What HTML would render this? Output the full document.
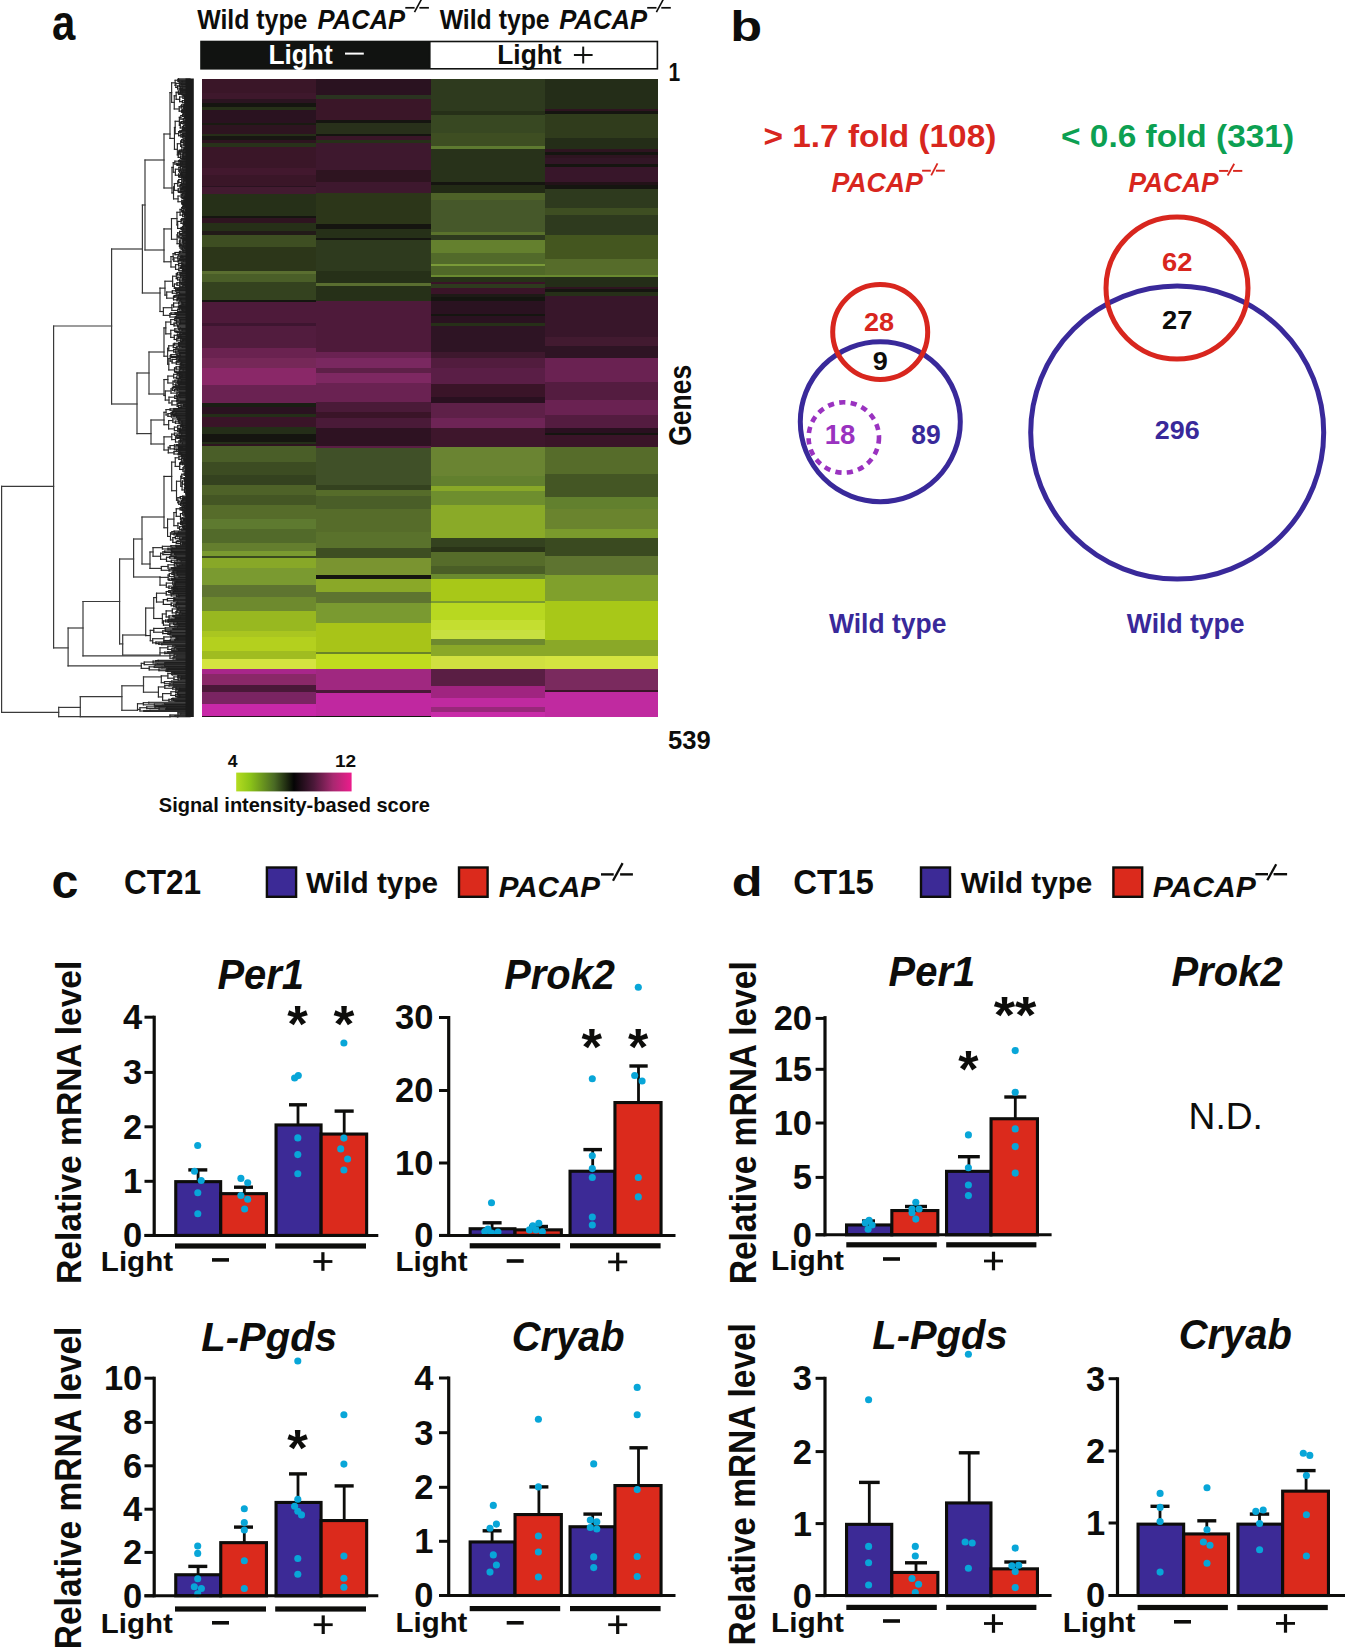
<!DOCTYPE html>
<html><head><meta charset="utf-8"><title>Figure</title>
<style>html,body{margin:0;padding:0;background:#fff;overflow:hidden;}svg{display:block;}
text{font-family:"Liberation Sans",sans-serif;}</style></head>
<body><svg width="1345" height="1647" viewBox="0 0 1345 1647">
<rect width="1345" height="1647" fill="#ffffff"/>
<text transform="translate(51.92,40.28) scale(0.8914,1.0701)" font-size="47" font-weight="bold" fill="#0d0d0b">a</text>
<text transform="translate(730.17,41.06) scale(1.1872,0.9830)" font-size="44" font-weight="bold" fill="#0d0d0b">b</text>
<text transform="translate(51.44,897.85) scale(1.0513,1.0359)" font-size="46" font-weight="bold" fill="#0d0d0b">c</text>
<text transform="translate(731.79,896.06) scale(1.2007,0.9826)" font-size="42" font-weight="bold" fill="#0d0d0b">d</text>
<text transform="translate(197.14,28.8) scale(0.9203,1.0000)" font-size="27.03" font-weight="bold" fill="#0d0d0b">Wild type</text>
<text transform="translate(317.51,28.8) scale(0.9470,1.0000)" font-size="27.03" font-weight="bold" font-style="italic" fill="#0d0d0b">PACAP</text>
<rect x="405.3" y="6.95" width="9.3" height="1.7" fill="#0d0d0b" />
<rect x="419.4" y="6.95" width="9.5" height="1.7" fill="#0d0d0b" />
<line x1="414.5" y1="12.2" x2="421.5" y2="-0.8" stroke="#0d0d0b" stroke-width="1.61" stroke-linecap="butt"/>
<text transform="translate(439.64,28.8) scale(0.9178,1.0000)" font-size="27.03" font-weight="bold" fill="#0d0d0b">Wild type</text>
<text transform="translate(559.21,28.8) scale(0.9492,1.0000)" font-size="27.03" font-weight="bold" font-style="italic" fill="#0d0d0b">PACAP</text>
<rect x="647.2" y="6.95" width="9.3" height="1.7" fill="#0d0d0b" />
<rect x="661.3" y="6.95" width="9.5" height="1.7" fill="#0d0d0b" />
<line x1="656.4" y1="12.2" x2="663.4" y2="-0.8" stroke="#0d0d0b" stroke-width="1.61" stroke-linecap="butt"/>
<rect x="200.2" y="40.7" width="228.8" height="28.9" fill="#111311" />
<rect x="429.8" y="41.5" width="227.6" height="27.3" fill="#ffffff" stroke="#111311" stroke-width="1.6"/>
<text transform="translate(268.38,63.5) scale(0.9643,1.0000)" font-size="27.33" font-weight="bold" fill="#ffffff">Light</text>
<rect x="345" y="52.6" width="18.8" height="2" fill="#ffffff" />
<text transform="translate(497.29,63.5) scale(0.9628,1.0000)" font-size="27.33" font-weight="bold" fill="#0d0d0b">Light</text>
<rect x="573.9" y="54" width="18.7" height="2" fill="#111311" />
<rect x="582.2" y="46.6" width="2" height="16.9" fill="#111311" />
<g shape-rendering="crispEdges">
<rect x="201.5" y="78.5" width="114" height="14.9" fill="#3a1628" />
<rect x="201.5" y="93.4" width="114" height="5.1" fill="#3e182c" />
<rect x="201.5" y="98.5" width="114" height="4.3" fill="#2a1420" />
<rect x="201.5" y="102.8" width="114" height="4.2" fill="#151510" />
<rect x="201.5" y="107" width="114" height="2.6" fill="#263018" />
<rect x="201.5" y="109.6" width="114" height="12.9" fill="#2a1220" />
<rect x="201.5" y="122.5" width="114" height="2.5" fill="#1a1a12" />
<rect x="201.5" y="125" width="114" height="8.6" fill="#2e1420" />
<rect x="201.5" y="133.6" width="114" height="2.4" fill="#262e18" />
<rect x="201.5" y="136" width="114" height="4.4" fill="#181612" />
<rect x="201.5" y="140.4" width="114" height="2.6" fill="#2e1420" />
<rect x="201.5" y="143" width="114" height="4.3" fill="#28321a" />
<rect x="201.5" y="147.3" width="114" height="20.7" fill="#3a1628" />
<rect x="201.5" y="168" width="114" height="7" fill="#42182e" />
<rect x="201.5" y="175" width="114" height="10.7" fill="#3a1628" />
<rect x="201.5" y="185.7" width="114" height="1.7" fill="#2a1220" />
<rect x="201.5" y="187.4" width="114" height="6.9" fill="#421a30" />
<rect x="201.5" y="194.3" width="114" height="21.3" fill="#263018" />
<rect x="201.5" y="215.6" width="114" height="2.6" fill="#151510" />
<rect x="201.5" y="218.2" width="114" height="4.3" fill="#2e1420" />
<rect x="201.5" y="222.5" width="114" height="8.5" fill="#263018" />
<rect x="201.5" y="231" width="114" height="4.3" fill="#221a18" />
<rect x="201.5" y="235.3" width="114" height="12" fill="#3e4e22" />
<rect x="201.5" y="247.3" width="114" height="23.9" fill="#2c3619" />
<rect x="201.5" y="271.2" width="114" height="2.6" fill="#5a6e30" />
<rect x="201.5" y="273.8" width="114" height="8.5" fill="#4a5e28" />
<rect x="201.5" y="282.3" width="114" height="18" fill="#34421f" />
<rect x="201.5" y="300.3" width="114" height="1.7" fill="#151510" />
<rect x="201.5" y="302" width="114" height="20.5" fill="#4e1a3a" />
<rect x="201.5" y="322.5" width="114" height="3.5" fill="#3e1530" />
<rect x="201.5" y="326" width="114" height="22.2" fill="#521c3e" />
<rect x="201.5" y="348.2" width="114" height="9.8" fill="#6a2250" />
<rect x="201.5" y="358" width="114" height="10.3" fill="#762858" />
<rect x="201.5" y="368.3" width="114" height="17.1" fill="#8a2868" />
<rect x="201.5" y="385.4" width="114" height="17.9" fill="#6a2252" />
<rect x="201.5" y="403.3" width="114" height="3.4" fill="#1a1e14" />
<rect x="201.5" y="406.7" width="114" height="7.7" fill="#2a1220" />
<rect x="201.5" y="414.4" width="114" height="2.6" fill="#242e18" />
<rect x="201.5" y="417" width="114" height="10.3" fill="#3a1428" />
<rect x="201.5" y="427.3" width="114" height="6.8" fill="#242e18" />
<rect x="201.5" y="434.1" width="114" height="7.7" fill="#151510" />
<rect x="201.5" y="441.8" width="114" height="1.7" fill="#242e18" />
<rect x="201.5" y="443.5" width="114" height="2.5" fill="#2e1420" />
<rect x="201.5" y="446" width="114" height="15.5" fill="#4a5e28" />
<rect x="201.5" y="461.5" width="114" height="13.5" fill="#3c4c22" />
<rect x="201.5" y="475" width="114" height="9.5" fill="#34421f" />
<rect x="201.5" y="484.5" width="114" height="10.3" fill="#4e6228" />
<rect x="201.5" y="494.8" width="114" height="10.2" fill="#445624" />
<rect x="201.5" y="505" width="114" height="13.7" fill="#566c2a" />
<rect x="201.5" y="518.7" width="114" height="10.3" fill="#5e7a30" />
<rect x="201.5" y="529" width="114" height="13.7" fill="#526a2a" />
<rect x="201.5" y="542.7" width="114" height="8.5" fill="#647e2e" />
<rect x="201.5" y="551.2" width="114" height="5.2" fill="#7a9a30" />
<rect x="201.5" y="556.4" width="114" height="2" fill="#3a4a20" />
<rect x="201.5" y="558.4" width="114" height="9.9" fill="#88a828" />
<rect x="201.5" y="568.3" width="114" height="17.1" fill="#7a9a30" />
<rect x="201.5" y="585.4" width="114" height="12" fill="#5e7430" />
<rect x="201.5" y="597.4" width="114" height="13.6" fill="#6e8a2e" />
<rect x="201.5" y="611" width="114" height="19.7" fill="#98b820" />
<rect x="201.5" y="630.7" width="114" height="6.1" fill="#aac620" />
<rect x="201.5" y="636.8" width="114" height="13.7" fill="#b4d01e" />
<rect x="201.5" y="650.5" width="114" height="8.5" fill="#a0bc20" />
<rect x="201.5" y="659" width="114" height="10.3" fill="#d4e440" />
<rect x="201.5" y="669.3" width="114" height="4.7" fill="#a8268a" />
<rect x="201.5" y="674" width="114" height="10.7" fill="#8a2868" />
<rect x="201.5" y="684.7" width="114" height="6.9" fill="#4a1838" />
<rect x="201.5" y="691.6" width="114" height="11.9" fill="#7a2462" />
<rect x="201.5" y="703.5" width="114" height="12" fill="#c828a8" />
<rect x="201.5" y="715.5" width="114" height="1.7" fill="#2a1020" />
<rect x="315.5" y="78.5" width="115" height="16.5" fill="#2a1220" />
<rect x="315.5" y="95" width="115" height="3.5" fill="#2a3320" />
<rect x="315.5" y="98.5" width="115" height="21.5" fill="#3a1628" />
<rect x="315.5" y="120" width="115" height="2.5" fill="#151510" />
<rect x="315.5" y="122.5" width="115" height="11.1" fill="#28301a" />
<rect x="315.5" y="133.6" width="115" height="2.4" fill="#151510" />
<rect x="315.5" y="136" width="115" height="4.4" fill="#3a1628" />
<rect x="315.5" y="140.4" width="115" height="2.6" fill="#263018" />
<rect x="315.5" y="143" width="115" height="27.3" fill="#3e182e" />
<rect x="315.5" y="170.3" width="115" height="12" fill="#2e1420" />
<rect x="315.5" y="182.3" width="115" height="10.3" fill="#3e182e" />
<rect x="315.5" y="192.6" width="115" height="31.6" fill="#2c3619" />
<rect x="315.5" y="224.2" width="115" height="4.3" fill="#151510" />
<rect x="315.5" y="228.5" width="115" height="9.4" fill="#263018" />
<rect x="315.5" y="237.9" width="115" height="1.7" fill="#151510" />
<rect x="315.5" y="239.6" width="115" height="31.6" fill="#2e3a1e" />
<rect x="315.5" y="271.2" width="115" height="12" fill="#263018" />
<rect x="315.5" y="283.2" width="115" height="2.6" fill="#5a6e30" />
<rect x="315.5" y="285.8" width="115" height="15.4" fill="#263018" />
<rect x="315.5" y="301.2" width="115" height="50.4" fill="#4e1a3a" />
<rect x="315.5" y="351.6" width="115" height="6.4" fill="#6a2252" />
<rect x="315.5" y="358" width="115" height="10.3" fill="#7a2860" />
<rect x="315.5" y="368.3" width="115" height="4.2" fill="#5e2048" />
<rect x="315.5" y="372.5" width="115" height="10.3" fill="#7e2862" />
<rect x="315.5" y="382.8" width="115" height="18.8" fill="#6a2252" />
<rect x="315.5" y="401.6" width="115" height="10.4" fill="#4a1a38" />
<rect x="315.5" y="412" width="115" height="6" fill="#3a1428" />
<rect x="315.5" y="418" width="115" height="10" fill="#4a1a38" />
<rect x="315.5" y="428" width="115" height="17.5" fill="#2e1222" />
<rect x="315.5" y="445.5" width="115" height="2.3" fill="#5a1e44" />
<rect x="315.5" y="447.8" width="115" height="36.7" fill="#405028" />
<rect x="315.5" y="484.5" width="115" height="5.2" fill="#34421f" />
<rect x="315.5" y="489.7" width="115" height="6.3" fill="#566c2a" />
<rect x="315.5" y="496" width="115" height="12.5" fill="#4a5e28" />
<rect x="315.5" y="508.5" width="115" height="23.1" fill="#566c2a" />
<rect x="315.5" y="531.6" width="115" height="16.2" fill="#5a722c" />
<rect x="315.5" y="547.8" width="115" height="10.2" fill="#3e4e22" />
<rect x="315.5" y="558" width="115" height="17.2" fill="#7a9430" />
<rect x="315.5" y="575.2" width="115" height="3.4" fill="#151510" />
<rect x="315.5" y="578.6" width="115" height="13.7" fill="#8aa828" />
<rect x="315.5" y="592.3" width="115" height="10.2" fill="#5e7430" />
<rect x="315.5" y="602.5" width="115" height="20.5" fill="#7a9a30" />
<rect x="315.5" y="623" width="115" height="29.2" fill="#a8c418" />
<rect x="315.5" y="652.2" width="115" height="1.8" fill="#6a8428" />
<rect x="315.5" y="654" width="115" height="15.3" fill="#c0dc1e" />
<rect x="315.5" y="669.3" width="115" height="20.5" fill="#a02880" />
<rect x="315.5" y="689.8" width="115" height="3.5" fill="#4a1838" />
<rect x="315.5" y="693.3" width="115" height="22.2" fill="#c028a0" />
<rect x="315.5" y="715.5" width="115" height="1.7" fill="#151510" />
<rect x="430.5" y="78.5" width="114" height="32" fill="#2e3a1e" />
<rect x="430.5" y="110.5" width="114" height="4.3" fill="#263018" />
<rect x="430.5" y="114.8" width="114" height="18.2" fill="#384822" />
<rect x="430.5" y="133" width="114" height="13.4" fill="#3e4e22" />
<rect x="430.5" y="146.4" width="114" height="2.6" fill="#5e7a30" />
<rect x="430.5" y="149" width="114" height="32.5" fill="#28321a" />
<rect x="430.5" y="181.5" width="114" height="3.4" fill="#151510" />
<rect x="430.5" y="184.9" width="114" height="8.5" fill="#222a15" />
<rect x="430.5" y="193.4" width="114" height="6.6" fill="#4e6228" />
<rect x="430.5" y="200" width="114" height="32" fill="#46582a" />
<rect x="430.5" y="232" width="114" height="3.3" fill="#5a722c" />
<rect x="430.5" y="235.3" width="114" height="4.3" fill="#2e3a1e" />
<rect x="430.5" y="239.6" width="114" height="13.7" fill="#64802e" />
<rect x="430.5" y="253.3" width="114" height="10.2" fill="#526a2a" />
<rect x="430.5" y="263.5" width="114" height="2.6" fill="#7a9a38" />
<rect x="430.5" y="266.1" width="114" height="8.6" fill="#506828" />
<rect x="430.5" y="274.7" width="114" height="2.5" fill="#6a8a30" />
<rect x="430.5" y="277.2" width="114" height="4.3" fill="#263018" />
<rect x="430.5" y="281.5" width="114" height="2.5" fill="#3a1428" />
<rect x="430.5" y="284" width="114" height="4.3" fill="#2e3a1e" />
<rect x="430.5" y="288.3" width="114" height="5.2" fill="#3a1428" />
<rect x="430.5" y="293.5" width="114" height="3.4" fill="#1e1a16" />
<rect x="430.5" y="296.9" width="114" height="4.3" fill="#151510" />
<rect x="430.5" y="301.2" width="114" height="12.8" fill="#2a1220" />
<rect x="430.5" y="314" width="114" height="1.7" fill="#151510" />
<rect x="430.5" y="315.7" width="114" height="6.8" fill="#2a1220" />
<rect x="430.5" y="322.5" width="114" height="3.5" fill="#263018" />
<rect x="430.5" y="326" width="114" height="25.6" fill="#2e1424" />
<rect x="430.5" y="351.6" width="114" height="6.4" fill="#3e182e" />
<rect x="430.5" y="358" width="114" height="10.3" fill="#521c3e" />
<rect x="430.5" y="368.3" width="114" height="15.3" fill="#5a1e46" />
<rect x="430.5" y="383.6" width="114" height="13.4" fill="#3a1428" />
<rect x="430.5" y="397" width="114" height="6.3" fill="#2a1020" />
<rect x="430.5" y="403.3" width="114" height="14.7" fill="#5e2048" />
<rect x="430.5" y="418" width="114" height="10.1" fill="#6e2456" />
<rect x="430.5" y="428.1" width="114" height="18.8" fill="#3e162c" />
<rect x="430.5" y="446.9" width="114" height="29.1" fill="#6a8432" />
<rect x="430.5" y="476" width="114" height="10.2" fill="#62802e" />
<rect x="430.5" y="486.2" width="114" height="4.8" fill="#88a828" />
<rect x="430.5" y="491" width="114" height="14" fill="#6e8e2e" />
<rect x="430.5" y="505" width="114" height="32.5" fill="#8aaa28" />
<rect x="430.5" y="537.5" width="114" height="9.5" fill="#34421f" />
<rect x="430.5" y="547" width="114" height="5.1" fill="#2a3418" />
<rect x="430.5" y="552.1" width="114" height="13.9" fill="#566c2a" />
<rect x="430.5" y="566" width="114" height="7.5" fill="#4a5e26" />
<rect x="430.5" y="573.5" width="114" height="5.1" fill="#6a8a2e" />
<rect x="430.5" y="578.6" width="114" height="22.2" fill="#a8c818" />
<rect x="430.5" y="600.8" width="114" height="1.7" fill="#7a9a30" />
<rect x="430.5" y="602.5" width="114" height="17.5" fill="#b8d820" />
<rect x="430.5" y="620" width="114" height="10" fill="#c4de30" />
<rect x="430.5" y="630" width="114" height="8.5" fill="#c8e040" />
<rect x="430.5" y="638.5" width="114" height="6.9" fill="#6e8a2e" />
<rect x="430.5" y="645.4" width="114" height="10.2" fill="#8aa828" />
<rect x="430.5" y="655.6" width="114" height="13.7" fill="#d0e040" />
<rect x="430.5" y="669.3" width="114" height="17.1" fill="#5a1e44" />
<rect x="430.5" y="686.4" width="114" height="12" fill="#a02480" />
<rect x="430.5" y="698.4" width="114" height="8.6" fill="#c02aa0" />
<rect x="430.5" y="707" width="114" height="5" fill="#98287a" />
<rect x="430.5" y="712" width="114" height="5.2" fill="#c82ca8" />
<rect x="544.5" y="78.5" width="113.5" height="30.3" fill="#242d18" />
<rect x="544.5" y="108.8" width="113.5" height="2.5" fill="#2e1420" />
<rect x="544.5" y="111.3" width="113.5" height="2.6" fill="#151510" />
<rect x="544.5" y="113.9" width="113.5" height="23.9" fill="#303c1c" />
<rect x="544.5" y="137.8" width="113.5" height="11.2" fill="#242d18" />
<rect x="544.5" y="149" width="113.5" height="2.5" fill="#2e1420" />
<rect x="544.5" y="151.5" width="113.5" height="3.5" fill="#151510" />
<rect x="544.5" y="155" width="113.5" height="2.5" fill="#2e1420" />
<rect x="544.5" y="157.5" width="113.5" height="6.9" fill="#321626" />
<rect x="544.5" y="164.4" width="113.5" height="2.5" fill="#151510" />
<rect x="544.5" y="166.9" width="113.5" height="15.4" fill="#38162a" />
<rect x="544.5" y="182.3" width="113.5" height="2.6" fill="#221218" />
<rect x="544.5" y="184.9" width="113.5" height="4.3" fill="#151510" />
<rect x="544.5" y="189.2" width="113.5" height="18.8" fill="#2e3a1e" />
<rect x="544.5" y="208" width="113.5" height="7" fill="#3e4e22" />
<rect x="544.5" y="215" width="113.5" height="20.3" fill="#2e3a1e" />
<rect x="544.5" y="235.3" width="113.5" height="24" fill="#44561f" />
<rect x="544.5" y="259.3" width="113.5" height="15.4" fill="#566c2a" />
<rect x="544.5" y="274.7" width="113.5" height="2.5" fill="#6a8a30" />
<rect x="544.5" y="277.2" width="113.5" height="9.4" fill="#242d18" />
<rect x="544.5" y="286.6" width="113.5" height="2.6" fill="#2e1420" />
<rect x="544.5" y="289.2" width="113.5" height="2.5" fill="#151510" />
<rect x="544.5" y="291.7" width="113.5" height="4.3" fill="#263018" />
<rect x="544.5" y="296" width="113.5" height="41" fill="#38162a" />
<rect x="544.5" y="337" width="113.5" height="8.6" fill="#421a30" />
<rect x="544.5" y="345.6" width="113.5" height="12.4" fill="#2e1424" />
<rect x="544.5" y="358" width="113.5" height="24" fill="#6a2252" />
<rect x="544.5" y="382" width="113.5" height="18" fill="#541c40" />
<rect x="544.5" y="400" width="113.5" height="15" fill="#6a2252" />
<rect x="544.5" y="415" width="113.5" height="13.1" fill="#541c40" />
<rect x="544.5" y="428.1" width="113.5" height="5.1" fill="#2a1020" />
<rect x="544.5" y="433.2" width="113.5" height="1.8" fill="#151510" />
<rect x="544.5" y="435" width="113.5" height="12" fill="#3a1428" />
<rect x="544.5" y="447" width="113.5" height="27.3" fill="#566c2a" />
<rect x="544.5" y="474.3" width="113.5" height="22.2" fill="#445624" />
<rect x="544.5" y="496.5" width="113.5" height="12" fill="#62802e" />
<rect x="544.5" y="508.5" width="113.5" height="20.5" fill="#6a842e" />
<rect x="544.5" y="529" width="113.5" height="9.4" fill="#7a9a2c" />
<rect x="544.5" y="538.4" width="113.5" height="18" fill="#3a4a20" />
<rect x="544.5" y="556.4" width="113.5" height="18.8" fill="#5e7430" />
<rect x="544.5" y="575.2" width="113.5" height="25.6" fill="#80a02c" />
<rect x="544.5" y="600.8" width="113.5" height="39.5" fill="#a8c818" />
<rect x="544.5" y="640.3" width="113.5" height="15.3" fill="#8aa828" />
<rect x="544.5" y="655.6" width="113.5" height="13.7" fill="#d4e440" />
<rect x="544.5" y="669.3" width="113.5" height="20.5" fill="#7a2a5e" />
<rect x="544.5" y="689.8" width="113.5" height="1.8" fill="#3a1428" />
<rect x="544.5" y="691.6" width="113.5" height="25.6" fill="#c02aa0" />
</g>
<g fill="none" stroke-linecap="square">
<path d="M1.6 486.4L1.6 712.3" stroke="#3a3a3a" stroke-width="1.2"/>
<path d="M1.6 486.4L53.6 486.4" stroke="#3a3a3a" stroke-width="1.2"/>
<path d="M1.6 712.3L58.7 712.3" stroke="#3a3a3a" stroke-width="1.2"/>
<path d="M53.6 326L53.6 647.9" stroke="#3a3a3a" stroke-width="1.2"/>
<path d="M53.6 326L111.6 326" stroke="#3a3a3a" stroke-width="1.2"/>
<path d="M53.6 647.9L68.1 647.9" stroke="#3a3a3a" stroke-width="1.2"/>
<path d="M111.6 249L111.6 404" stroke="#3a3a3a" stroke-width="1.2"/>
<path d="M111.6 249L142.4 249" stroke="#3a3a3a" stroke-width="1.2"/>
<path d="M111.6 404L137 404" stroke="#3a3a3a" stroke-width="1.2"/>
<path d="M142.4 205L142.4 293" stroke="#3a3a3a" stroke-width="1.2"/>
<path d="M142.4 205L145 205" stroke="#3a3a3a" stroke-width="1.2"/>
<path d="M142.4 293L160 293" stroke="#3a3a3a" stroke-width="1.2"/>
<path d="M145 160L145 250" stroke="#3a3a3a" stroke-width="1.2"/>
<path d="M145 160L164 160" stroke="#3a3a3a" stroke-width="1.2"/>
<path d="M145 250L164 250" stroke="#3a3a3a" stroke-width="1.2"/>
<path d="M164 134L164 188" stroke="#3a3a3a" stroke-width="1.2"/>
<path d="M164 134L170 134" stroke="#3a3a3a" stroke-width="1.2"/>
<path d="M164 188L172 188" stroke="#3a3a3a" stroke-width="1.2"/>
<path d="M137 373L137 433.6" stroke="#3a3a3a" stroke-width="1.2"/>
<path d="M137 373L149 373" stroke="#3a3a3a" stroke-width="1.2"/>
<path d="M137 433.6L151 433.6" stroke="#3a3a3a" stroke-width="1.2"/>
<path d="M149 352L149 394" stroke="#3a3a3a" stroke-width="1.2"/>
<path d="M149 352L164 352" stroke="#3a3a3a" stroke-width="1.2"/>
<path d="M149 394L164 394" stroke="#3a3a3a" stroke-width="1.2"/>
<path d="M151 420L151 444" stroke="#3a3a3a" stroke-width="1.2"/>
<path d="M151 420L164 420" stroke="#3a3a3a" stroke-width="1.2"/>
<path d="M151 444L164 444" stroke="#3a3a3a" stroke-width="1.2"/>
<path d="M68.1 628L68.1 665.9" stroke="#3a3a3a" stroke-width="1.2"/>
<path d="M68.1 628L83 628" stroke="#3a3a3a" stroke-width="1.2"/>
<path d="M68.1 665.9L141.3 665.9" stroke="#3a3a3a" stroke-width="1.2"/>
<path d="M83 601.5L83 655.8" stroke="#3a3a3a" stroke-width="1.2"/>
<path d="M83 601.5L119.6 601.5" stroke="#3a3a3a" stroke-width="1.2"/>
<path d="M83 655.8L170 655.8" stroke="#3a3a3a" stroke-width="1.2"/>
<path d="M119.6 559L119.6 643.9" stroke="#3a3a3a" stroke-width="1.2"/>
<path d="M119.6 559L133.6 559" stroke="#3a3a3a" stroke-width="1.2"/>
<path d="M119.6 643.9L122.7 643.9" stroke="#3a3a3a" stroke-width="1.2"/>
<path d="M133.6 539L133.6 577" stroke="#3a3a3a" stroke-width="1.2"/>
<path d="M133.6 539L142 539" stroke="#3a3a3a" stroke-width="1.2"/>
<path d="M133.6 577L160 577" stroke="#3a3a3a" stroke-width="1.2"/>
<path d="M142 517L142 564" stroke="#3a3a3a" stroke-width="1.2"/>
<path d="M142 517L164 517" stroke="#3a3a3a" stroke-width="1.2"/>
<path d="M142 564L150 564" stroke="#3a3a3a" stroke-width="1.2"/>
<path d="M122.7 635L122.7 655" stroke="#3a3a3a" stroke-width="1.2"/>
<path d="M122.7 635L145.7 635" stroke="#3a3a3a" stroke-width="1.2"/>
<path d="M122.7 655L160 655" stroke="#3a3a3a" stroke-width="1.2"/>
<path d="M58.7 707.4L58.7 716.7" stroke="#3a3a3a" stroke-width="1.2"/>
<path d="M58.7 707.4L80.3 707.4" stroke="#3a3a3a" stroke-width="1.2"/>
<path d="M58.7 716.7L170 716.7" stroke="#3a3a3a" stroke-width="1.2"/>
<path d="M80.3 696.7L80.3 716.7" stroke="#3a3a3a" stroke-width="1.2"/>
<path d="M80.3 696.7L121.9 696.7" stroke="#3a3a3a" stroke-width="1.2"/>
<path d="M80.3 716.7L178 716.7" stroke="#3a3a3a" stroke-width="1.2"/>
<path d="M121.9 685.8L121.9 710.3" stroke="#3a3a3a" stroke-width="1.2"/>
<path d="M121.9 685.8L143.5 685.8" stroke="#3a3a3a" stroke-width="1.2"/>
<path d="M121.9 710.3L137.5 710.3" stroke="#3a3a3a" stroke-width="1.2"/>
<path d="M143.5 676.9L143.5 692.2" stroke="#3a3a3a" stroke-width="1.2"/>
<path d="M143.5 676.9L161.3 676.9" stroke="#3a3a3a" stroke-width="1.2"/>
<path d="M143.5 692.2L158.4 692.2" stroke="#3a3a3a" stroke-width="1.2"/>
<path d="M178.56 78.91L178.56 79.8" stroke="#1e1e1e" stroke-width="1.15"/>
<path d="M178.56 78.91L190 78.91" stroke="#1e1e1e" stroke-width="1.15"/>
<path d="M178.56 79.8L190 79.8" stroke="#1e1e1e" stroke-width="1.15"/>
<path d="M182.11 81.34L182.11 81.94" stroke="#1e1e1e" stroke-width="1.15"/>
<path d="M182.11 81.34L190 81.34" stroke="#1e1e1e" stroke-width="1.15"/>
<path d="M182.11 81.94L190 81.94" stroke="#1e1e1e" stroke-width="1.15"/>
<path d="M178.64 80.64L178.64 81.64" stroke="#1e1e1e" stroke-width="1.15"/>
<path d="M178.64 80.64L190 80.64" stroke="#1e1e1e" stroke-width="1.15"/>
<path d="M178.64 81.64L182.11 81.64" stroke="#1e1e1e" stroke-width="1.15"/>
<path d="M177.84 79.35L177.84 81.14" stroke="#1e1e1e" stroke-width="1.15"/>
<path d="M177.84 79.35L178.56 79.35" stroke="#1e1e1e" stroke-width="1.15"/>
<path d="M177.84 81.14L178.64 81.14" stroke="#1e1e1e" stroke-width="1.15"/>
<path d="M181.13 83.61L181.13 84.41" stroke="#1e1e1e" stroke-width="1.15"/>
<path d="M181.13 83.61L190 83.61" stroke="#1e1e1e" stroke-width="1.15"/>
<path d="M181.13 84.41L190 84.41" stroke="#1e1e1e" stroke-width="1.15"/>
<path d="M179.84 82.67L179.84 84.01" stroke="#1e1e1e" stroke-width="1.15"/>
<path d="M179.84 82.67L190 82.67" stroke="#1e1e1e" stroke-width="1.15"/>
<path d="M179.84 84.01L181.13 84.01" stroke="#1e1e1e" stroke-width="1.15"/>
<path d="M181.95 85.97L181.95 86.54" stroke="#1e1e1e" stroke-width="1.15"/>
<path d="M181.95 85.97L190 85.97" stroke="#1e1e1e" stroke-width="1.15"/>
<path d="M181.95 86.54L190 86.54" stroke="#1e1e1e" stroke-width="1.15"/>
<path d="M180.42 86.25L180.42 87.23" stroke="#1e1e1e" stroke-width="1.15"/>
<path d="M180.42 86.25L181.95 86.25" stroke="#1e1e1e" stroke-width="1.15"/>
<path d="M180.42 87.23L190 87.23" stroke="#1e1e1e" stroke-width="1.15"/>
<path d="M179.38 85.19L179.38 86.74" stroke="#1e1e1e" stroke-width="1.15"/>
<path d="M179.38 85.19L190 85.19" stroke="#1e1e1e" stroke-width="1.15"/>
<path d="M179.38 86.74L180.42 86.74" stroke="#1e1e1e" stroke-width="1.15"/>
<path d="M182.35 88.04L182.35 88.77" stroke="#1e1e1e" stroke-width="1.15"/>
<path d="M182.35 88.04L190 88.04" stroke="#1e1e1e" stroke-width="1.15"/>
<path d="M182.35 88.77L190 88.77" stroke="#1e1e1e" stroke-width="1.15"/>
<path d="M179.99 88.41L179.99 89.57" stroke="#1e1e1e" stroke-width="1.15"/>
<path d="M179.99 88.41L182.35 88.41" stroke="#1e1e1e" stroke-width="1.15"/>
<path d="M179.99 89.57L190 89.57" stroke="#1e1e1e" stroke-width="1.15"/>
<path d="M177.59 85.96L177.59 88.99" stroke="#1e1e1e" stroke-width="1.15"/>
<path d="M177.59 85.96L179.38 85.96" stroke="#1e1e1e" stroke-width="1.15"/>
<path d="M177.59 88.99L179.99 88.99" stroke="#1e1e1e" stroke-width="1.15"/>
<path d="M175.88 83.34L175.88 87.47" stroke="#1e1e1e" stroke-width="1.15"/>
<path d="M175.88 83.34L179.84 83.34" stroke="#1e1e1e" stroke-width="1.15"/>
<path d="M175.88 87.47L177.59 87.47" stroke="#1e1e1e" stroke-width="1.15"/>
<path d="M175.13 80.25L175.13 85.41" stroke="#2a2a2a" stroke-width="1.15"/>
<path d="M175.13 80.25L177.84 80.25" stroke="#2a2a2a" stroke-width="1.15"/>
<path d="M175.13 85.41L175.88 85.41" stroke="#2a2a2a" stroke-width="1.15"/>
<path d="M180.4 90.51L180.4 91.38" stroke="#1e1e1e" stroke-width="1.15"/>
<path d="M180.4 90.51L190 90.51" stroke="#1e1e1e" stroke-width="1.15"/>
<path d="M180.4 91.38L190 91.38" stroke="#1e1e1e" stroke-width="1.15"/>
<path d="M182.3 92.1L182.3 92.64" stroke="#1e1e1e" stroke-width="1.15"/>
<path d="M182.3 92.1L190 92.1" stroke="#1e1e1e" stroke-width="1.15"/>
<path d="M182.3 92.64L190 92.64" stroke="#1e1e1e" stroke-width="1.15"/>
<path d="M180.34 92.37L180.34 93.3" stroke="#1e1e1e" stroke-width="1.15"/>
<path d="M180.34 92.37L182.3 92.37" stroke="#1e1e1e" stroke-width="1.15"/>
<path d="M180.34 93.3L190 93.3" stroke="#1e1e1e" stroke-width="1.15"/>
<path d="M181.53 94.07L181.53 94.61" stroke="#1e1e1e" stroke-width="1.15"/>
<path d="M181.53 94.07L190 94.07" stroke="#1e1e1e" stroke-width="1.15"/>
<path d="M181.53 94.61L190 94.61" stroke="#1e1e1e" stroke-width="1.15"/>
<path d="M178.93 92.84L178.93 94.34" stroke="#1e1e1e" stroke-width="1.15"/>
<path d="M178.93 92.84L180.34 92.84" stroke="#1e1e1e" stroke-width="1.15"/>
<path d="M178.93 94.34L181.53 94.34" stroke="#1e1e1e" stroke-width="1.15"/>
<path d="M178.33 90.95L178.33 93.59" stroke="#1e1e1e" stroke-width="1.15"/>
<path d="M178.33 90.95L180.4 90.95" stroke="#1e1e1e" stroke-width="1.15"/>
<path d="M178.33 93.59L178.93 93.59" stroke="#1e1e1e" stroke-width="1.15"/>
<path d="M184.51 95.74L184.51 96.47" stroke="#1e1e1e" stroke-width="1.15"/>
<path d="M184.51 95.74L190 95.74" stroke="#1e1e1e" stroke-width="1.15"/>
<path d="M184.51 96.47L190 96.47" stroke="#1e1e1e" stroke-width="1.15"/>
<path d="M183.98 95.17L183.98 96.11" stroke="#1e1e1e" stroke-width="1.15"/>
<path d="M183.98 95.17L190 95.17" stroke="#1e1e1e" stroke-width="1.15"/>
<path d="M183.98 96.11L184.51 96.11" stroke="#1e1e1e" stroke-width="1.15"/>
<path d="M185.14 97.28L185.14 97.8" stroke="#1e1e1e" stroke-width="1.15"/>
<path d="M185.14 97.28L190 97.28" stroke="#1e1e1e" stroke-width="1.15"/>
<path d="M185.14 97.8L190 97.8" stroke="#1e1e1e" stroke-width="1.15"/>
<path d="M186.69 98.31L186.69 98.81" stroke="#1e1e1e" stroke-width="1.15"/>
<path d="M186.69 98.31L190 98.31" stroke="#1e1e1e" stroke-width="1.15"/>
<path d="M186.69 98.81L190 98.81" stroke="#1e1e1e" stroke-width="1.15"/>
<path d="M185.36 98.56L185.36 99.45" stroke="#1e1e1e" stroke-width="1.15"/>
<path d="M185.36 98.56L186.69 98.56" stroke="#1e1e1e" stroke-width="1.15"/>
<path d="M185.36 99.45L190 99.45" stroke="#1e1e1e" stroke-width="1.15"/>
<path d="M184.54 97.54L184.54 99.01" stroke="#1e1e1e" stroke-width="1.15"/>
<path d="M184.54 97.54L185.14 97.54" stroke="#1e1e1e" stroke-width="1.15"/>
<path d="M184.54 99.01L185.36 99.01" stroke="#1e1e1e" stroke-width="1.15"/>
<path d="M182.94 95.64L182.94 98.27" stroke="#1e1e1e" stroke-width="1.15"/>
<path d="M182.94 95.64L183.98 95.64" stroke="#1e1e1e" stroke-width="1.15"/>
<path d="M182.94 98.27L184.54 98.27" stroke="#1e1e1e" stroke-width="1.15"/>
<path d="M185.18 100.78L185.18 101.35" stroke="#1e1e1e" stroke-width="1.15"/>
<path d="M185.18 100.78L190 100.78" stroke="#1e1e1e" stroke-width="1.15"/>
<path d="M185.18 101.35L190 101.35" stroke="#1e1e1e" stroke-width="1.15"/>
<path d="M184.62 100.23L184.62 101.06" stroke="#1e1e1e" stroke-width="1.15"/>
<path d="M184.62 100.23L190 100.23" stroke="#1e1e1e" stroke-width="1.15"/>
<path d="M184.62 101.06L185.18 101.06" stroke="#1e1e1e" stroke-width="1.15"/>
<path d="M185.59 102.89L185.59 103.55" stroke="#1e1e1e" stroke-width="1.15"/>
<path d="M185.59 102.89L190 102.89" stroke="#1e1e1e" stroke-width="1.15"/>
<path d="M185.59 103.55L190 103.55" stroke="#1e1e1e" stroke-width="1.15"/>
<path d="M184.77 102.14L184.77 103.22" stroke="#1e1e1e" stroke-width="1.15"/>
<path d="M184.77 102.14L190 102.14" stroke="#1e1e1e" stroke-width="1.15"/>
<path d="M184.77 103.22L185.59 103.22" stroke="#1e1e1e" stroke-width="1.15"/>
<path d="M182.44 100.65L182.44 102.68" stroke="#1e1e1e" stroke-width="1.15"/>
<path d="M182.44 100.65L184.62 100.65" stroke="#1e1e1e" stroke-width="1.15"/>
<path d="M182.44 102.68L184.77 102.68" stroke="#1e1e1e" stroke-width="1.15"/>
<path d="M179.65 96.96L179.65 101.66" stroke="#1e1e1e" stroke-width="1.15"/>
<path d="M179.65 96.96L182.94 96.96" stroke="#1e1e1e" stroke-width="1.15"/>
<path d="M179.65 101.66L182.44 101.66" stroke="#1e1e1e" stroke-width="1.15"/>
<path d="M176.16 92.27L176.16 99.31" stroke="#1e1e1e" stroke-width="1.15"/>
<path d="M176.16 92.27L178.33 92.27" stroke="#1e1e1e" stroke-width="1.15"/>
<path d="M176.16 99.31L179.65 99.31" stroke="#1e1e1e" stroke-width="1.15"/>
<path d="M184.46 105.09L184.46 105.61" stroke="#1e1e1e" stroke-width="1.15"/>
<path d="M184.46 105.09L190 105.09" stroke="#1e1e1e" stroke-width="1.15"/>
<path d="M184.46 105.61L190 105.61" stroke="#1e1e1e" stroke-width="1.15"/>
<path d="M184.05 104.36L184.05 105.35" stroke="#1e1e1e" stroke-width="1.15"/>
<path d="M184.05 104.36L190 104.36" stroke="#1e1e1e" stroke-width="1.15"/>
<path d="M184.05 105.35L184.46 105.35" stroke="#1e1e1e" stroke-width="1.15"/>
<path d="M183.87 106.08L183.87 106.69" stroke="#1e1e1e" stroke-width="1.15"/>
<path d="M183.87 106.08L190 106.08" stroke="#1e1e1e" stroke-width="1.15"/>
<path d="M183.87 106.69L190 106.69" stroke="#1e1e1e" stroke-width="1.15"/>
<path d="M181.68 104.85L181.68 106.39" stroke="#1e1e1e" stroke-width="1.15"/>
<path d="M181.68 104.85L184.05 104.85" stroke="#1e1e1e" stroke-width="1.15"/>
<path d="M181.68 106.39L183.87 106.39" stroke="#1e1e1e" stroke-width="1.15"/>
<path d="M184.55 108.73L184.55 109.26" stroke="#1e1e1e" stroke-width="1.15"/>
<path d="M184.55 108.73L190 108.73" stroke="#1e1e1e" stroke-width="1.15"/>
<path d="M184.55 109.26L190 109.26" stroke="#1e1e1e" stroke-width="1.15"/>
<path d="M184.28 108.11L184.28 108.99" stroke="#1e1e1e" stroke-width="1.15"/>
<path d="M184.28 108.11L190 108.11" stroke="#1e1e1e" stroke-width="1.15"/>
<path d="M184.28 108.99L184.55 108.99" stroke="#1e1e1e" stroke-width="1.15"/>
<path d="M183.77 107.45L183.77 108.55" stroke="#1e1e1e" stroke-width="1.15"/>
<path d="M183.77 107.45L190 107.45" stroke="#1e1e1e" stroke-width="1.15"/>
<path d="M183.77 108.55L184.28 108.55" stroke="#1e1e1e" stroke-width="1.15"/>
<path d="M181.2 105.62L181.2 108" stroke="#1e1e1e" stroke-width="1.15"/>
<path d="M181.2 105.62L181.68 105.62" stroke="#1e1e1e" stroke-width="1.15"/>
<path d="M181.2 108L183.77 108" stroke="#1e1e1e" stroke-width="1.15"/>
<path d="M185 110.27L185 110.8" stroke="#1e1e1e" stroke-width="1.15"/>
<path d="M185 110.27L190 110.27" stroke="#1e1e1e" stroke-width="1.15"/>
<path d="M185 110.8L190 110.8" stroke="#1e1e1e" stroke-width="1.15"/>
<path d="M182.67 109.73L182.67 110.53" stroke="#1e1e1e" stroke-width="1.15"/>
<path d="M182.67 109.73L190 109.73" stroke="#1e1e1e" stroke-width="1.15"/>
<path d="M182.67 110.53L185 110.53" stroke="#1e1e1e" stroke-width="1.15"/>
<path d="M184.09 112.25L184.09 112.75" stroke="#1e1e1e" stroke-width="1.15"/>
<path d="M184.09 112.25L190 112.25" stroke="#1e1e1e" stroke-width="1.15"/>
<path d="M184.09 112.75L190 112.75" stroke="#1e1e1e" stroke-width="1.15"/>
<path d="M183.54 112.5L183.54 113.21" stroke="#1e1e1e" stroke-width="1.15"/>
<path d="M183.54 112.5L184.09 112.5" stroke="#1e1e1e" stroke-width="1.15"/>
<path d="M183.54 113.21L190 113.21" stroke="#1e1e1e" stroke-width="1.15"/>
<path d="M182.71 111.49L182.71 112.86" stroke="#1e1e1e" stroke-width="1.15"/>
<path d="M182.71 111.49L190 111.49" stroke="#1e1e1e" stroke-width="1.15"/>
<path d="M182.71 112.86L183.54 112.86" stroke="#1e1e1e" stroke-width="1.15"/>
<path d="M181.51 110.13L181.51 112.17" stroke="#1e1e1e" stroke-width="1.15"/>
<path d="M181.51 110.13L182.67 110.13" stroke="#1e1e1e" stroke-width="1.15"/>
<path d="M181.51 112.17L182.71 112.17" stroke="#1e1e1e" stroke-width="1.15"/>
<path d="M179.21 106.81L179.21 111.15" stroke="#1e1e1e" stroke-width="1.15"/>
<path d="M179.21 106.81L181.2 106.81" stroke="#1e1e1e" stroke-width="1.15"/>
<path d="M179.21 111.15L181.51 111.15" stroke="#1e1e1e" stroke-width="1.15"/>
<path d="M174.26 95.79L174.26 108.98" stroke="#2a2a2a" stroke-width="1.15"/>
<path d="M174.26 95.79L176.16 95.79" stroke="#2a2a2a" stroke-width="1.15"/>
<path d="M174.26 108.98L179.21 108.98" stroke="#2a2a2a" stroke-width="1.15"/>
<path d="M171.64 82.83L171.64 102.38" stroke="#2a2a2a" stroke-width="1.15"/>
<path d="M171.64 82.83L175.13 82.83" stroke="#2a2a2a" stroke-width="1.15"/>
<path d="M171.64 102.38L174.26 102.38" stroke="#2a2a2a" stroke-width="1.15"/>
<path d="M185.21 113.89L185.21 114.51" stroke="#1e1e1e" stroke-width="1.15"/>
<path d="M185.21 113.89L190 113.89" stroke="#1e1e1e" stroke-width="1.15"/>
<path d="M185.21 114.51L190 114.51" stroke="#1e1e1e" stroke-width="1.15"/>
<path d="M183.36 114.2L183.36 115" stroke="#1e1e1e" stroke-width="1.15"/>
<path d="M183.36 114.2L185.21 114.2" stroke="#1e1e1e" stroke-width="1.15"/>
<path d="M183.36 115L190 115" stroke="#1e1e1e" stroke-width="1.15"/>
<path d="M185.34 115.46L185.34 116.05" stroke="#1e1e1e" stroke-width="1.15"/>
<path d="M185.34 115.46L190 115.46" stroke="#1e1e1e" stroke-width="1.15"/>
<path d="M185.34 116.05L190 116.05" stroke="#1e1e1e" stroke-width="1.15"/>
<path d="M184.84 116.79L184.84 117.36" stroke="#1e1e1e" stroke-width="1.15"/>
<path d="M184.84 116.79L190 116.79" stroke="#1e1e1e" stroke-width="1.15"/>
<path d="M184.84 117.36L190 117.36" stroke="#1e1e1e" stroke-width="1.15"/>
<path d="M184.58 115.75L184.58 117.07" stroke="#1e1e1e" stroke-width="1.15"/>
<path d="M184.58 115.75L185.34 115.75" stroke="#1e1e1e" stroke-width="1.15"/>
<path d="M184.58 117.07L184.84 117.07" stroke="#1e1e1e" stroke-width="1.15"/>
<path d="M182.6 114.6L182.6 116.41" stroke="#1e1e1e" stroke-width="1.15"/>
<path d="M182.6 114.6L183.36 114.6" stroke="#1e1e1e" stroke-width="1.15"/>
<path d="M182.6 116.41L184.58 116.41" stroke="#1e1e1e" stroke-width="1.15"/>
<path d="M185.38 118L185.38 118.88" stroke="#1e1e1e" stroke-width="1.15"/>
<path d="M185.38 118L190 118" stroke="#1e1e1e" stroke-width="1.15"/>
<path d="M185.38 118.88L190 118.88" stroke="#1e1e1e" stroke-width="1.15"/>
<path d="M183.23 118.44L183.23 119.8" stroke="#1e1e1e" stroke-width="1.15"/>
<path d="M183.23 118.44L185.38 118.44" stroke="#1e1e1e" stroke-width="1.15"/>
<path d="M183.23 119.8L190 119.8" stroke="#1e1e1e" stroke-width="1.15"/>
<path d="M180.88 115.51L180.88 119.12" stroke="#1e1e1e" stroke-width="1.15"/>
<path d="M180.88 115.51L182.6 115.51" stroke="#1e1e1e" stroke-width="1.15"/>
<path d="M180.88 119.12L183.23 119.12" stroke="#1e1e1e" stroke-width="1.15"/>
<path d="M185.32 120.62L185.32 121.32" stroke="#1e1e1e" stroke-width="1.15"/>
<path d="M185.32 120.62L190 120.62" stroke="#1e1e1e" stroke-width="1.15"/>
<path d="M185.32 121.32L190 121.32" stroke="#1e1e1e" stroke-width="1.15"/>
<path d="M184.05 121.95L184.05 122.49" stroke="#1e1e1e" stroke-width="1.15"/>
<path d="M184.05 121.95L190 121.95" stroke="#1e1e1e" stroke-width="1.15"/>
<path d="M184.05 122.49L190 122.49" stroke="#1e1e1e" stroke-width="1.15"/>
<path d="M183.64 120.97L183.64 122.22" stroke="#1e1e1e" stroke-width="1.15"/>
<path d="M183.64 120.97L185.32 120.97" stroke="#1e1e1e" stroke-width="1.15"/>
<path d="M183.64 122.22L184.05 122.22" stroke="#1e1e1e" stroke-width="1.15"/>
<path d="M182.76 123.1L182.76 123.74" stroke="#1e1e1e" stroke-width="1.15"/>
<path d="M182.76 123.1L190 123.1" stroke="#1e1e1e" stroke-width="1.15"/>
<path d="M182.76 123.74L190 123.74" stroke="#1e1e1e" stroke-width="1.15"/>
<path d="M181.23 121.59L181.23 123.42" stroke="#1e1e1e" stroke-width="1.15"/>
<path d="M181.23 121.59L183.64 121.59" stroke="#1e1e1e" stroke-width="1.15"/>
<path d="M181.23 123.42L182.76 123.42" stroke="#1e1e1e" stroke-width="1.15"/>
<path d="M185.5 124.3L185.5 124.8" stroke="#1e1e1e" stroke-width="1.15"/>
<path d="M185.5 124.3L190 124.3" stroke="#1e1e1e" stroke-width="1.15"/>
<path d="M185.5 124.8L190 124.8" stroke="#1e1e1e" stroke-width="1.15"/>
<path d="M187.31 125.33L187.31 125.97" stroke="#1e1e1e" stroke-width="1.15"/>
<path d="M187.31 125.33L190 125.33" stroke="#1e1e1e" stroke-width="1.15"/>
<path d="M187.31 125.97L190 125.97" stroke="#1e1e1e" stroke-width="1.15"/>
<path d="M186.53 125.65L186.53 126.57" stroke="#1e1e1e" stroke-width="1.15"/>
<path d="M186.53 125.65L187.31 125.65" stroke="#1e1e1e" stroke-width="1.15"/>
<path d="M186.53 126.57L190 126.57" stroke="#1e1e1e" stroke-width="1.15"/>
<path d="M185.09 124.55L185.09 126.11" stroke="#1e1e1e" stroke-width="1.15"/>
<path d="M185.09 124.55L185.5 124.55" stroke="#1e1e1e" stroke-width="1.15"/>
<path d="M185.09 126.11L186.53 126.11" stroke="#1e1e1e" stroke-width="1.15"/>
<path d="M184.09 127.33L184.09 128.01" stroke="#1e1e1e" stroke-width="1.15"/>
<path d="M184.09 127.33L190 127.33" stroke="#1e1e1e" stroke-width="1.15"/>
<path d="M184.09 128.01L190 128.01" stroke="#1e1e1e" stroke-width="1.15"/>
<path d="M183.52 125.33L183.52 127.67" stroke="#1e1e1e" stroke-width="1.15"/>
<path d="M183.52 125.33L185.09 125.33" stroke="#1e1e1e" stroke-width="1.15"/>
<path d="M183.52 127.67L184.09 127.67" stroke="#1e1e1e" stroke-width="1.15"/>
<path d="M184.58 128.63L184.58 129.27" stroke="#1e1e1e" stroke-width="1.15"/>
<path d="M184.58 128.63L190 128.63" stroke="#1e1e1e" stroke-width="1.15"/>
<path d="M184.58 129.27L190 129.27" stroke="#1e1e1e" stroke-width="1.15"/>
<path d="M183.53 128.95L183.53 129.82" stroke="#1e1e1e" stroke-width="1.15"/>
<path d="M183.53 128.95L184.58 128.95" stroke="#1e1e1e" stroke-width="1.15"/>
<path d="M183.53 129.82L190 129.82" stroke="#1e1e1e" stroke-width="1.15"/>
<path d="M182.37 126.5L182.37 129.39" stroke="#1e1e1e" stroke-width="1.15"/>
<path d="M182.37 126.5L183.52 126.5" stroke="#1e1e1e" stroke-width="1.15"/>
<path d="M182.37 129.39L183.53 129.39" stroke="#1e1e1e" stroke-width="1.15"/>
<path d="M180.28 122.51L180.28 127.94" stroke="#1e1e1e" stroke-width="1.15"/>
<path d="M180.28 122.51L181.23 122.51" stroke="#1e1e1e" stroke-width="1.15"/>
<path d="M180.28 127.94L182.37 127.94" stroke="#1e1e1e" stroke-width="1.15"/>
<path d="M179.36 117.31L179.36 125.22" stroke="#1e1e1e" stroke-width="1.15"/>
<path d="M179.36 117.31L180.88 117.31" stroke="#1e1e1e" stroke-width="1.15"/>
<path d="M179.36 125.22L180.28 125.22" stroke="#1e1e1e" stroke-width="1.15"/>
<path d="M181.47 130.55L181.47 131.17" stroke="#1e1e1e" stroke-width="1.15"/>
<path d="M181.47 130.55L190 130.55" stroke="#1e1e1e" stroke-width="1.15"/>
<path d="M181.47 131.17L190 131.17" stroke="#1e1e1e" stroke-width="1.15"/>
<path d="M180.66 131.88L180.66 132.8" stroke="#1e1e1e" stroke-width="1.15"/>
<path d="M180.66 131.88L190 131.88" stroke="#1e1e1e" stroke-width="1.15"/>
<path d="M180.66 132.8L190 132.8" stroke="#1e1e1e" stroke-width="1.15"/>
<path d="M179.88 130.86L179.88 132.34" stroke="#1e1e1e" stroke-width="1.15"/>
<path d="M179.88 130.86L181.47 130.86" stroke="#1e1e1e" stroke-width="1.15"/>
<path d="M179.88 132.34L180.66 132.34" stroke="#1e1e1e" stroke-width="1.15"/>
<path d="M182.94 133.51L182.94 134.24" stroke="#1e1e1e" stroke-width="1.15"/>
<path d="M182.94 133.51L190 133.51" stroke="#1e1e1e" stroke-width="1.15"/>
<path d="M182.94 134.24L190 134.24" stroke="#1e1e1e" stroke-width="1.15"/>
<path d="M183.81 134.96L183.81 135.67" stroke="#1e1e1e" stroke-width="1.15"/>
<path d="M183.81 134.96L190 134.96" stroke="#1e1e1e" stroke-width="1.15"/>
<path d="M183.81 135.67L190 135.67" stroke="#1e1e1e" stroke-width="1.15"/>
<path d="M182.61 133.87L182.61 135.32" stroke="#1e1e1e" stroke-width="1.15"/>
<path d="M182.61 133.87L182.94 133.87" stroke="#1e1e1e" stroke-width="1.15"/>
<path d="M182.61 135.32L183.81 135.32" stroke="#1e1e1e" stroke-width="1.15"/>
<path d="M182.68 136.49L182.68 137.21" stroke="#1e1e1e" stroke-width="1.15"/>
<path d="M182.68 136.49L190 136.49" stroke="#1e1e1e" stroke-width="1.15"/>
<path d="M182.68 137.21L190 137.21" stroke="#1e1e1e" stroke-width="1.15"/>
<path d="M180.98 134.59L180.98 136.85" stroke="#1e1e1e" stroke-width="1.15"/>
<path d="M180.98 134.59L182.61 134.59" stroke="#1e1e1e" stroke-width="1.15"/>
<path d="M180.98 136.85L182.68 136.85" stroke="#1e1e1e" stroke-width="1.15"/>
<path d="M178.67 131.6L178.67 135.72" stroke="#1e1e1e" stroke-width="1.15"/>
<path d="M178.67 131.6L179.88 131.6" stroke="#1e1e1e" stroke-width="1.15"/>
<path d="M178.67 135.72L180.98 135.72" stroke="#1e1e1e" stroke-width="1.15"/>
<path d="M175.19 121.27L175.19 133.66" stroke="#2a2a2a" stroke-width="1.15"/>
<path d="M175.19 121.27L179.36 121.27" stroke="#2a2a2a" stroke-width="1.15"/>
<path d="M175.19 133.66L178.67 133.66" stroke="#2a2a2a" stroke-width="1.15"/>
<path d="M186.07 137.91L186.07 138.53" stroke="#1e1e1e" stroke-width="1.15"/>
<path d="M186.07 137.91L190 137.91" stroke="#1e1e1e" stroke-width="1.15"/>
<path d="M186.07 138.53L190 138.53" stroke="#1e1e1e" stroke-width="1.15"/>
<path d="M186.08 139.04L186.08 139.55" stroke="#1e1e1e" stroke-width="1.15"/>
<path d="M186.08 139.04L190 139.04" stroke="#1e1e1e" stroke-width="1.15"/>
<path d="M186.08 139.55L190 139.55" stroke="#1e1e1e" stroke-width="1.15"/>
<path d="M185.2 138.22L185.2 139.3" stroke="#1e1e1e" stroke-width="1.15"/>
<path d="M185.2 138.22L186.07 138.22" stroke="#1e1e1e" stroke-width="1.15"/>
<path d="M185.2 139.3L186.08 139.3" stroke="#1e1e1e" stroke-width="1.15"/>
<path d="M184.31 140.3L184.31 141.04" stroke="#1e1e1e" stroke-width="1.15"/>
<path d="M184.31 140.3L190 140.3" stroke="#1e1e1e" stroke-width="1.15"/>
<path d="M184.31 141.04L190 141.04" stroke="#1e1e1e" stroke-width="1.15"/>
<path d="M183.19 138.76L183.19 140.67" stroke="#1e1e1e" stroke-width="1.15"/>
<path d="M183.19 138.76L185.2 138.76" stroke="#1e1e1e" stroke-width="1.15"/>
<path d="M183.19 140.67L184.31 140.67" stroke="#1e1e1e" stroke-width="1.15"/>
<path d="M185.35 141.52L185.35 142.15" stroke="#1e1e1e" stroke-width="1.15"/>
<path d="M185.35 141.52L190 141.52" stroke="#1e1e1e" stroke-width="1.15"/>
<path d="M185.35 142.15L190 142.15" stroke="#1e1e1e" stroke-width="1.15"/>
<path d="M185.15 142.74L185.15 143.32" stroke="#1e1e1e" stroke-width="1.15"/>
<path d="M185.15 142.74L190 142.74" stroke="#1e1e1e" stroke-width="1.15"/>
<path d="M185.15 143.32L190 143.32" stroke="#1e1e1e" stroke-width="1.15"/>
<path d="M183.31 141.83L183.31 143.03" stroke="#1e1e1e" stroke-width="1.15"/>
<path d="M183.31 141.83L185.35 141.83" stroke="#1e1e1e" stroke-width="1.15"/>
<path d="M183.31 143.03L185.15 143.03" stroke="#1e1e1e" stroke-width="1.15"/>
<path d="M181.67 139.71L181.67 142.43" stroke="#1e1e1e" stroke-width="1.15"/>
<path d="M181.67 139.71L183.19 139.71" stroke="#1e1e1e" stroke-width="1.15"/>
<path d="M181.67 142.43L183.31 142.43" stroke="#1e1e1e" stroke-width="1.15"/>
<path d="M185.36 143.9L185.36 144.48" stroke="#1e1e1e" stroke-width="1.15"/>
<path d="M185.36 143.9L190 143.9" stroke="#1e1e1e" stroke-width="1.15"/>
<path d="M185.36 144.48L190 144.48" stroke="#1e1e1e" stroke-width="1.15"/>
<path d="M185.98 145.93L185.98 146.55" stroke="#1e1e1e" stroke-width="1.15"/>
<path d="M185.98 145.93L190 145.93" stroke="#1e1e1e" stroke-width="1.15"/>
<path d="M185.98 146.55L190 146.55" stroke="#1e1e1e" stroke-width="1.15"/>
<path d="M185.26 145.24L185.26 146.24" stroke="#1e1e1e" stroke-width="1.15"/>
<path d="M185.26 145.24L190 145.24" stroke="#1e1e1e" stroke-width="1.15"/>
<path d="M185.26 146.24L185.98 146.24" stroke="#1e1e1e" stroke-width="1.15"/>
<path d="M183.89 144.19L183.89 145.74" stroke="#1e1e1e" stroke-width="1.15"/>
<path d="M183.89 144.19L185.36 144.19" stroke="#1e1e1e" stroke-width="1.15"/>
<path d="M183.89 145.74L185.26 145.74" stroke="#1e1e1e" stroke-width="1.15"/>
<path d="M185.23 148.08L185.23 148.84" stroke="#1e1e1e" stroke-width="1.15"/>
<path d="M185.23 148.08L190 148.08" stroke="#1e1e1e" stroke-width="1.15"/>
<path d="M185.23 148.84L190 148.84" stroke="#1e1e1e" stroke-width="1.15"/>
<path d="M184.15 147.3L184.15 148.46" stroke="#1e1e1e" stroke-width="1.15"/>
<path d="M184.15 147.3L190 147.3" stroke="#1e1e1e" stroke-width="1.15"/>
<path d="M184.15 148.46L185.23 148.46" stroke="#1e1e1e" stroke-width="1.15"/>
<path d="M181.75 144.96L181.75 147.88" stroke="#1e1e1e" stroke-width="1.15"/>
<path d="M181.75 144.96L183.89 144.96" stroke="#1e1e1e" stroke-width="1.15"/>
<path d="M181.75 147.88L184.15 147.88" stroke="#1e1e1e" stroke-width="1.15"/>
<path d="M180.65 141.07L180.65 146.42" stroke="#1e1e1e" stroke-width="1.15"/>
<path d="M180.65 141.07L181.67 141.07" stroke="#1e1e1e" stroke-width="1.15"/>
<path d="M180.65 146.42L181.75 146.42" stroke="#1e1e1e" stroke-width="1.15"/>
<path d="M183.53 149.47L183.53 150.05" stroke="#1e1e1e" stroke-width="1.15"/>
<path d="M183.53 149.47L190 149.47" stroke="#1e1e1e" stroke-width="1.15"/>
<path d="M183.53 150.05L190 150.05" stroke="#1e1e1e" stroke-width="1.15"/>
<path d="M181.25 149.76L181.25 150.68" stroke="#1e1e1e" stroke-width="1.15"/>
<path d="M181.25 149.76L183.53 149.76" stroke="#1e1e1e" stroke-width="1.15"/>
<path d="M181.25 150.68L190 150.68" stroke="#1e1e1e" stroke-width="1.15"/>
<path d="M179.91 151.34L179.91 152.02" stroke="#1e1e1e" stroke-width="1.15"/>
<path d="M179.91 151.34L190 151.34" stroke="#1e1e1e" stroke-width="1.15"/>
<path d="M179.91 152.02L190 152.02" stroke="#1e1e1e" stroke-width="1.15"/>
<path d="M179.29 150.22L179.29 151.68" stroke="#1e1e1e" stroke-width="1.15"/>
<path d="M179.29 150.22L181.25 150.22" stroke="#1e1e1e" stroke-width="1.15"/>
<path d="M179.29 151.68L179.91 151.68" stroke="#1e1e1e" stroke-width="1.15"/>
<path d="M183.14 152.6L183.14 153.37" stroke="#1e1e1e" stroke-width="1.15"/>
<path d="M183.14 152.6L190 152.6" stroke="#1e1e1e" stroke-width="1.15"/>
<path d="M183.14 153.37L190 153.37" stroke="#1e1e1e" stroke-width="1.15"/>
<path d="M182.89 154.3L182.89 155.18" stroke="#1e1e1e" stroke-width="1.15"/>
<path d="M182.89 154.3L190 154.3" stroke="#1e1e1e" stroke-width="1.15"/>
<path d="M182.89 155.18L190 155.18" stroke="#1e1e1e" stroke-width="1.15"/>
<path d="M180.27 152.98L180.27 154.74" stroke="#1e1e1e" stroke-width="1.15"/>
<path d="M180.27 152.98L183.14 152.98" stroke="#1e1e1e" stroke-width="1.15"/>
<path d="M180.27 154.74L182.89 154.74" stroke="#1e1e1e" stroke-width="1.15"/>
<path d="M178.78 150.95L178.78 153.86" stroke="#1e1e1e" stroke-width="1.15"/>
<path d="M178.78 150.95L179.29 150.95" stroke="#1e1e1e" stroke-width="1.15"/>
<path d="M178.78 153.86L180.27 153.86" stroke="#1e1e1e" stroke-width="1.15"/>
<path d="M182.74 155.83L182.74 156.54" stroke="#1e1e1e" stroke-width="1.15"/>
<path d="M182.74 155.83L190 155.83" stroke="#1e1e1e" stroke-width="1.15"/>
<path d="M182.74 156.54L190 156.54" stroke="#1e1e1e" stroke-width="1.15"/>
<path d="M183.8 157.89L183.8 158.52" stroke="#1e1e1e" stroke-width="1.15"/>
<path d="M183.8 157.89L190 157.89" stroke="#1e1e1e" stroke-width="1.15"/>
<path d="M183.8 158.52L190 158.52" stroke="#1e1e1e" stroke-width="1.15"/>
<path d="M182.55 157.32L182.55 158.2" stroke="#1e1e1e" stroke-width="1.15"/>
<path d="M182.55 157.32L190 157.32" stroke="#1e1e1e" stroke-width="1.15"/>
<path d="M182.55 158.2L183.8 158.2" stroke="#1e1e1e" stroke-width="1.15"/>
<path d="M184.27 159.1L184.27 159.66" stroke="#1e1e1e" stroke-width="1.15"/>
<path d="M184.27 159.1L190 159.1" stroke="#1e1e1e" stroke-width="1.15"/>
<path d="M184.27 159.66L190 159.66" stroke="#1e1e1e" stroke-width="1.15"/>
<path d="M182.05 157.76L182.05 159.38" stroke="#1e1e1e" stroke-width="1.15"/>
<path d="M182.05 157.76L182.55 157.76" stroke="#1e1e1e" stroke-width="1.15"/>
<path d="M182.05 159.38L184.27 159.38" stroke="#1e1e1e" stroke-width="1.15"/>
<path d="M180.54 156.18L180.54 158.57" stroke="#1e1e1e" stroke-width="1.15"/>
<path d="M180.54 156.18L182.74 156.18" stroke="#1e1e1e" stroke-width="1.15"/>
<path d="M180.54 158.57L182.05 158.57" stroke="#1e1e1e" stroke-width="1.15"/>
<path d="M178.25 152.4L178.25 157.38" stroke="#1e1e1e" stroke-width="1.15"/>
<path d="M178.25 152.4L178.78 152.4" stroke="#1e1e1e" stroke-width="1.15"/>
<path d="M178.25 157.38L180.54 157.38" stroke="#1e1e1e" stroke-width="1.15"/>
<path d="M177.37 143.75L177.37 154.89" stroke="#2a2a2a" stroke-width="1.15"/>
<path d="M177.37 143.75L180.65 143.75" stroke="#2a2a2a" stroke-width="1.15"/>
<path d="M177.37 154.89L178.25 154.89" stroke="#2a2a2a" stroke-width="1.15"/>
<path d="M174.45 127.47L174.45 149.32" stroke="#2a2a2a" stroke-width="1.15"/>
<path d="M174.45 127.47L175.19 127.47" stroke="#2a2a2a" stroke-width="1.15"/>
<path d="M174.45 149.32L177.37 149.32" stroke="#2a2a2a" stroke-width="1.15"/>
<path d="M170 92.61L170 138.39" stroke="#2a2a2a" stroke-width="1.15"/>
<path d="M170 92.61L171.64 92.61" stroke="#2a2a2a" stroke-width="1.15"/>
<path d="M170 138.39L174.45 138.39" stroke="#2a2a2a" stroke-width="1.15"/>
<path d="M179.72 160.18L179.72 160.79" stroke="#1e1e1e" stroke-width="1.15"/>
<path d="M179.72 160.18L190 160.18" stroke="#1e1e1e" stroke-width="1.15"/>
<path d="M179.72 160.79L190 160.79" stroke="#1e1e1e" stroke-width="1.15"/>
<path d="M180.25 161.56L180.25 162.16" stroke="#1e1e1e" stroke-width="1.15"/>
<path d="M180.25 161.56L190 161.56" stroke="#1e1e1e" stroke-width="1.15"/>
<path d="M180.25 162.16L190 162.16" stroke="#1e1e1e" stroke-width="1.15"/>
<path d="M178.7 160.49L178.7 161.86" stroke="#1e1e1e" stroke-width="1.15"/>
<path d="M178.7 160.49L179.72 160.49" stroke="#1e1e1e" stroke-width="1.15"/>
<path d="M178.7 161.86L180.25 161.86" stroke="#1e1e1e" stroke-width="1.15"/>
<path d="M182.22 162.72L182.22 163.23" stroke="#1e1e1e" stroke-width="1.15"/>
<path d="M182.22 162.72L190 162.72" stroke="#1e1e1e" stroke-width="1.15"/>
<path d="M182.22 163.23L190 163.23" stroke="#1e1e1e" stroke-width="1.15"/>
<path d="M180.72 162.98L180.72 163.72" stroke="#1e1e1e" stroke-width="1.15"/>
<path d="M180.72 162.98L182.22 162.98" stroke="#1e1e1e" stroke-width="1.15"/>
<path d="M180.72 163.72L190 163.72" stroke="#1e1e1e" stroke-width="1.15"/>
<path d="M177.64 164.5L177.64 165.34" stroke="#1e1e1e" stroke-width="1.15"/>
<path d="M177.64 164.5L190 164.5" stroke="#1e1e1e" stroke-width="1.15"/>
<path d="M177.64 165.34L190 165.34" stroke="#1e1e1e" stroke-width="1.15"/>
<path d="M176.72 163.35L176.72 164.92" stroke="#1e1e1e" stroke-width="1.15"/>
<path d="M176.72 163.35L180.72 163.35" stroke="#1e1e1e" stroke-width="1.15"/>
<path d="M176.72 164.92L177.64 164.92" stroke="#1e1e1e" stroke-width="1.15"/>
<path d="M174.89 161.17L174.89 164.13" stroke="#2a2a2a" stroke-width="1.15"/>
<path d="M174.89 161.17L178.7 161.17" stroke="#2a2a2a" stroke-width="1.15"/>
<path d="M174.89 164.13L176.72 164.13" stroke="#2a2a2a" stroke-width="1.15"/>
<path d="M180.98 165.95L180.98 166.57" stroke="#1e1e1e" stroke-width="1.15"/>
<path d="M180.98 165.95L190 165.95" stroke="#1e1e1e" stroke-width="1.15"/>
<path d="M180.98 166.57L190 166.57" stroke="#1e1e1e" stroke-width="1.15"/>
<path d="M184.83 167.24L184.83 167.97" stroke="#1e1e1e" stroke-width="1.15"/>
<path d="M184.83 167.24L190 167.24" stroke="#1e1e1e" stroke-width="1.15"/>
<path d="M184.83 167.97L190 167.97" stroke="#1e1e1e" stroke-width="1.15"/>
<path d="M182.78 167.61L182.78 168.82" stroke="#1e1e1e" stroke-width="1.15"/>
<path d="M182.78 167.61L184.83 167.61" stroke="#1e1e1e" stroke-width="1.15"/>
<path d="M182.78 168.82L190 168.82" stroke="#1e1e1e" stroke-width="1.15"/>
<path d="M180.4 166.26L180.4 168.21" stroke="#1e1e1e" stroke-width="1.15"/>
<path d="M180.4 166.26L180.98 166.26" stroke="#1e1e1e" stroke-width="1.15"/>
<path d="M180.4 168.21L182.78 168.21" stroke="#1e1e1e" stroke-width="1.15"/>
<path d="M183.38 170.35L183.38 170.94" stroke="#1e1e1e" stroke-width="1.15"/>
<path d="M183.38 170.35L190 170.35" stroke="#1e1e1e" stroke-width="1.15"/>
<path d="M183.38 170.94L190 170.94" stroke="#1e1e1e" stroke-width="1.15"/>
<path d="M180.37 169.64L180.37 170.64" stroke="#1e1e1e" stroke-width="1.15"/>
<path d="M180.37 169.64L190 169.64" stroke="#1e1e1e" stroke-width="1.15"/>
<path d="M180.37 170.64L183.38 170.64" stroke="#1e1e1e" stroke-width="1.15"/>
<path d="M181.58 172.4L181.58 173.02" stroke="#1e1e1e" stroke-width="1.15"/>
<path d="M181.58 172.4L190 172.4" stroke="#1e1e1e" stroke-width="1.15"/>
<path d="M181.58 173.02L190 173.02" stroke="#1e1e1e" stroke-width="1.15"/>
<path d="M181.22 171.68L181.22 172.71" stroke="#1e1e1e" stroke-width="1.15"/>
<path d="M181.22 171.68L190 171.68" stroke="#1e1e1e" stroke-width="1.15"/>
<path d="M181.22 172.71L181.58 172.71" stroke="#1e1e1e" stroke-width="1.15"/>
<path d="M179.49 170.14L179.49 172.19" stroke="#1e1e1e" stroke-width="1.15"/>
<path d="M179.49 170.14L180.37 170.14" stroke="#1e1e1e" stroke-width="1.15"/>
<path d="M179.49 172.19L181.22 172.19" stroke="#1e1e1e" stroke-width="1.15"/>
<path d="M178.87 167.23L178.87 171.17" stroke="#1e1e1e" stroke-width="1.15"/>
<path d="M178.87 167.23L180.4 167.23" stroke="#1e1e1e" stroke-width="1.15"/>
<path d="M178.87 171.17L179.49 171.17" stroke="#1e1e1e" stroke-width="1.15"/>
<path d="M182.07 174.2L182.07 174.7" stroke="#1e1e1e" stroke-width="1.15"/>
<path d="M182.07 174.2L190 174.2" stroke="#1e1e1e" stroke-width="1.15"/>
<path d="M182.07 174.7L190 174.7" stroke="#1e1e1e" stroke-width="1.15"/>
<path d="M180.66 173.69L180.66 174.45" stroke="#1e1e1e" stroke-width="1.15"/>
<path d="M180.66 173.69L190 173.69" stroke="#1e1e1e" stroke-width="1.15"/>
<path d="M180.66 174.45L182.07 174.45" stroke="#1e1e1e" stroke-width="1.15"/>
<path d="M181.29 175.37L181.29 175.91" stroke="#1e1e1e" stroke-width="1.15"/>
<path d="M181.29 175.37L190 175.37" stroke="#1e1e1e" stroke-width="1.15"/>
<path d="M181.29 175.91L190 175.91" stroke="#1e1e1e" stroke-width="1.15"/>
<path d="M182.44 176.5L182.44 177.04" stroke="#1e1e1e" stroke-width="1.15"/>
<path d="M182.44 176.5L190 176.5" stroke="#1e1e1e" stroke-width="1.15"/>
<path d="M182.44 177.04L190 177.04" stroke="#1e1e1e" stroke-width="1.15"/>
<path d="M181.12 176.77L181.12 177.5" stroke="#1e1e1e" stroke-width="1.15"/>
<path d="M181.12 176.77L182.44 176.77" stroke="#1e1e1e" stroke-width="1.15"/>
<path d="M181.12 177.5L190 177.5" stroke="#1e1e1e" stroke-width="1.15"/>
<path d="M179.06 175.64L179.06 177.14" stroke="#1e1e1e" stroke-width="1.15"/>
<path d="M179.06 175.64L181.29 175.64" stroke="#1e1e1e" stroke-width="1.15"/>
<path d="M179.06 177.14L181.12 177.14" stroke="#1e1e1e" stroke-width="1.15"/>
<path d="M178.59 174.07L178.59 176.39" stroke="#1e1e1e" stroke-width="1.15"/>
<path d="M178.59 174.07L180.66 174.07" stroke="#1e1e1e" stroke-width="1.15"/>
<path d="M178.59 176.39L179.06 176.39" stroke="#1e1e1e" stroke-width="1.15"/>
<path d="M175.4 169.2L175.4 175.23" stroke="#2a2a2a" stroke-width="1.15"/>
<path d="M175.4 169.2L178.87 169.2" stroke="#2a2a2a" stroke-width="1.15"/>
<path d="M175.4 175.23L178.59 175.23" stroke="#2a2a2a" stroke-width="1.15"/>
<path d="M173.27 162.65L173.27 172.21" stroke="#2a2a2a" stroke-width="1.15"/>
<path d="M173.27 162.65L174.89 162.65" stroke="#2a2a2a" stroke-width="1.15"/>
<path d="M173.27 172.21L175.4 172.21" stroke="#2a2a2a" stroke-width="1.15"/>
<path d="M185.01 177.97L185.01 178.53" stroke="#1e1e1e" stroke-width="1.15"/>
<path d="M185.01 177.97L190 177.97" stroke="#1e1e1e" stroke-width="1.15"/>
<path d="M185.01 178.53L190 178.53" stroke="#1e1e1e" stroke-width="1.15"/>
<path d="M183.48 178.25L183.48 179.34" stroke="#1e1e1e" stroke-width="1.15"/>
<path d="M183.48 178.25L185.01 178.25" stroke="#1e1e1e" stroke-width="1.15"/>
<path d="M183.48 179.34L190 179.34" stroke="#1e1e1e" stroke-width="1.15"/>
<path d="M184.19 179.96L184.19 180.53" stroke="#1e1e1e" stroke-width="1.15"/>
<path d="M184.19 179.96L190 179.96" stroke="#1e1e1e" stroke-width="1.15"/>
<path d="M184.19 180.53L190 180.53" stroke="#1e1e1e" stroke-width="1.15"/>
<path d="M181.81 178.8L181.81 180.25" stroke="#1e1e1e" stroke-width="1.15"/>
<path d="M181.81 178.8L183.48 178.8" stroke="#1e1e1e" stroke-width="1.15"/>
<path d="M181.81 180.25L184.19 180.25" stroke="#1e1e1e" stroke-width="1.15"/>
<path d="M183.5 181.34L183.5 182.19" stroke="#1e1e1e" stroke-width="1.15"/>
<path d="M183.5 181.34L190 181.34" stroke="#1e1e1e" stroke-width="1.15"/>
<path d="M183.5 182.19L190 182.19" stroke="#1e1e1e" stroke-width="1.15"/>
<path d="M183.63 183.04L183.63 183.74" stroke="#1e1e1e" stroke-width="1.15"/>
<path d="M183.63 183.04L190 183.04" stroke="#1e1e1e" stroke-width="1.15"/>
<path d="M183.63 183.74L190 183.74" stroke="#1e1e1e" stroke-width="1.15"/>
<path d="M181.72 181.76L181.72 183.39" stroke="#1e1e1e" stroke-width="1.15"/>
<path d="M181.72 181.76L183.5 181.76" stroke="#1e1e1e" stroke-width="1.15"/>
<path d="M181.72 183.39L183.63 183.39" stroke="#1e1e1e" stroke-width="1.15"/>
<path d="M178.73 179.52L178.73 182.58" stroke="#1e1e1e" stroke-width="1.15"/>
<path d="M178.73 179.52L181.81 179.52" stroke="#1e1e1e" stroke-width="1.15"/>
<path d="M178.73 182.58L181.72 182.58" stroke="#1e1e1e" stroke-width="1.15"/>
<path d="M181.7 185.23L181.7 185.86" stroke="#1e1e1e" stroke-width="1.15"/>
<path d="M181.7 185.23L190 185.23" stroke="#1e1e1e" stroke-width="1.15"/>
<path d="M181.7 185.86L190 185.86" stroke="#1e1e1e" stroke-width="1.15"/>
<path d="M180.63 184.44L180.63 185.55" stroke="#1e1e1e" stroke-width="1.15"/>
<path d="M180.63 184.44L190 184.44" stroke="#1e1e1e" stroke-width="1.15"/>
<path d="M180.63 185.55L181.7 185.55" stroke="#1e1e1e" stroke-width="1.15"/>
<path d="M183.83 186.4L183.83 186.96" stroke="#1e1e1e" stroke-width="1.15"/>
<path d="M183.83 186.4L190 186.4" stroke="#1e1e1e" stroke-width="1.15"/>
<path d="M183.83 186.96L190 186.96" stroke="#1e1e1e" stroke-width="1.15"/>
<path d="M182.5 186.68L182.5 187.5" stroke="#1e1e1e" stroke-width="1.15"/>
<path d="M182.5 186.68L183.83 186.68" stroke="#1e1e1e" stroke-width="1.15"/>
<path d="M182.5 187.5L190 187.5" stroke="#1e1e1e" stroke-width="1.15"/>
<path d="M180.04 184.99L180.04 187.09" stroke="#1e1e1e" stroke-width="1.15"/>
<path d="M180.04 184.99L180.63 184.99" stroke="#1e1e1e" stroke-width="1.15"/>
<path d="M180.04 187.09L182.5 187.09" stroke="#1e1e1e" stroke-width="1.15"/>
<path d="M177.76 181.05L177.76 186.04" stroke="#1e1e1e" stroke-width="1.15"/>
<path d="M177.76 181.05L178.73 181.05" stroke="#1e1e1e" stroke-width="1.15"/>
<path d="M177.76 186.04L180.04 186.04" stroke="#1e1e1e" stroke-width="1.15"/>
<path d="M181.84 187.97L181.84 188.48" stroke="#1e1e1e" stroke-width="1.15"/>
<path d="M181.84 187.97L190 187.97" stroke="#1e1e1e" stroke-width="1.15"/>
<path d="M181.84 188.48L190 188.48" stroke="#1e1e1e" stroke-width="1.15"/>
<path d="M184.67 189.72L184.67 190.34" stroke="#1e1e1e" stroke-width="1.15"/>
<path d="M184.67 189.72L190 189.72" stroke="#1e1e1e" stroke-width="1.15"/>
<path d="M184.67 190.34L190 190.34" stroke="#1e1e1e" stroke-width="1.15"/>
<path d="M183.09 189.07L183.09 190.03" stroke="#1e1e1e" stroke-width="1.15"/>
<path d="M183.09 189.07L190 189.07" stroke="#1e1e1e" stroke-width="1.15"/>
<path d="M183.09 190.03L184.67 190.03" stroke="#1e1e1e" stroke-width="1.15"/>
<path d="M180.82 188.22L180.82 189.55" stroke="#1e1e1e" stroke-width="1.15"/>
<path d="M180.82 188.22L181.84 188.22" stroke="#1e1e1e" stroke-width="1.15"/>
<path d="M180.82 189.55L183.09 189.55" stroke="#1e1e1e" stroke-width="1.15"/>
<path d="M180.83 190.8L180.83 191.4" stroke="#1e1e1e" stroke-width="1.15"/>
<path d="M180.83 190.8L190 190.8" stroke="#1e1e1e" stroke-width="1.15"/>
<path d="M180.83 191.4L190 191.4" stroke="#1e1e1e" stroke-width="1.15"/>
<path d="M180.84 192.19L180.84 192.77" stroke="#1e1e1e" stroke-width="1.15"/>
<path d="M180.84 192.19L190 192.19" stroke="#1e1e1e" stroke-width="1.15"/>
<path d="M180.84 192.77L190 192.77" stroke="#1e1e1e" stroke-width="1.15"/>
<path d="M178.95 191.1L178.95 192.48" stroke="#1e1e1e" stroke-width="1.15"/>
<path d="M178.95 191.1L180.83 191.1" stroke="#1e1e1e" stroke-width="1.15"/>
<path d="M178.95 192.48L180.84 192.48" stroke="#1e1e1e" stroke-width="1.15"/>
<path d="M178.23 188.88L178.23 191.79" stroke="#1e1e1e" stroke-width="1.15"/>
<path d="M178.23 188.88L180.82 188.88" stroke="#1e1e1e" stroke-width="1.15"/>
<path d="M178.23 191.79L178.95 191.79" stroke="#1e1e1e" stroke-width="1.15"/>
<path d="M174.39 183.54L174.39 190.34" stroke="#2a2a2a" stroke-width="1.15"/>
<path d="M174.39 183.54L177.76 183.54" stroke="#2a2a2a" stroke-width="1.15"/>
<path d="M174.39 190.34L178.23 190.34" stroke="#2a2a2a" stroke-width="1.15"/>
<path d="M185.17 193.85L185.17 194.46" stroke="#1e1e1e" stroke-width="1.15"/>
<path d="M185.17 193.85L190 193.85" stroke="#1e1e1e" stroke-width="1.15"/>
<path d="M185.17 194.46L190 194.46" stroke="#1e1e1e" stroke-width="1.15"/>
<path d="M183.04 193.29L183.04 194.15" stroke="#1e1e1e" stroke-width="1.15"/>
<path d="M183.04 193.29L190 193.29" stroke="#1e1e1e" stroke-width="1.15"/>
<path d="M183.04 194.15L185.17 194.15" stroke="#1e1e1e" stroke-width="1.15"/>
<path d="M182.27 193.72L182.27 195.3" stroke="#1e1e1e" stroke-width="1.15"/>
<path d="M182.27 193.72L183.04 193.72" stroke="#1e1e1e" stroke-width="1.15"/>
<path d="M182.27 195.3L190 195.3" stroke="#1e1e1e" stroke-width="1.15"/>
<path d="M185.05 195.95L185.05 196.6" stroke="#1e1e1e" stroke-width="1.15"/>
<path d="M185.05 195.95L190 195.95" stroke="#1e1e1e" stroke-width="1.15"/>
<path d="M185.05 196.6L190 196.6" stroke="#1e1e1e" stroke-width="1.15"/>
<path d="M183.99 196.27L183.99 197.4" stroke="#1e1e1e" stroke-width="1.15"/>
<path d="M183.99 196.27L185.05 196.27" stroke="#1e1e1e" stroke-width="1.15"/>
<path d="M183.99 197.4L190 197.4" stroke="#1e1e1e" stroke-width="1.15"/>
<path d="M182.95 197.95L182.95 198.48" stroke="#1e1e1e" stroke-width="1.15"/>
<path d="M182.95 197.95L190 197.95" stroke="#1e1e1e" stroke-width="1.15"/>
<path d="M182.95 198.48L190 198.48" stroke="#1e1e1e" stroke-width="1.15"/>
<path d="M182.13 196.83L182.13 198.22" stroke="#1e1e1e" stroke-width="1.15"/>
<path d="M182.13 196.83L183.99 196.83" stroke="#1e1e1e" stroke-width="1.15"/>
<path d="M182.13 198.22L182.95 198.22" stroke="#1e1e1e" stroke-width="1.15"/>
<path d="M181.27 194.51L181.27 197.52" stroke="#1e1e1e" stroke-width="1.15"/>
<path d="M181.27 194.51L182.27 194.51" stroke="#1e1e1e" stroke-width="1.15"/>
<path d="M181.27 197.52L182.13 197.52" stroke="#1e1e1e" stroke-width="1.15"/>
<path d="M186.71 199L186.71 199.54" stroke="#1e1e1e" stroke-width="1.15"/>
<path d="M186.71 199L190 199" stroke="#1e1e1e" stroke-width="1.15"/>
<path d="M186.71 199.54L190 199.54" stroke="#1e1e1e" stroke-width="1.15"/>
<path d="M185.67 199.27L185.67 200.11" stroke="#1e1e1e" stroke-width="1.15"/>
<path d="M185.67 199.27L186.71 199.27" stroke="#1e1e1e" stroke-width="1.15"/>
<path d="M185.67 200.11L190 200.11" stroke="#1e1e1e" stroke-width="1.15"/>
<path d="M184.47 200.74L184.47 201.27" stroke="#1e1e1e" stroke-width="1.15"/>
<path d="M184.47 200.74L190 200.74" stroke="#1e1e1e" stroke-width="1.15"/>
<path d="M184.47 201.27L190 201.27" stroke="#1e1e1e" stroke-width="1.15"/>
<path d="M184.03 199.69L184.03 201.01" stroke="#1e1e1e" stroke-width="1.15"/>
<path d="M184.03 199.69L185.67 199.69" stroke="#1e1e1e" stroke-width="1.15"/>
<path d="M184.03 201.01L184.47 201.01" stroke="#1e1e1e" stroke-width="1.15"/>
<path d="M183.86 202.38L183.86 202.93" stroke="#1e1e1e" stroke-width="1.15"/>
<path d="M183.86 202.38L190 202.38" stroke="#1e1e1e" stroke-width="1.15"/>
<path d="M183.86 202.93L190 202.93" stroke="#1e1e1e" stroke-width="1.15"/>
<path d="M183.02 201.72L183.02 202.66" stroke="#1e1e1e" stroke-width="1.15"/>
<path d="M183.02 201.72L190 201.72" stroke="#1e1e1e" stroke-width="1.15"/>
<path d="M183.02 202.66L183.86 202.66" stroke="#1e1e1e" stroke-width="1.15"/>
<path d="M182.52 203.59L182.52 204.53" stroke="#1e1e1e" stroke-width="1.15"/>
<path d="M182.52 203.59L190 203.59" stroke="#1e1e1e" stroke-width="1.15"/>
<path d="M182.52 204.53L190 204.53" stroke="#1e1e1e" stroke-width="1.15"/>
<path d="M182.1 202.19L182.1 204.06" stroke="#1e1e1e" stroke-width="1.15"/>
<path d="M182.1 202.19L183.02 202.19" stroke="#1e1e1e" stroke-width="1.15"/>
<path d="M182.1 204.06L182.52 204.06" stroke="#1e1e1e" stroke-width="1.15"/>
<path d="M181.76 200.35L181.76 203.12" stroke="#1e1e1e" stroke-width="1.15"/>
<path d="M181.76 200.35L184.03 200.35" stroke="#1e1e1e" stroke-width="1.15"/>
<path d="M181.76 203.12L182.1 203.12" stroke="#1e1e1e" stroke-width="1.15"/>
<path d="M178.04 196.02L178.04 201.74" stroke="#2a2a2a" stroke-width="1.15"/>
<path d="M178.04 196.02L181.27 196.02" stroke="#2a2a2a" stroke-width="1.15"/>
<path d="M178.04 201.74L181.76 201.74" stroke="#2a2a2a" stroke-width="1.15"/>
<path d="M173.53 186.94L173.53 198.88" stroke="#2a2a2a" stroke-width="1.15"/>
<path d="M173.53 186.94L174.39 186.94" stroke="#2a2a2a" stroke-width="1.15"/>
<path d="M173.53 198.88L178.04 198.88" stroke="#2a2a2a" stroke-width="1.15"/>
<path d="M172 167.43L172 192.91" stroke="#2a2a2a" stroke-width="1.15"/>
<path d="M172 167.43L173.27 167.43" stroke="#2a2a2a" stroke-width="1.15"/>
<path d="M172 192.91L173.53 192.91" stroke="#2a2a2a" stroke-width="1.15"/>
<path d="M184.12 205.44L184.12 206.08" stroke="#1e1e1e" stroke-width="1.15"/>
<path d="M184.12 205.44L190 205.44" stroke="#1e1e1e" stroke-width="1.15"/>
<path d="M184.12 206.08L190 206.08" stroke="#1e1e1e" stroke-width="1.15"/>
<path d="M184.95 206.62L184.95 207.44" stroke="#1e1e1e" stroke-width="1.15"/>
<path d="M184.95 206.62L190 206.62" stroke="#1e1e1e" stroke-width="1.15"/>
<path d="M184.95 207.44L190 207.44" stroke="#1e1e1e" stroke-width="1.15"/>
<path d="M183.29 205.76L183.29 207.03" stroke="#1e1e1e" stroke-width="1.15"/>
<path d="M183.29 205.76L184.12 205.76" stroke="#1e1e1e" stroke-width="1.15"/>
<path d="M183.29 207.03L184.95 207.03" stroke="#1e1e1e" stroke-width="1.15"/>
<path d="M183.99 208.17L183.99 208.89" stroke="#1e1e1e" stroke-width="1.15"/>
<path d="M183.99 208.17L190 208.17" stroke="#1e1e1e" stroke-width="1.15"/>
<path d="M183.99 208.89L190 208.89" stroke="#1e1e1e" stroke-width="1.15"/>
<path d="M182.74 206.39L182.74 208.53" stroke="#1e1e1e" stroke-width="1.15"/>
<path d="M182.74 206.39L183.29 206.39" stroke="#1e1e1e" stroke-width="1.15"/>
<path d="M182.74 208.53L183.99 208.53" stroke="#1e1e1e" stroke-width="1.15"/>
<path d="M185.64 209.61L185.64 210.37" stroke="#1e1e1e" stroke-width="1.15"/>
<path d="M185.64 209.61L190 209.61" stroke="#1e1e1e" stroke-width="1.15"/>
<path d="M185.64 210.37L190 210.37" stroke="#1e1e1e" stroke-width="1.15"/>
<path d="M183.59 209.99L183.59 211.24" stroke="#1e1e1e" stroke-width="1.15"/>
<path d="M183.59 209.99L185.64 209.99" stroke="#1e1e1e" stroke-width="1.15"/>
<path d="M183.59 211.24L190 211.24" stroke="#1e1e1e" stroke-width="1.15"/>
<path d="M182.99 211.87L182.99 212.46" stroke="#1e1e1e" stroke-width="1.15"/>
<path d="M182.99 211.87L190 211.87" stroke="#1e1e1e" stroke-width="1.15"/>
<path d="M182.99 212.46L190 212.46" stroke="#1e1e1e" stroke-width="1.15"/>
<path d="M182.19 210.61L182.19 212.17" stroke="#1e1e1e" stroke-width="1.15"/>
<path d="M182.19 210.61L183.59 210.61" stroke="#1e1e1e" stroke-width="1.15"/>
<path d="M182.19 212.17L182.99 212.17" stroke="#1e1e1e" stroke-width="1.15"/>
<path d="M181.75 207.46L181.75 211.39" stroke="#1e1e1e" stroke-width="1.15"/>
<path d="M181.75 207.46L182.74 207.46" stroke="#1e1e1e" stroke-width="1.15"/>
<path d="M181.75 211.39L182.19 211.39" stroke="#1e1e1e" stroke-width="1.15"/>
<path d="M184.99 213.11L184.99 213.76" stroke="#1e1e1e" stroke-width="1.15"/>
<path d="M184.99 213.11L190 213.11" stroke="#1e1e1e" stroke-width="1.15"/>
<path d="M184.99 213.76L190 213.76" stroke="#1e1e1e" stroke-width="1.15"/>
<path d="M184.07 213.44L184.07 214.51" stroke="#1e1e1e" stroke-width="1.15"/>
<path d="M184.07 213.44L184.99 213.44" stroke="#1e1e1e" stroke-width="1.15"/>
<path d="M184.07 214.51L190 214.51" stroke="#1e1e1e" stroke-width="1.15"/>
<path d="M185.35 215.12L185.35 215.64" stroke="#1e1e1e" stroke-width="1.15"/>
<path d="M185.35 215.12L190 215.12" stroke="#1e1e1e" stroke-width="1.15"/>
<path d="M185.35 215.64L190 215.64" stroke="#1e1e1e" stroke-width="1.15"/>
<path d="M186.73 216.25L186.73 216.94" stroke="#1e1e1e" stroke-width="1.15"/>
<path d="M186.73 216.25L190 216.25" stroke="#1e1e1e" stroke-width="1.15"/>
<path d="M186.73 216.94L190 216.94" stroke="#1e1e1e" stroke-width="1.15"/>
<path d="M186.37 216.6L186.37 217.74" stroke="#1e1e1e" stroke-width="1.15"/>
<path d="M186.37 216.6L186.73 216.6" stroke="#1e1e1e" stroke-width="1.15"/>
<path d="M186.37 217.74L190 217.74" stroke="#1e1e1e" stroke-width="1.15"/>
<path d="M184.72 215.38L184.72 217.17" stroke="#1e1e1e" stroke-width="1.15"/>
<path d="M184.72 215.38L185.35 215.38" stroke="#1e1e1e" stroke-width="1.15"/>
<path d="M184.72 217.17L186.37 217.17" stroke="#1e1e1e" stroke-width="1.15"/>
<path d="M182.59 213.97L182.59 216.27" stroke="#1e1e1e" stroke-width="1.15"/>
<path d="M182.59 213.97L184.07 213.97" stroke="#1e1e1e" stroke-width="1.15"/>
<path d="M182.59 216.27L184.72 216.27" stroke="#1e1e1e" stroke-width="1.15"/>
<path d="M180.11 209.43L180.11 215.12" stroke="#1e1e1e" stroke-width="1.15"/>
<path d="M180.11 209.43L181.75 209.43" stroke="#1e1e1e" stroke-width="1.15"/>
<path d="M180.11 215.12L182.59 215.12" stroke="#1e1e1e" stroke-width="1.15"/>
<path d="M185.09 219L185.09 219.59" stroke="#1e1e1e" stroke-width="1.15"/>
<path d="M185.09 219L190 219" stroke="#1e1e1e" stroke-width="1.15"/>
<path d="M185.09 219.59L190 219.59" stroke="#1e1e1e" stroke-width="1.15"/>
<path d="M182.98 218.38L182.98 219.29" stroke="#1e1e1e" stroke-width="1.15"/>
<path d="M182.98 218.38L190 218.38" stroke="#1e1e1e" stroke-width="1.15"/>
<path d="M182.98 219.29L185.09 219.29" stroke="#1e1e1e" stroke-width="1.15"/>
<path d="M181.52 218.84L181.52 220.24" stroke="#1e1e1e" stroke-width="1.15"/>
<path d="M181.52 218.84L182.98 218.84" stroke="#1e1e1e" stroke-width="1.15"/>
<path d="M181.52 220.24L190 220.24" stroke="#1e1e1e" stroke-width="1.15"/>
<path d="M185.15 221.02L185.15 221.6" stroke="#1e1e1e" stroke-width="1.15"/>
<path d="M185.15 221.02L190 221.02" stroke="#1e1e1e" stroke-width="1.15"/>
<path d="M185.15 221.6L190 221.6" stroke="#1e1e1e" stroke-width="1.15"/>
<path d="M185.61 222.11L185.61 222.67" stroke="#1e1e1e" stroke-width="1.15"/>
<path d="M185.61 222.11L190 222.11" stroke="#1e1e1e" stroke-width="1.15"/>
<path d="M185.61 222.67L190 222.67" stroke="#1e1e1e" stroke-width="1.15"/>
<path d="M183.69 221.31L183.69 222.39" stroke="#1e1e1e" stroke-width="1.15"/>
<path d="M183.69 221.31L185.15 221.31" stroke="#1e1e1e" stroke-width="1.15"/>
<path d="M183.69 222.39L185.61 222.39" stroke="#1e1e1e" stroke-width="1.15"/>
<path d="M185.13 223.2L185.13 223.78" stroke="#1e1e1e" stroke-width="1.15"/>
<path d="M185.13 223.2L190 223.2" stroke="#1e1e1e" stroke-width="1.15"/>
<path d="M185.13 223.78L190 223.78" stroke="#1e1e1e" stroke-width="1.15"/>
<path d="M184.43 223.49L184.43 224.6" stroke="#1e1e1e" stroke-width="1.15"/>
<path d="M184.43 223.49L185.13 223.49" stroke="#1e1e1e" stroke-width="1.15"/>
<path d="M184.43 224.6L190 224.6" stroke="#1e1e1e" stroke-width="1.15"/>
<path d="M185.63 225.29L185.63 225.96" stroke="#1e1e1e" stroke-width="1.15"/>
<path d="M185.63 225.29L190 225.29" stroke="#1e1e1e" stroke-width="1.15"/>
<path d="M185.63 225.96L190 225.96" stroke="#1e1e1e" stroke-width="1.15"/>
<path d="M183.78 224.05L183.78 225.63" stroke="#1e1e1e" stroke-width="1.15"/>
<path d="M183.78 224.05L184.43 224.05" stroke="#1e1e1e" stroke-width="1.15"/>
<path d="M183.78 225.63L185.63 225.63" stroke="#1e1e1e" stroke-width="1.15"/>
<path d="M183.21 221.85L183.21 224.84" stroke="#1e1e1e" stroke-width="1.15"/>
<path d="M183.21 221.85L183.69 221.85" stroke="#1e1e1e" stroke-width="1.15"/>
<path d="M183.21 224.84L183.78 224.84" stroke="#1e1e1e" stroke-width="1.15"/>
<path d="M181.08 219.54L181.08 223.34" stroke="#1e1e1e" stroke-width="1.15"/>
<path d="M181.08 219.54L181.52 219.54" stroke="#1e1e1e" stroke-width="1.15"/>
<path d="M181.08 223.34L183.21 223.34" stroke="#1e1e1e" stroke-width="1.15"/>
<path d="M182.8 226.66L182.8 227.22" stroke="#1e1e1e" stroke-width="1.15"/>
<path d="M182.8 226.66L190 226.66" stroke="#1e1e1e" stroke-width="1.15"/>
<path d="M182.8 227.22L190 227.22" stroke="#1e1e1e" stroke-width="1.15"/>
<path d="M182.48 226.94L182.48 227.98" stroke="#1e1e1e" stroke-width="1.15"/>
<path d="M182.48 226.94L182.8 226.94" stroke="#1e1e1e" stroke-width="1.15"/>
<path d="M182.48 227.98L190 227.98" stroke="#1e1e1e" stroke-width="1.15"/>
<path d="M183.45 228.69L183.45 229.28" stroke="#1e1e1e" stroke-width="1.15"/>
<path d="M183.45 228.69L190 228.69" stroke="#1e1e1e" stroke-width="1.15"/>
<path d="M183.45 229.28L190 229.28" stroke="#1e1e1e" stroke-width="1.15"/>
<path d="M182.07 228.98L182.07 229.94" stroke="#1e1e1e" stroke-width="1.15"/>
<path d="M182.07 228.98L183.45 228.98" stroke="#1e1e1e" stroke-width="1.15"/>
<path d="M182.07 229.94L190 229.94" stroke="#1e1e1e" stroke-width="1.15"/>
<path d="M181.17 227.46L181.17 229.46" stroke="#1e1e1e" stroke-width="1.15"/>
<path d="M181.17 227.46L182.48 227.46" stroke="#1e1e1e" stroke-width="1.15"/>
<path d="M181.17 229.46L182.07 229.46" stroke="#1e1e1e" stroke-width="1.15"/>
<path d="M177.66 221.44L177.66 228.46" stroke="#1e1e1e" stroke-width="1.15"/>
<path d="M177.66 221.44L181.08 221.44" stroke="#1e1e1e" stroke-width="1.15"/>
<path d="M177.66 228.46L181.17 228.46" stroke="#1e1e1e" stroke-width="1.15"/>
<path d="M176.96 212.27L176.96 224.95" stroke="#2a2a2a" stroke-width="1.15"/>
<path d="M176.96 212.27L180.11 212.27" stroke="#2a2a2a" stroke-width="1.15"/>
<path d="M176.96 224.95L177.66 224.95" stroke="#2a2a2a" stroke-width="1.15"/>
<path d="M184.46 231.46L184.46 232.01" stroke="#1e1e1e" stroke-width="1.15"/>
<path d="M184.46 231.46L190 231.46" stroke="#1e1e1e" stroke-width="1.15"/>
<path d="M184.46 232.01L190 232.01" stroke="#1e1e1e" stroke-width="1.15"/>
<path d="M183.88 231.74L183.88 232.64" stroke="#1e1e1e" stroke-width="1.15"/>
<path d="M183.88 231.74L184.46 231.74" stroke="#1e1e1e" stroke-width="1.15"/>
<path d="M183.88 232.64L190 232.64" stroke="#1e1e1e" stroke-width="1.15"/>
<path d="M182.73 230.7L182.73 232.19" stroke="#1e1e1e" stroke-width="1.15"/>
<path d="M182.73 230.7L190 230.7" stroke="#1e1e1e" stroke-width="1.15"/>
<path d="M182.73 232.19L183.88 232.19" stroke="#1e1e1e" stroke-width="1.15"/>
<path d="M181.89 233.34L181.89 234.08" stroke="#1e1e1e" stroke-width="1.15"/>
<path d="M181.89 233.34L190 233.34" stroke="#1e1e1e" stroke-width="1.15"/>
<path d="M181.89 234.08L190 234.08" stroke="#1e1e1e" stroke-width="1.15"/>
<path d="M180.7 233.71L180.7 234.86" stroke="#1e1e1e" stroke-width="1.15"/>
<path d="M180.7 233.71L181.89 233.71" stroke="#1e1e1e" stroke-width="1.15"/>
<path d="M180.7 234.86L190 234.86" stroke="#1e1e1e" stroke-width="1.15"/>
<path d="M179.63 231.44L179.63 234.28" stroke="#1e1e1e" stroke-width="1.15"/>
<path d="M179.63 231.44L182.73 231.44" stroke="#1e1e1e" stroke-width="1.15"/>
<path d="M179.63 234.28L180.7 234.28" stroke="#1e1e1e" stroke-width="1.15"/>
<path d="M182.42 235.48L182.42 236.26" stroke="#1e1e1e" stroke-width="1.15"/>
<path d="M182.42 235.48L190 235.48" stroke="#1e1e1e" stroke-width="1.15"/>
<path d="M182.42 236.26L190 236.26" stroke="#1e1e1e" stroke-width="1.15"/>
<path d="M183.77 237.03L183.77 237.64" stroke="#1e1e1e" stroke-width="1.15"/>
<path d="M183.77 237.03L190 237.03" stroke="#1e1e1e" stroke-width="1.15"/>
<path d="M183.77 237.64L190 237.64" stroke="#1e1e1e" stroke-width="1.15"/>
<path d="M181.03 237.33L181.03 238.44" stroke="#1e1e1e" stroke-width="1.15"/>
<path d="M181.03 237.33L183.77 237.33" stroke="#1e1e1e" stroke-width="1.15"/>
<path d="M181.03 238.44L190 238.44" stroke="#1e1e1e" stroke-width="1.15"/>
<path d="M179.07 235.87L179.07 237.89" stroke="#1e1e1e" stroke-width="1.15"/>
<path d="M179.07 235.87L182.42 235.87" stroke="#1e1e1e" stroke-width="1.15"/>
<path d="M179.07 237.89L181.03 237.89" stroke="#1e1e1e" stroke-width="1.15"/>
<path d="M177.69 232.86L177.69 236.88" stroke="#1e1e1e" stroke-width="1.15"/>
<path d="M177.69 232.86L179.63 232.86" stroke="#1e1e1e" stroke-width="1.15"/>
<path d="M177.69 236.88L179.07 236.88" stroke="#1e1e1e" stroke-width="1.15"/>
<path d="M185.17 239.16L185.17 239.73" stroke="#1e1e1e" stroke-width="1.15"/>
<path d="M185.17 239.16L190 239.16" stroke="#1e1e1e" stroke-width="1.15"/>
<path d="M185.17 239.73L190 239.73" stroke="#1e1e1e" stroke-width="1.15"/>
<path d="M182.91 239.45L182.91 240.45" stroke="#1e1e1e" stroke-width="1.15"/>
<path d="M182.91 239.45L185.17 239.45" stroke="#1e1e1e" stroke-width="1.15"/>
<path d="M182.91 240.45L190 240.45" stroke="#1e1e1e" stroke-width="1.15"/>
<path d="M183.22 241.15L183.22 241.83" stroke="#1e1e1e" stroke-width="1.15"/>
<path d="M183.22 241.15L190 241.15" stroke="#1e1e1e" stroke-width="1.15"/>
<path d="M183.22 241.83L190 241.83" stroke="#1e1e1e" stroke-width="1.15"/>
<path d="M182.87 241.49L182.87 242.67" stroke="#1e1e1e" stroke-width="1.15"/>
<path d="M182.87 241.49L183.22 241.49" stroke="#1e1e1e" stroke-width="1.15"/>
<path d="M182.87 242.67L190 242.67" stroke="#1e1e1e" stroke-width="1.15"/>
<path d="M179.99 239.95L179.99 242.08" stroke="#1e1e1e" stroke-width="1.15"/>
<path d="M179.99 239.95L182.91 239.95" stroke="#1e1e1e" stroke-width="1.15"/>
<path d="M179.99 242.08L182.87 242.08" stroke="#1e1e1e" stroke-width="1.15"/>
<path d="M183.37 243.55L183.37 244.17" stroke="#1e1e1e" stroke-width="1.15"/>
<path d="M183.37 243.55L190 243.55" stroke="#1e1e1e" stroke-width="1.15"/>
<path d="M183.37 244.17L190 244.17" stroke="#1e1e1e" stroke-width="1.15"/>
<path d="M181.14 244.85L181.14 245.63" stroke="#1e1e1e" stroke-width="1.15"/>
<path d="M181.14 244.85L190 244.85" stroke="#1e1e1e" stroke-width="1.15"/>
<path d="M181.14 245.63L190 245.63" stroke="#1e1e1e" stroke-width="1.15"/>
<path d="M180.42 243.86L180.42 245.24" stroke="#1e1e1e" stroke-width="1.15"/>
<path d="M180.42 243.86L183.37 243.86" stroke="#1e1e1e" stroke-width="1.15"/>
<path d="M180.42 245.24L181.14 245.24" stroke="#1e1e1e" stroke-width="1.15"/>
<path d="M183.4 246.26L183.4 246.77" stroke="#1e1e1e" stroke-width="1.15"/>
<path d="M183.4 246.26L190 246.26" stroke="#1e1e1e" stroke-width="1.15"/>
<path d="M183.4 246.77L190 246.77" stroke="#1e1e1e" stroke-width="1.15"/>
<path d="M182.72 246.52L182.72 247.2" stroke="#1e1e1e" stroke-width="1.15"/>
<path d="M182.72 246.52L183.4 246.52" stroke="#1e1e1e" stroke-width="1.15"/>
<path d="M182.72 247.2L190 247.2" stroke="#1e1e1e" stroke-width="1.15"/>
<path d="M186.06 248.38L186.06 249.08" stroke="#1e1e1e" stroke-width="1.15"/>
<path d="M186.06 248.38L190 248.38" stroke="#1e1e1e" stroke-width="1.15"/>
<path d="M186.06 249.08L190 249.08" stroke="#1e1e1e" stroke-width="1.15"/>
<path d="M184.39 247.78L184.39 248.73" stroke="#1e1e1e" stroke-width="1.15"/>
<path d="M184.39 247.78L190 247.78" stroke="#1e1e1e" stroke-width="1.15"/>
<path d="M184.39 248.73L186.06 248.73" stroke="#1e1e1e" stroke-width="1.15"/>
<path d="M182.85 249.77L182.85 250.38" stroke="#1e1e1e" stroke-width="1.15"/>
<path d="M182.85 249.77L190 249.77" stroke="#1e1e1e" stroke-width="1.15"/>
<path d="M182.85 250.38L190 250.38" stroke="#1e1e1e" stroke-width="1.15"/>
<path d="M182.47 248.25L182.47 250.07" stroke="#1e1e1e" stroke-width="1.15"/>
<path d="M182.47 248.25L184.39 248.25" stroke="#1e1e1e" stroke-width="1.15"/>
<path d="M182.47 250.07L182.85 250.07" stroke="#1e1e1e" stroke-width="1.15"/>
<path d="M181.2 246.86L181.2 249.16" stroke="#1e1e1e" stroke-width="1.15"/>
<path d="M181.2 246.86L182.72 246.86" stroke="#1e1e1e" stroke-width="1.15"/>
<path d="M181.2 249.16L182.47 249.16" stroke="#1e1e1e" stroke-width="1.15"/>
<path d="M180.02 244.55L180.02 248.01" stroke="#1e1e1e" stroke-width="1.15"/>
<path d="M180.02 244.55L180.42 244.55" stroke="#1e1e1e" stroke-width="1.15"/>
<path d="M180.02 248.01L181.2 248.01" stroke="#1e1e1e" stroke-width="1.15"/>
<path d="M179.41 241.01L179.41 246.28" stroke="#1e1e1e" stroke-width="1.15"/>
<path d="M179.41 241.01L179.99 241.01" stroke="#1e1e1e" stroke-width="1.15"/>
<path d="M179.41 246.28L180.02 246.28" stroke="#1e1e1e" stroke-width="1.15"/>
<path d="M177.1 234.87L177.1 243.65" stroke="#2a2a2a" stroke-width="1.15"/>
<path d="M177.1 234.87L177.69 234.87" stroke="#2a2a2a" stroke-width="1.15"/>
<path d="M177.1 243.65L179.41 243.65" stroke="#2a2a2a" stroke-width="1.15"/>
<path d="M171.48 218.61L171.48 239.26" stroke="#2a2a2a" stroke-width="1.15"/>
<path d="M171.48 218.61L176.96 218.61" stroke="#2a2a2a" stroke-width="1.15"/>
<path d="M171.48 239.26L177.1 239.26" stroke="#2a2a2a" stroke-width="1.15"/>
<path d="M183.07 251.95L183.07 252.47" stroke="#1e1e1e" stroke-width="1.15"/>
<path d="M183.07 251.95L190 251.95" stroke="#1e1e1e" stroke-width="1.15"/>
<path d="M183.07 252.47L190 252.47" stroke="#1e1e1e" stroke-width="1.15"/>
<path d="M180 251.22L180 252.21" stroke="#1e1e1e" stroke-width="1.15"/>
<path d="M180 251.22L190 251.22" stroke="#1e1e1e" stroke-width="1.15"/>
<path d="M180 252.21L183.07 252.21" stroke="#1e1e1e" stroke-width="1.15"/>
<path d="M179.51 251.72L179.51 253.23" stroke="#1e1e1e" stroke-width="1.15"/>
<path d="M179.51 251.72L180 251.72" stroke="#1e1e1e" stroke-width="1.15"/>
<path d="M179.51 253.23L190 253.23" stroke="#1e1e1e" stroke-width="1.15"/>
<path d="M178.33 254.2L178.33 255.19" stroke="#1e1e1e" stroke-width="1.15"/>
<path d="M178.33 254.2L190 254.2" stroke="#1e1e1e" stroke-width="1.15"/>
<path d="M178.33 255.19L190 255.19" stroke="#1e1e1e" stroke-width="1.15"/>
<path d="M175.09 252.47L175.09 254.7" stroke="#1e1e1e" stroke-width="1.15"/>
<path d="M175.09 252.47L179.51 252.47" stroke="#1e1e1e" stroke-width="1.15"/>
<path d="M175.09 254.7L178.33 254.7" stroke="#1e1e1e" stroke-width="1.15"/>
<path d="M181.73 255.87L181.73 256.41" stroke="#1e1e1e" stroke-width="1.15"/>
<path d="M181.73 255.87L190 255.87" stroke="#1e1e1e" stroke-width="1.15"/>
<path d="M181.73 256.41L190 256.41" stroke="#1e1e1e" stroke-width="1.15"/>
<path d="M182.86 257.06L182.86 257.78" stroke="#1e1e1e" stroke-width="1.15"/>
<path d="M182.86 257.06L190 257.06" stroke="#1e1e1e" stroke-width="1.15"/>
<path d="M182.86 257.78L190 257.78" stroke="#1e1e1e" stroke-width="1.15"/>
<path d="M180.36 256.14L180.36 257.42" stroke="#1e1e1e" stroke-width="1.15"/>
<path d="M180.36 256.14L181.73 256.14" stroke="#1e1e1e" stroke-width="1.15"/>
<path d="M180.36 257.42L182.86 257.42" stroke="#1e1e1e" stroke-width="1.15"/>
<path d="M179.41 258.63L179.41 259.44" stroke="#1e1e1e" stroke-width="1.15"/>
<path d="M179.41 258.63L190 258.63" stroke="#1e1e1e" stroke-width="1.15"/>
<path d="M179.41 259.44L190 259.44" stroke="#1e1e1e" stroke-width="1.15"/>
<path d="M177.8 256.78L177.8 259.04" stroke="#1e1e1e" stroke-width="1.15"/>
<path d="M177.8 256.78L180.36 256.78" stroke="#1e1e1e" stroke-width="1.15"/>
<path d="M177.8 259.04L179.41 259.04" stroke="#1e1e1e" stroke-width="1.15"/>
<path d="M183.37 260.7L183.37 261.25" stroke="#1e1e1e" stroke-width="1.15"/>
<path d="M183.37 260.7L190 260.7" stroke="#1e1e1e" stroke-width="1.15"/>
<path d="M183.37 261.25L190 261.25" stroke="#1e1e1e" stroke-width="1.15"/>
<path d="M181.92 260.11L181.92 260.98" stroke="#1e1e1e" stroke-width="1.15"/>
<path d="M181.92 260.11L190 260.11" stroke="#1e1e1e" stroke-width="1.15"/>
<path d="M181.92 260.98L183.37 260.98" stroke="#1e1e1e" stroke-width="1.15"/>
<path d="M178.18 260.54L178.18 261.92" stroke="#1e1e1e" stroke-width="1.15"/>
<path d="M178.18 260.54L181.92 260.54" stroke="#1e1e1e" stroke-width="1.15"/>
<path d="M178.18 261.92L190 261.92" stroke="#1e1e1e" stroke-width="1.15"/>
<path d="M173.8 257.91L173.8 261.23" stroke="#1e1e1e" stroke-width="1.15"/>
<path d="M173.8 257.91L177.8 257.91" stroke="#1e1e1e" stroke-width="1.15"/>
<path d="M173.8 261.23L178.18 261.23" stroke="#1e1e1e" stroke-width="1.15"/>
<path d="M173.11 253.59L173.11 259.57" stroke="#2a2a2a" stroke-width="1.15"/>
<path d="M173.11 253.59L175.09 253.59" stroke="#2a2a2a" stroke-width="1.15"/>
<path d="M173.11 259.57L173.8 259.57" stroke="#2a2a2a" stroke-width="1.15"/>
<path d="M182.78 263.76L182.78 264.64" stroke="#1e1e1e" stroke-width="1.15"/>
<path d="M182.78 263.76L190 263.76" stroke="#1e1e1e" stroke-width="1.15"/>
<path d="M182.78 264.64L190 264.64" stroke="#1e1e1e" stroke-width="1.15"/>
<path d="M181.78 262.83L181.78 264.2" stroke="#1e1e1e" stroke-width="1.15"/>
<path d="M181.78 262.83L190 262.83" stroke="#1e1e1e" stroke-width="1.15"/>
<path d="M181.78 264.2L182.78 264.2" stroke="#1e1e1e" stroke-width="1.15"/>
<path d="M182.15 265.94L182.15 266.5" stroke="#1e1e1e" stroke-width="1.15"/>
<path d="M182.15 265.94L190 265.94" stroke="#1e1e1e" stroke-width="1.15"/>
<path d="M182.15 266.5L190 266.5" stroke="#1e1e1e" stroke-width="1.15"/>
<path d="M181.2 265.4L181.2 266.22" stroke="#1e1e1e" stroke-width="1.15"/>
<path d="M181.2 265.4L190 265.4" stroke="#1e1e1e" stroke-width="1.15"/>
<path d="M181.2 266.22L182.15 266.22" stroke="#1e1e1e" stroke-width="1.15"/>
<path d="M178.63 263.51L178.63 265.81" stroke="#1e1e1e" stroke-width="1.15"/>
<path d="M178.63 263.51L181.78 263.51" stroke="#1e1e1e" stroke-width="1.15"/>
<path d="M178.63 265.81L181.2 265.81" stroke="#1e1e1e" stroke-width="1.15"/>
<path d="M181.52 267.17L181.52 267.73" stroke="#1e1e1e" stroke-width="1.15"/>
<path d="M181.52 267.17L190 267.17" stroke="#1e1e1e" stroke-width="1.15"/>
<path d="M181.52 267.73L190 267.73" stroke="#1e1e1e" stroke-width="1.15"/>
<path d="M183.05 268.24L183.05 268.79" stroke="#1e1e1e" stroke-width="1.15"/>
<path d="M183.05 268.24L190 268.24" stroke="#1e1e1e" stroke-width="1.15"/>
<path d="M183.05 268.79L190 268.79" stroke="#1e1e1e" stroke-width="1.15"/>
<path d="M180.53 267.45L180.53 268.52" stroke="#1e1e1e" stroke-width="1.15"/>
<path d="M180.53 267.45L181.52 267.45" stroke="#1e1e1e" stroke-width="1.15"/>
<path d="M180.53 268.52L183.05 268.52" stroke="#1e1e1e" stroke-width="1.15"/>
<path d="M185.04 270.09L185.04 270.72" stroke="#1e1e1e" stroke-width="1.15"/>
<path d="M185.04 270.09L190 270.09" stroke="#1e1e1e" stroke-width="1.15"/>
<path d="M185.04 270.72L190 270.72" stroke="#1e1e1e" stroke-width="1.15"/>
<path d="M182.78 269.41L182.78 270.41" stroke="#1e1e1e" stroke-width="1.15"/>
<path d="M182.78 269.41L190 269.41" stroke="#1e1e1e" stroke-width="1.15"/>
<path d="M182.78 270.41L185.04 270.41" stroke="#1e1e1e" stroke-width="1.15"/>
<path d="M182.39 269.91L182.39 271.51" stroke="#1e1e1e" stroke-width="1.15"/>
<path d="M182.39 269.91L182.78 269.91" stroke="#1e1e1e" stroke-width="1.15"/>
<path d="M182.39 271.51L190 271.51" stroke="#1e1e1e" stroke-width="1.15"/>
<path d="M178.84 267.98L178.84 270.71" stroke="#1e1e1e" stroke-width="1.15"/>
<path d="M178.84 267.98L180.53 267.98" stroke="#1e1e1e" stroke-width="1.15"/>
<path d="M178.84 270.71L182.39 270.71" stroke="#1e1e1e" stroke-width="1.15"/>
<path d="M175.54 264.66L175.54 269.35" stroke="#2a2a2a" stroke-width="1.15"/>
<path d="M175.54 264.66L178.63 264.66" stroke="#2a2a2a" stroke-width="1.15"/>
<path d="M175.54 269.35L178.84 269.35" stroke="#2a2a2a" stroke-width="1.15"/>
<path d="M170.95 256.58L170.95 267" stroke="#2a2a2a" stroke-width="1.15"/>
<path d="M170.95 256.58L173.11 256.58" stroke="#2a2a2a" stroke-width="1.15"/>
<path d="M170.95 267L175.54 267" stroke="#2a2a2a" stroke-width="1.15"/>
<path d="M164 228.94L164 261.79" stroke="#2a2a2a" stroke-width="1.15"/>
<path d="M164 228.94L171.48 228.94" stroke="#2a2a2a" stroke-width="1.15"/>
<path d="M164 261.79L170.95 261.79" stroke="#2a2a2a" stroke-width="1.15"/>
<path d="M181.34 272.98L181.34 273.53" stroke="#1e1e1e" stroke-width="1.15"/>
<path d="M181.34 272.98L190 272.98" stroke="#1e1e1e" stroke-width="1.15"/>
<path d="M181.34 273.53L190 273.53" stroke="#1e1e1e" stroke-width="1.15"/>
<path d="M180.02 272.34L180.02 273.25" stroke="#1e1e1e" stroke-width="1.15"/>
<path d="M180.02 272.34L190 272.34" stroke="#1e1e1e" stroke-width="1.15"/>
<path d="M180.02 273.25L181.34 273.25" stroke="#1e1e1e" stroke-width="1.15"/>
<path d="M183.29 275.57L183.29 276.12" stroke="#1e1e1e" stroke-width="1.15"/>
<path d="M183.29 275.57L190 275.57" stroke="#1e1e1e" stroke-width="1.15"/>
<path d="M183.29 276.12L190 276.12" stroke="#1e1e1e" stroke-width="1.15"/>
<path d="M182.1 275.02L182.1 275.84" stroke="#1e1e1e" stroke-width="1.15"/>
<path d="M182.1 275.02L190 275.02" stroke="#1e1e1e" stroke-width="1.15"/>
<path d="M182.1 275.84L183.29 275.84" stroke="#1e1e1e" stroke-width="1.15"/>
<path d="M180.21 274.26L180.21 275.43" stroke="#1e1e1e" stroke-width="1.15"/>
<path d="M180.21 274.26L190 274.26" stroke="#1e1e1e" stroke-width="1.15"/>
<path d="M180.21 275.43L182.1 275.43" stroke="#1e1e1e" stroke-width="1.15"/>
<path d="M177.41 272.8L177.41 274.85" stroke="#1e1e1e" stroke-width="1.15"/>
<path d="M177.41 272.8L180.02 272.8" stroke="#1e1e1e" stroke-width="1.15"/>
<path d="M177.41 274.85L180.21 274.85" stroke="#1e1e1e" stroke-width="1.15"/>
<path d="M183.45 277.44L183.45 278.02" stroke="#1e1e1e" stroke-width="1.15"/>
<path d="M183.45 277.44L190 277.44" stroke="#1e1e1e" stroke-width="1.15"/>
<path d="M183.45 278.02L190 278.02" stroke="#1e1e1e" stroke-width="1.15"/>
<path d="M180.55 276.79L180.55 277.73" stroke="#1e1e1e" stroke-width="1.15"/>
<path d="M180.55 276.79L190 276.79" stroke="#1e1e1e" stroke-width="1.15"/>
<path d="M180.55 277.73L183.45 277.73" stroke="#1e1e1e" stroke-width="1.15"/>
<path d="M182.5 278.71L182.5 279.51" stroke="#1e1e1e" stroke-width="1.15"/>
<path d="M182.5 278.71L190 278.71" stroke="#1e1e1e" stroke-width="1.15"/>
<path d="M182.5 279.51L190 279.51" stroke="#1e1e1e" stroke-width="1.15"/>
<path d="M184.97 280.92L184.97 281.48" stroke="#1e1e1e" stroke-width="1.15"/>
<path d="M184.97 280.92L190 280.92" stroke="#1e1e1e" stroke-width="1.15"/>
<path d="M184.97 281.48L190 281.48" stroke="#1e1e1e" stroke-width="1.15"/>
<path d="M182.89 280.3L182.89 281.2" stroke="#1e1e1e" stroke-width="1.15"/>
<path d="M182.89 280.3L190 280.3" stroke="#1e1e1e" stroke-width="1.15"/>
<path d="M182.89 281.2L184.97 281.2" stroke="#1e1e1e" stroke-width="1.15"/>
<path d="M179.56 279.11L179.56 280.75" stroke="#1e1e1e" stroke-width="1.15"/>
<path d="M179.56 279.11L182.5 279.11" stroke="#1e1e1e" stroke-width="1.15"/>
<path d="M179.56 280.75L182.89 280.75" stroke="#1e1e1e" stroke-width="1.15"/>
<path d="M177.65 277.26L177.65 279.93" stroke="#1e1e1e" stroke-width="1.15"/>
<path d="M177.65 277.26L180.55 277.26" stroke="#1e1e1e" stroke-width="1.15"/>
<path d="M177.65 279.93L179.56 279.93" stroke="#1e1e1e" stroke-width="1.15"/>
<path d="M176.32 273.82L176.32 278.6" stroke="#1e1e1e" stroke-width="1.15"/>
<path d="M176.32 273.82L177.41 273.82" stroke="#1e1e1e" stroke-width="1.15"/>
<path d="M176.32 278.6L177.65 278.6" stroke="#1e1e1e" stroke-width="1.15"/>
<path d="M180.21 282.03L180.21 282.59" stroke="#1e1e1e" stroke-width="1.15"/>
<path d="M180.21 282.03L190 282.03" stroke="#1e1e1e" stroke-width="1.15"/>
<path d="M180.21 282.59L190 282.59" stroke="#1e1e1e" stroke-width="1.15"/>
<path d="M179.53 282.31L179.53 283.18" stroke="#1e1e1e" stroke-width="1.15"/>
<path d="M179.53 282.31L180.21 282.31" stroke="#1e1e1e" stroke-width="1.15"/>
<path d="M179.53 283.18L190 283.18" stroke="#1e1e1e" stroke-width="1.15"/>
<path d="M183.93 284.36L183.93 284.87" stroke="#1e1e1e" stroke-width="1.15"/>
<path d="M183.93 284.36L190 284.36" stroke="#1e1e1e" stroke-width="1.15"/>
<path d="M183.93 284.87L190 284.87" stroke="#1e1e1e" stroke-width="1.15"/>
<path d="M181.74 283.73L181.74 284.61" stroke="#1e1e1e" stroke-width="1.15"/>
<path d="M181.74 283.73L190 283.73" stroke="#1e1e1e" stroke-width="1.15"/>
<path d="M181.74 284.61L183.93 284.61" stroke="#1e1e1e" stroke-width="1.15"/>
<path d="M185.84 285.86L185.84 286.37" stroke="#1e1e1e" stroke-width="1.15"/>
<path d="M185.84 285.86L190 285.86" stroke="#1e1e1e" stroke-width="1.15"/>
<path d="M185.84 286.37L190 286.37" stroke="#1e1e1e" stroke-width="1.15"/>
<path d="M185.12 285.28L185.12 286.11" stroke="#1e1e1e" stroke-width="1.15"/>
<path d="M185.12 285.28L190 285.28" stroke="#1e1e1e" stroke-width="1.15"/>
<path d="M185.12 286.11L185.84 286.11" stroke="#1e1e1e" stroke-width="1.15"/>
<path d="M182.89 285.69L182.89 286.9" stroke="#1e1e1e" stroke-width="1.15"/>
<path d="M182.89 285.69L185.12 285.69" stroke="#1e1e1e" stroke-width="1.15"/>
<path d="M182.89 286.9L190 286.9" stroke="#1e1e1e" stroke-width="1.15"/>
<path d="M179.85 284.17L179.85 286.3" stroke="#1e1e1e" stroke-width="1.15"/>
<path d="M179.85 284.17L181.74 284.17" stroke="#1e1e1e" stroke-width="1.15"/>
<path d="M179.85 286.3L182.89 286.3" stroke="#1e1e1e" stroke-width="1.15"/>
<path d="M177 282.75L177 285.24" stroke="#1e1e1e" stroke-width="1.15"/>
<path d="M177 282.75L179.53 282.75" stroke="#1e1e1e" stroke-width="1.15"/>
<path d="M177 285.24L179.85 285.24" stroke="#1e1e1e" stroke-width="1.15"/>
<path d="M179.41 287.51L179.41 288.04" stroke="#1e1e1e" stroke-width="1.15"/>
<path d="M179.41 287.51L190 287.51" stroke="#1e1e1e" stroke-width="1.15"/>
<path d="M179.41 288.04L190 288.04" stroke="#1e1e1e" stroke-width="1.15"/>
<path d="M179.11 289.31L179.11 289.89" stroke="#1e1e1e" stroke-width="1.15"/>
<path d="M179.11 289.31L190 289.31" stroke="#1e1e1e" stroke-width="1.15"/>
<path d="M179.11 289.89L190 289.89" stroke="#1e1e1e" stroke-width="1.15"/>
<path d="M177.16 288.67L177.16 289.6" stroke="#1e1e1e" stroke-width="1.15"/>
<path d="M177.16 288.67L190 288.67" stroke="#1e1e1e" stroke-width="1.15"/>
<path d="M177.16 289.6L179.11 289.6" stroke="#1e1e1e" stroke-width="1.15"/>
<path d="M175.69 287.77L175.69 289.13" stroke="#1e1e1e" stroke-width="1.15"/>
<path d="M175.69 287.77L179.41 287.77" stroke="#1e1e1e" stroke-width="1.15"/>
<path d="M175.69 289.13L177.16 289.13" stroke="#1e1e1e" stroke-width="1.15"/>
<path d="M174.36 283.99L174.36 288.45" stroke="#1e1e1e" stroke-width="1.15"/>
<path d="M174.36 283.99L177 283.99" stroke="#1e1e1e" stroke-width="1.15"/>
<path d="M174.36 288.45L175.69 288.45" stroke="#1e1e1e" stroke-width="1.15"/>
<path d="M172.6 276.21L172.6 286.22" stroke="#2a2a2a" stroke-width="1.15"/>
<path d="M172.6 276.21L176.32 276.21" stroke="#2a2a2a" stroke-width="1.15"/>
<path d="M172.6 286.22L174.36 286.22" stroke="#2a2a2a" stroke-width="1.15"/>
<path d="M175.85 290.4L175.85 291.13" stroke="#1e1e1e" stroke-width="1.15"/>
<path d="M175.85 290.4L190 290.4" stroke="#1e1e1e" stroke-width="1.15"/>
<path d="M175.85 291.13L190 291.13" stroke="#1e1e1e" stroke-width="1.15"/>
<path d="M179.37 291.99L179.37 292.84" stroke="#1e1e1e" stroke-width="1.15"/>
<path d="M179.37 291.99L190 291.99" stroke="#1e1e1e" stroke-width="1.15"/>
<path d="M179.37 292.84L190 292.84" stroke="#1e1e1e" stroke-width="1.15"/>
<path d="M179.66 293.67L179.66 294.4" stroke="#1e1e1e" stroke-width="1.15"/>
<path d="M179.66 293.67L190 293.67" stroke="#1e1e1e" stroke-width="1.15"/>
<path d="M179.66 294.4L190 294.4" stroke="#1e1e1e" stroke-width="1.15"/>
<path d="M176.82 292.42L176.82 294.04" stroke="#1e1e1e" stroke-width="1.15"/>
<path d="M176.82 292.42L179.37 292.42" stroke="#1e1e1e" stroke-width="1.15"/>
<path d="M176.82 294.04L179.66 294.04" stroke="#1e1e1e" stroke-width="1.15"/>
<path d="M172.37 290.77L172.37 293.23" stroke="#1e1e1e" stroke-width="1.15"/>
<path d="M172.37 290.77L175.85 290.77" stroke="#1e1e1e" stroke-width="1.15"/>
<path d="M172.37 293.23L176.82 293.23" stroke="#1e1e1e" stroke-width="1.15"/>
<path d="M178.3 295.03L178.3 295.53" stroke="#1e1e1e" stroke-width="1.15"/>
<path d="M178.3 295.03L190 295.03" stroke="#1e1e1e" stroke-width="1.15"/>
<path d="M178.3 295.53L190 295.53" stroke="#1e1e1e" stroke-width="1.15"/>
<path d="M175.93 295.28L175.93 296.11" stroke="#1e1e1e" stroke-width="1.15"/>
<path d="M175.93 295.28L178.3 295.28" stroke="#1e1e1e" stroke-width="1.15"/>
<path d="M175.93 296.11L190 296.11" stroke="#1e1e1e" stroke-width="1.15"/>
<path d="M178.26 296.82L178.26 297.65" stroke="#1e1e1e" stroke-width="1.15"/>
<path d="M178.26 296.82L190 296.82" stroke="#1e1e1e" stroke-width="1.15"/>
<path d="M178.26 297.65L190 297.65" stroke="#1e1e1e" stroke-width="1.15"/>
<path d="M174.26 295.69L174.26 297.23" stroke="#1e1e1e" stroke-width="1.15"/>
<path d="M174.26 295.69L175.93 295.69" stroke="#1e1e1e" stroke-width="1.15"/>
<path d="M174.26 297.23L178.26 297.23" stroke="#1e1e1e" stroke-width="1.15"/>
<path d="M180.86 299.01L180.86 299.62" stroke="#1e1e1e" stroke-width="1.15"/>
<path d="M180.86 299.01L190 299.01" stroke="#1e1e1e" stroke-width="1.15"/>
<path d="M180.86 299.62L190 299.62" stroke="#1e1e1e" stroke-width="1.15"/>
<path d="M177.68 298.4L177.68 299.32" stroke="#1e1e1e" stroke-width="1.15"/>
<path d="M177.68 298.4L190 298.4" stroke="#1e1e1e" stroke-width="1.15"/>
<path d="M177.68 299.32L180.86 299.32" stroke="#1e1e1e" stroke-width="1.15"/>
<path d="M179.85 300.34L179.85 301.24" stroke="#1e1e1e" stroke-width="1.15"/>
<path d="M179.85 300.34L190 300.34" stroke="#1e1e1e" stroke-width="1.15"/>
<path d="M179.85 301.24L190 301.24" stroke="#1e1e1e" stroke-width="1.15"/>
<path d="M177.02 298.86L177.02 300.79" stroke="#1e1e1e" stroke-width="1.15"/>
<path d="M177.02 298.86L177.68 298.86" stroke="#1e1e1e" stroke-width="1.15"/>
<path d="M177.02 300.79L179.85 300.79" stroke="#1e1e1e" stroke-width="1.15"/>
<path d="M173.5 296.46L173.5 299.82" stroke="#1e1e1e" stroke-width="1.15"/>
<path d="M173.5 296.46L174.26 296.46" stroke="#1e1e1e" stroke-width="1.15"/>
<path d="M173.5 299.82L177.02 299.82" stroke="#1e1e1e" stroke-width="1.15"/>
<path d="M166.71 292L166.71 298.14" stroke="#2a2a2a" stroke-width="1.15"/>
<path d="M166.71 292L172.37 292" stroke="#2a2a2a" stroke-width="1.15"/>
<path d="M166.71 298.14L173.5 298.14" stroke="#2a2a2a" stroke-width="1.15"/>
<path d="M164.97 281.21L164.97 295.07" stroke="#2a2a2a" stroke-width="1.15"/>
<path d="M164.97 281.21L172.6 281.21" stroke="#2a2a2a" stroke-width="1.15"/>
<path d="M164.97 295.07L166.71 295.07" stroke="#2a2a2a" stroke-width="1.15"/>
<path d="M181.6 301.93L181.6 302.53" stroke="#1e1e1e" stroke-width="1.15"/>
<path d="M181.6 301.93L190 301.93" stroke="#1e1e1e" stroke-width="1.15"/>
<path d="M181.6 302.53L190 302.53" stroke="#1e1e1e" stroke-width="1.15"/>
<path d="M182.98 304.09L182.98 304.74" stroke="#1e1e1e" stroke-width="1.15"/>
<path d="M182.98 304.09L190 304.09" stroke="#1e1e1e" stroke-width="1.15"/>
<path d="M182.98 304.74L190 304.74" stroke="#1e1e1e" stroke-width="1.15"/>
<path d="M182.05 303.3L182.05 304.41" stroke="#1e1e1e" stroke-width="1.15"/>
<path d="M182.05 303.3L190 303.3" stroke="#1e1e1e" stroke-width="1.15"/>
<path d="M182.05 304.41L182.98 304.41" stroke="#1e1e1e" stroke-width="1.15"/>
<path d="M178.64 302.23L178.64 303.86" stroke="#1e1e1e" stroke-width="1.15"/>
<path d="M178.64 302.23L181.6 302.23" stroke="#1e1e1e" stroke-width="1.15"/>
<path d="M178.64 303.86L182.05 303.86" stroke="#1e1e1e" stroke-width="1.15"/>
<path d="M180.93 305.19L180.93 305.75" stroke="#1e1e1e" stroke-width="1.15"/>
<path d="M180.93 305.19L190 305.19" stroke="#1e1e1e" stroke-width="1.15"/>
<path d="M180.93 305.75L190 305.75" stroke="#1e1e1e" stroke-width="1.15"/>
<path d="M180.11 306.41L180.11 306.95" stroke="#1e1e1e" stroke-width="1.15"/>
<path d="M180.11 306.41L190 306.41" stroke="#1e1e1e" stroke-width="1.15"/>
<path d="M180.11 306.95L190 306.95" stroke="#1e1e1e" stroke-width="1.15"/>
<path d="M179.58 305.47L179.58 306.68" stroke="#1e1e1e" stroke-width="1.15"/>
<path d="M179.58 305.47L180.93 305.47" stroke="#1e1e1e" stroke-width="1.15"/>
<path d="M179.58 306.68L180.11 306.68" stroke="#1e1e1e" stroke-width="1.15"/>
<path d="M179.76 307.52L179.76 308.07" stroke="#1e1e1e" stroke-width="1.15"/>
<path d="M179.76 307.52L190 307.52" stroke="#1e1e1e" stroke-width="1.15"/>
<path d="M179.76 308.07L190 308.07" stroke="#1e1e1e" stroke-width="1.15"/>
<path d="M178.45 306.07L178.45 307.8" stroke="#1e1e1e" stroke-width="1.15"/>
<path d="M178.45 306.07L179.58 306.07" stroke="#1e1e1e" stroke-width="1.15"/>
<path d="M178.45 307.8L179.76 307.8" stroke="#1e1e1e" stroke-width="1.15"/>
<path d="M173.58 303.04L173.58 306.94" stroke="#1e1e1e" stroke-width="1.15"/>
<path d="M173.58 303.04L178.64 303.04" stroke="#1e1e1e" stroke-width="1.15"/>
<path d="M173.58 306.94L178.45 306.94" stroke="#1e1e1e" stroke-width="1.15"/>
<path d="M181.49 308.47L181.49 309.04" stroke="#1e1e1e" stroke-width="1.15"/>
<path d="M181.49 308.47L190 308.47" stroke="#1e1e1e" stroke-width="1.15"/>
<path d="M181.49 309.04L190 309.04" stroke="#1e1e1e" stroke-width="1.15"/>
<path d="M182.39 309.65L182.39 310.17" stroke="#1e1e1e" stroke-width="1.15"/>
<path d="M182.39 309.65L190 309.65" stroke="#1e1e1e" stroke-width="1.15"/>
<path d="M182.39 310.17L190 310.17" stroke="#1e1e1e" stroke-width="1.15"/>
<path d="M179.33 308.76L179.33 309.91" stroke="#1e1e1e" stroke-width="1.15"/>
<path d="M179.33 308.76L181.49 308.76" stroke="#1e1e1e" stroke-width="1.15"/>
<path d="M179.33 309.91L182.39 309.91" stroke="#1e1e1e" stroke-width="1.15"/>
<path d="M182.9 310.82L182.9 311.42" stroke="#1e1e1e" stroke-width="1.15"/>
<path d="M182.9 310.82L190 310.82" stroke="#1e1e1e" stroke-width="1.15"/>
<path d="M182.9 311.42L190 311.42" stroke="#1e1e1e" stroke-width="1.15"/>
<path d="M181.11 311.12L181.11 311.93" stroke="#1e1e1e" stroke-width="1.15"/>
<path d="M181.11 311.12L182.9 311.12" stroke="#1e1e1e" stroke-width="1.15"/>
<path d="M181.11 311.93L190 311.93" stroke="#1e1e1e" stroke-width="1.15"/>
<path d="M177.58 309.33L177.58 311.52" stroke="#1e1e1e" stroke-width="1.15"/>
<path d="M177.58 309.33L179.33 309.33" stroke="#1e1e1e" stroke-width="1.15"/>
<path d="M177.58 311.52L181.11 311.52" stroke="#1e1e1e" stroke-width="1.15"/>
<path d="M171.87 304.99L171.87 310.43" stroke="#2a2a2a" stroke-width="1.15"/>
<path d="M171.87 304.99L173.58 304.99" stroke="#2a2a2a" stroke-width="1.15"/>
<path d="M171.87 310.43L177.58 310.43" stroke="#2a2a2a" stroke-width="1.15"/>
<path d="M175.14 312.56L175.14 313.26" stroke="#1e1e1e" stroke-width="1.15"/>
<path d="M175.14 312.56L190 312.56" stroke="#1e1e1e" stroke-width="1.15"/>
<path d="M175.14 313.26L190 313.26" stroke="#1e1e1e" stroke-width="1.15"/>
<path d="M178.05 314.61L178.05 315.33" stroke="#1e1e1e" stroke-width="1.15"/>
<path d="M178.05 314.61L190 314.61" stroke="#1e1e1e" stroke-width="1.15"/>
<path d="M178.05 315.33L190 315.33" stroke="#1e1e1e" stroke-width="1.15"/>
<path d="M176.98 313.9L176.98 314.97" stroke="#1e1e1e" stroke-width="1.15"/>
<path d="M176.98 313.9L190 313.9" stroke="#1e1e1e" stroke-width="1.15"/>
<path d="M176.98 314.97L178.05 314.97" stroke="#1e1e1e" stroke-width="1.15"/>
<path d="M170.98 312.91L170.98 314.43" stroke="#1e1e1e" stroke-width="1.15"/>
<path d="M170.98 312.91L175.14 312.91" stroke="#1e1e1e" stroke-width="1.15"/>
<path d="M170.98 314.43L176.98 314.43" stroke="#1e1e1e" stroke-width="1.15"/>
<path d="M176.45 316.09L176.45 316.86" stroke="#1e1e1e" stroke-width="1.15"/>
<path d="M176.45 316.09L190 316.09" stroke="#1e1e1e" stroke-width="1.15"/>
<path d="M176.45 316.86L190 316.86" stroke="#1e1e1e" stroke-width="1.15"/>
<path d="M175.32 316.48L175.32 317.6" stroke="#1e1e1e" stroke-width="1.15"/>
<path d="M175.32 316.48L176.45 316.48" stroke="#1e1e1e" stroke-width="1.15"/>
<path d="M175.32 317.6L190 317.6" stroke="#1e1e1e" stroke-width="1.15"/>
<path d="M169.9 313.67L169.9 317.04" stroke="#2a2a2a" stroke-width="1.15"/>
<path d="M169.9 313.67L170.98 313.67" stroke="#2a2a2a" stroke-width="1.15"/>
<path d="M169.9 317.04L175.32 317.04" stroke="#2a2a2a" stroke-width="1.15"/>
<path d="M163.38 307.71L163.38 315.36" stroke="#2a2a2a" stroke-width="1.15"/>
<path d="M163.38 307.71L171.87 307.71" stroke="#2a2a2a" stroke-width="1.15"/>
<path d="M163.38 315.36L169.9 315.36" stroke="#2a2a2a" stroke-width="1.15"/>
<path d="M160 288.14L160 311.53" stroke="#2a2a2a" stroke-width="1.15"/>
<path d="M160 288.14L164.97 288.14" stroke="#2a2a2a" stroke-width="1.15"/>
<path d="M160 311.53L163.38 311.53" stroke="#2a2a2a" stroke-width="1.15"/>
<path d="M179.44 318.23L179.44 318.87" stroke="#1e1e1e" stroke-width="1.15"/>
<path d="M179.44 318.23L190 318.23" stroke="#1e1e1e" stroke-width="1.15"/>
<path d="M179.44 318.87L190 318.87" stroke="#1e1e1e" stroke-width="1.15"/>
<path d="M180 319.59L180 320.34" stroke="#1e1e1e" stroke-width="1.15"/>
<path d="M180 319.59L190 319.59" stroke="#1e1e1e" stroke-width="1.15"/>
<path d="M180 320.34L190 320.34" stroke="#1e1e1e" stroke-width="1.15"/>
<path d="M176.51 319.97L176.51 321.21" stroke="#1e1e1e" stroke-width="1.15"/>
<path d="M176.51 319.97L180 319.97" stroke="#1e1e1e" stroke-width="1.15"/>
<path d="M176.51 321.21L190 321.21" stroke="#1e1e1e" stroke-width="1.15"/>
<path d="M174.87 318.55L174.87 320.59" stroke="#1e1e1e" stroke-width="1.15"/>
<path d="M174.87 318.55L179.44 318.55" stroke="#1e1e1e" stroke-width="1.15"/>
<path d="M174.87 320.59L176.51 320.59" stroke="#1e1e1e" stroke-width="1.15"/>
<path d="M180.42 321.91L180.42 322.64" stroke="#1e1e1e" stroke-width="1.15"/>
<path d="M180.42 321.91L190 321.91" stroke="#1e1e1e" stroke-width="1.15"/>
<path d="M180.42 322.64L190 322.64" stroke="#1e1e1e" stroke-width="1.15"/>
<path d="M179.64 323.5L179.64 324.3" stroke="#1e1e1e" stroke-width="1.15"/>
<path d="M179.64 323.5L190 323.5" stroke="#1e1e1e" stroke-width="1.15"/>
<path d="M179.64 324.3L190 324.3" stroke="#1e1e1e" stroke-width="1.15"/>
<path d="M176.27 322.28L176.27 323.9" stroke="#1e1e1e" stroke-width="1.15"/>
<path d="M176.27 322.28L180.42 322.28" stroke="#1e1e1e" stroke-width="1.15"/>
<path d="M176.27 323.9L179.64 323.9" stroke="#1e1e1e" stroke-width="1.15"/>
<path d="M178.12 326.08L178.12 327.02" stroke="#1e1e1e" stroke-width="1.15"/>
<path d="M178.12 326.08L190 326.08" stroke="#1e1e1e" stroke-width="1.15"/>
<path d="M178.12 327.02L190 327.02" stroke="#1e1e1e" stroke-width="1.15"/>
<path d="M177.58 325.14L177.58 326.55" stroke="#1e1e1e" stroke-width="1.15"/>
<path d="M177.58 325.14L190 325.14" stroke="#1e1e1e" stroke-width="1.15"/>
<path d="M177.58 326.55L178.12 326.55" stroke="#1e1e1e" stroke-width="1.15"/>
<path d="M174.07 323.09L174.07 325.85" stroke="#1e1e1e" stroke-width="1.15"/>
<path d="M174.07 323.09L176.27 323.09" stroke="#1e1e1e" stroke-width="1.15"/>
<path d="M174.07 325.85L177.58 325.85" stroke="#1e1e1e" stroke-width="1.15"/>
<path d="M170.73 319.57L170.73 324.47" stroke="#2a2a2a" stroke-width="1.15"/>
<path d="M170.73 319.57L174.87 319.57" stroke="#2a2a2a" stroke-width="1.15"/>
<path d="M170.73 324.47L174.07 324.47" stroke="#2a2a2a" stroke-width="1.15"/>
<path d="M180.26 327.91L180.26 328.57" stroke="#1e1e1e" stroke-width="1.15"/>
<path d="M180.26 327.91L190 327.91" stroke="#1e1e1e" stroke-width="1.15"/>
<path d="M180.26 328.57L190 328.57" stroke="#1e1e1e" stroke-width="1.15"/>
<path d="M182.09 329.66L182.09 330.29" stroke="#1e1e1e" stroke-width="1.15"/>
<path d="M182.09 329.66L190 329.66" stroke="#1e1e1e" stroke-width="1.15"/>
<path d="M182.09 330.29L190 330.29" stroke="#1e1e1e" stroke-width="1.15"/>
<path d="M179.48 329.08L179.48 329.97" stroke="#1e1e1e" stroke-width="1.15"/>
<path d="M179.48 329.08L190 329.08" stroke="#1e1e1e" stroke-width="1.15"/>
<path d="M179.48 329.97L182.09 329.97" stroke="#1e1e1e" stroke-width="1.15"/>
<path d="M178.88 328.24L178.88 329.52" stroke="#1e1e1e" stroke-width="1.15"/>
<path d="M178.88 328.24L180.26 328.24" stroke="#1e1e1e" stroke-width="1.15"/>
<path d="M178.88 329.52L179.48 329.52" stroke="#1e1e1e" stroke-width="1.15"/>
<path d="M180.71 332.37L180.71 332.89" stroke="#1e1e1e" stroke-width="1.15"/>
<path d="M180.71 332.37L190 332.37" stroke="#1e1e1e" stroke-width="1.15"/>
<path d="M180.71 332.89L190 332.89" stroke="#1e1e1e" stroke-width="1.15"/>
<path d="M177.62 331.83L177.62 332.63" stroke="#1e1e1e" stroke-width="1.15"/>
<path d="M177.62 331.83L190 331.83" stroke="#1e1e1e" stroke-width="1.15"/>
<path d="M177.62 332.63L180.71 332.63" stroke="#1e1e1e" stroke-width="1.15"/>
<path d="M176.16 331.1L176.16 332.23" stroke="#1e1e1e" stroke-width="1.15"/>
<path d="M176.16 331.1L190 331.1" stroke="#1e1e1e" stroke-width="1.15"/>
<path d="M176.16 332.23L177.62 332.23" stroke="#1e1e1e" stroke-width="1.15"/>
<path d="M174.81 328.88L174.81 331.66" stroke="#1e1e1e" stroke-width="1.15"/>
<path d="M174.81 328.88L178.88 328.88" stroke="#1e1e1e" stroke-width="1.15"/>
<path d="M174.81 331.66L176.16 331.66" stroke="#1e1e1e" stroke-width="1.15"/>
<path d="M182.9 333.53L182.9 334.17" stroke="#1e1e1e" stroke-width="1.15"/>
<path d="M182.9 333.53L190 333.53" stroke="#1e1e1e" stroke-width="1.15"/>
<path d="M182.9 334.17L190 334.17" stroke="#1e1e1e" stroke-width="1.15"/>
<path d="M180.74 334.59L180.74 335.1" stroke="#1e1e1e" stroke-width="1.15"/>
<path d="M180.74 334.59L190 334.59" stroke="#1e1e1e" stroke-width="1.15"/>
<path d="M180.74 335.1L190 335.1" stroke="#1e1e1e" stroke-width="1.15"/>
<path d="M179.7 333.85L179.7 334.85" stroke="#1e1e1e" stroke-width="1.15"/>
<path d="M179.7 333.85L182.9 333.85" stroke="#1e1e1e" stroke-width="1.15"/>
<path d="M179.7 334.85L180.74 334.85" stroke="#1e1e1e" stroke-width="1.15"/>
<path d="M178.79 335.84L178.79 336.56" stroke="#1e1e1e" stroke-width="1.15"/>
<path d="M178.79 335.84L190 335.84" stroke="#1e1e1e" stroke-width="1.15"/>
<path d="M178.79 336.56L190 336.56" stroke="#1e1e1e" stroke-width="1.15"/>
<path d="M177.34 334.35L177.34 336.2" stroke="#1e1e1e" stroke-width="1.15"/>
<path d="M177.34 334.35L179.7 334.35" stroke="#1e1e1e" stroke-width="1.15"/>
<path d="M177.34 336.2L178.79 336.2" stroke="#1e1e1e" stroke-width="1.15"/>
<path d="M180.98 337.3L180.98 337.95" stroke="#1e1e1e" stroke-width="1.15"/>
<path d="M180.98 337.3L190 337.3" stroke="#1e1e1e" stroke-width="1.15"/>
<path d="M180.98 337.95L190 337.95" stroke="#1e1e1e" stroke-width="1.15"/>
<path d="M180.89 338.45L180.89 338.98" stroke="#1e1e1e" stroke-width="1.15"/>
<path d="M180.89 338.45L190 338.45" stroke="#1e1e1e" stroke-width="1.15"/>
<path d="M180.89 338.98L190 338.98" stroke="#1e1e1e" stroke-width="1.15"/>
<path d="M178.23 337.62L178.23 338.72" stroke="#1e1e1e" stroke-width="1.15"/>
<path d="M178.23 337.62L180.98 337.62" stroke="#1e1e1e" stroke-width="1.15"/>
<path d="M178.23 338.72L180.89 338.72" stroke="#1e1e1e" stroke-width="1.15"/>
<path d="M183.01 340.28L183.01 340.85" stroke="#1e1e1e" stroke-width="1.15"/>
<path d="M183.01 340.28L190 340.28" stroke="#1e1e1e" stroke-width="1.15"/>
<path d="M183.01 340.85L190 340.85" stroke="#1e1e1e" stroke-width="1.15"/>
<path d="M182.55 339.56L182.55 340.56" stroke="#1e1e1e" stroke-width="1.15"/>
<path d="M182.55 339.56L190 339.56" stroke="#1e1e1e" stroke-width="1.15"/>
<path d="M182.55 340.56L183.01 340.56" stroke="#1e1e1e" stroke-width="1.15"/>
<path d="M181.87 341.25L181.87 341.89" stroke="#1e1e1e" stroke-width="1.15"/>
<path d="M181.87 341.25L190 341.25" stroke="#1e1e1e" stroke-width="1.15"/>
<path d="M181.87 341.89L190 341.89" stroke="#1e1e1e" stroke-width="1.15"/>
<path d="M180.7 340.06L180.7 341.57" stroke="#1e1e1e" stroke-width="1.15"/>
<path d="M180.7 340.06L182.55 340.06" stroke="#1e1e1e" stroke-width="1.15"/>
<path d="M180.7 341.57L181.87 341.57" stroke="#1e1e1e" stroke-width="1.15"/>
<path d="M176.82 338.17L176.82 340.82" stroke="#1e1e1e" stroke-width="1.15"/>
<path d="M176.82 338.17L178.23 338.17" stroke="#1e1e1e" stroke-width="1.15"/>
<path d="M176.82 340.82L180.7 340.82" stroke="#1e1e1e" stroke-width="1.15"/>
<path d="M174.27 335.27L174.27 339.49" stroke="#1e1e1e" stroke-width="1.15"/>
<path d="M174.27 335.27L177.34 335.27" stroke="#1e1e1e" stroke-width="1.15"/>
<path d="M174.27 339.49L176.82 339.49" stroke="#1e1e1e" stroke-width="1.15"/>
<path d="M170.77 330.27L170.77 337.38" stroke="#2a2a2a" stroke-width="1.15"/>
<path d="M170.77 330.27L174.81 330.27" stroke="#2a2a2a" stroke-width="1.15"/>
<path d="M170.77 337.38L174.27 337.38" stroke="#2a2a2a" stroke-width="1.15"/>
<path d="M165.81 322.02L165.81 333.83" stroke="#2a2a2a" stroke-width="1.15"/>
<path d="M165.81 322.02L170.73 322.02" stroke="#2a2a2a" stroke-width="1.15"/>
<path d="M165.81 333.83L170.77 333.83" stroke="#2a2a2a" stroke-width="1.15"/>
<path d="M179.2 342.67L179.2 343.22" stroke="#1e1e1e" stroke-width="1.15"/>
<path d="M179.2 342.67L190 342.67" stroke="#1e1e1e" stroke-width="1.15"/>
<path d="M179.2 343.22L190 343.22" stroke="#1e1e1e" stroke-width="1.15"/>
<path d="M178.53 342.95L178.53 343.7" stroke="#1e1e1e" stroke-width="1.15"/>
<path d="M178.53 342.95L179.2 342.95" stroke="#1e1e1e" stroke-width="1.15"/>
<path d="M178.53 343.7L190 343.7" stroke="#1e1e1e" stroke-width="1.15"/>
<path d="M179.11 345.19L179.11 345.83" stroke="#1e1e1e" stroke-width="1.15"/>
<path d="M179.11 345.19L190 345.19" stroke="#1e1e1e" stroke-width="1.15"/>
<path d="M179.11 345.83L190 345.83" stroke="#1e1e1e" stroke-width="1.15"/>
<path d="M178.54 344.38L178.54 345.51" stroke="#1e1e1e" stroke-width="1.15"/>
<path d="M178.54 344.38L190 344.38" stroke="#1e1e1e" stroke-width="1.15"/>
<path d="M178.54 345.51L179.11 345.51" stroke="#1e1e1e" stroke-width="1.15"/>
<path d="M174.32 343.32L174.32 344.95" stroke="#1e1e1e" stroke-width="1.15"/>
<path d="M174.32 343.32L178.53 343.32" stroke="#1e1e1e" stroke-width="1.15"/>
<path d="M174.32 344.95L178.54 344.95" stroke="#1e1e1e" stroke-width="1.15"/>
<path d="M182.25 346.82L182.25 347.35" stroke="#1e1e1e" stroke-width="1.15"/>
<path d="M182.25 346.82L190 346.82" stroke="#1e1e1e" stroke-width="1.15"/>
<path d="M182.25 347.35L190 347.35" stroke="#1e1e1e" stroke-width="1.15"/>
<path d="M179.63 346.34L179.63 347.08" stroke="#1e1e1e" stroke-width="1.15"/>
<path d="M179.63 346.34L190 346.34" stroke="#1e1e1e" stroke-width="1.15"/>
<path d="M179.63 347.08L182.25 347.08" stroke="#1e1e1e" stroke-width="1.15"/>
<path d="M176.76 346.71L176.76 348.15" stroke="#1e1e1e" stroke-width="1.15"/>
<path d="M176.76 346.71L179.63 346.71" stroke="#1e1e1e" stroke-width="1.15"/>
<path d="M176.76 348.15L190 348.15" stroke="#1e1e1e" stroke-width="1.15"/>
<path d="M173.34 344.13L173.34 347.43" stroke="#1e1e1e" stroke-width="1.15"/>
<path d="M173.34 344.13L174.32 344.13" stroke="#1e1e1e" stroke-width="1.15"/>
<path d="M173.34 347.43L176.76 347.43" stroke="#1e1e1e" stroke-width="1.15"/>
<path d="M175.54 349.05L175.54 349.76" stroke="#1e1e1e" stroke-width="1.15"/>
<path d="M175.54 349.05L190 349.05" stroke="#1e1e1e" stroke-width="1.15"/>
<path d="M175.54 349.76L190 349.76" stroke="#1e1e1e" stroke-width="1.15"/>
<path d="M178.83 350.34L178.83 350.94" stroke="#1e1e1e" stroke-width="1.15"/>
<path d="M178.83 350.34L190 350.34" stroke="#1e1e1e" stroke-width="1.15"/>
<path d="M178.83 350.94L190 350.94" stroke="#1e1e1e" stroke-width="1.15"/>
<path d="M178.26 350.64L178.26 351.75" stroke="#1e1e1e" stroke-width="1.15"/>
<path d="M178.26 350.64L178.83 350.64" stroke="#1e1e1e" stroke-width="1.15"/>
<path d="M178.26 351.75L190 351.75" stroke="#1e1e1e" stroke-width="1.15"/>
<path d="M179.65 352.54L179.65 353.05" stroke="#1e1e1e" stroke-width="1.15"/>
<path d="M179.65 352.54L190 352.54" stroke="#1e1e1e" stroke-width="1.15"/>
<path d="M179.65 353.05L190 353.05" stroke="#1e1e1e" stroke-width="1.15"/>
<path d="M175.66 351.2L175.66 352.8" stroke="#1e1e1e" stroke-width="1.15"/>
<path d="M175.66 351.2L178.26 351.2" stroke="#1e1e1e" stroke-width="1.15"/>
<path d="M175.66 352.8L179.65 352.8" stroke="#1e1e1e" stroke-width="1.15"/>
<path d="M173.72 349.4L173.72 352" stroke="#1e1e1e" stroke-width="1.15"/>
<path d="M173.72 349.4L175.54 349.4" stroke="#1e1e1e" stroke-width="1.15"/>
<path d="M173.72 352L175.66 352" stroke="#1e1e1e" stroke-width="1.15"/>
<path d="M168.71 345.78L168.71 350.7" stroke="#2a2a2a" stroke-width="1.15"/>
<path d="M168.71 345.78L173.34 345.78" stroke="#2a2a2a" stroke-width="1.15"/>
<path d="M168.71 350.7L173.72 350.7" stroke="#2a2a2a" stroke-width="1.15"/>
<path d="M179.27 353.52L179.27 354.22" stroke="#1e1e1e" stroke-width="1.15"/>
<path d="M179.27 353.52L190 353.52" stroke="#1e1e1e" stroke-width="1.15"/>
<path d="M179.27 354.22L190 354.22" stroke="#1e1e1e" stroke-width="1.15"/>
<path d="M180.38 355.12L180.38 355.83" stroke="#1e1e1e" stroke-width="1.15"/>
<path d="M180.38 355.12L190 355.12" stroke="#1e1e1e" stroke-width="1.15"/>
<path d="M180.38 355.83L190 355.83" stroke="#1e1e1e" stroke-width="1.15"/>
<path d="M176.95 353.87L176.95 355.47" stroke="#1e1e1e" stroke-width="1.15"/>
<path d="M176.95 353.87L179.27 353.87" stroke="#1e1e1e" stroke-width="1.15"/>
<path d="M176.95 355.47L180.38 355.47" stroke="#1e1e1e" stroke-width="1.15"/>
<path d="M176.07 357.13L176.07 357.67" stroke="#1e1e1e" stroke-width="1.15"/>
<path d="M176.07 357.13L190 357.13" stroke="#1e1e1e" stroke-width="1.15"/>
<path d="M176.07 357.67L190 357.67" stroke="#1e1e1e" stroke-width="1.15"/>
<path d="M171.77 356.48L171.77 357.4" stroke="#1e1e1e" stroke-width="1.15"/>
<path d="M171.77 356.48L190 356.48" stroke="#1e1e1e" stroke-width="1.15"/>
<path d="M171.77 357.4L176.07 357.4" stroke="#1e1e1e" stroke-width="1.15"/>
<path d="M170.98 354.67L170.98 356.94" stroke="#1e1e1e" stroke-width="1.15"/>
<path d="M170.98 354.67L176.95 354.67" stroke="#1e1e1e" stroke-width="1.15"/>
<path d="M170.98 356.94L171.77 356.94" stroke="#1e1e1e" stroke-width="1.15"/>
<path d="M179.62 358.32L179.62 359.15" stroke="#1e1e1e" stroke-width="1.15"/>
<path d="M179.62 358.32L190 358.32" stroke="#1e1e1e" stroke-width="1.15"/>
<path d="M179.62 359.15L190 359.15" stroke="#1e1e1e" stroke-width="1.15"/>
<path d="M178.61 359.76L178.61 360.28" stroke="#1e1e1e" stroke-width="1.15"/>
<path d="M178.61 359.76L190 359.76" stroke="#1e1e1e" stroke-width="1.15"/>
<path d="M178.61 360.28L190 360.28" stroke="#1e1e1e" stroke-width="1.15"/>
<path d="M176.76 358.73L176.76 360.02" stroke="#1e1e1e" stroke-width="1.15"/>
<path d="M176.76 358.73L179.62 358.73" stroke="#1e1e1e" stroke-width="1.15"/>
<path d="M176.76 360.02L178.61 360.02" stroke="#1e1e1e" stroke-width="1.15"/>
<path d="M179.64 360.82L179.64 361.33" stroke="#1e1e1e" stroke-width="1.15"/>
<path d="M179.64 360.82L190 360.82" stroke="#1e1e1e" stroke-width="1.15"/>
<path d="M179.64 361.33L190 361.33" stroke="#1e1e1e" stroke-width="1.15"/>
<path d="M181.35 361.96L181.35 362.47" stroke="#1e1e1e" stroke-width="1.15"/>
<path d="M181.35 361.96L190 361.96" stroke="#1e1e1e" stroke-width="1.15"/>
<path d="M181.35 362.47L190 362.47" stroke="#1e1e1e" stroke-width="1.15"/>
<path d="M177.86 361.08L177.86 362.21" stroke="#1e1e1e" stroke-width="1.15"/>
<path d="M177.86 361.08L179.64 361.08" stroke="#1e1e1e" stroke-width="1.15"/>
<path d="M177.86 362.21L181.35 362.21" stroke="#1e1e1e" stroke-width="1.15"/>
<path d="M181.58 363.14L181.58 363.87" stroke="#1e1e1e" stroke-width="1.15"/>
<path d="M181.58 363.14L190 363.14" stroke="#1e1e1e" stroke-width="1.15"/>
<path d="M181.58 363.87L190 363.87" stroke="#1e1e1e" stroke-width="1.15"/>
<path d="M183.4 365.13L183.4 365.71" stroke="#1e1e1e" stroke-width="1.15"/>
<path d="M183.4 365.13L190 365.13" stroke="#1e1e1e" stroke-width="1.15"/>
<path d="M183.4 365.71L190 365.71" stroke="#1e1e1e" stroke-width="1.15"/>
<path d="M181.12 364.47L181.12 365.42" stroke="#1e1e1e" stroke-width="1.15"/>
<path d="M181.12 364.47L190 364.47" stroke="#1e1e1e" stroke-width="1.15"/>
<path d="M181.12 365.42L183.4 365.42" stroke="#1e1e1e" stroke-width="1.15"/>
<path d="M180.31 363.5L180.31 364.95" stroke="#1e1e1e" stroke-width="1.15"/>
<path d="M180.31 363.5L181.58 363.5" stroke="#1e1e1e" stroke-width="1.15"/>
<path d="M180.31 364.95L181.12 364.95" stroke="#1e1e1e" stroke-width="1.15"/>
<path d="M176.31 361.64L176.31 364.22" stroke="#1e1e1e" stroke-width="1.15"/>
<path d="M176.31 361.64L177.86 361.64" stroke="#1e1e1e" stroke-width="1.15"/>
<path d="M176.31 364.22L180.31 364.22" stroke="#1e1e1e" stroke-width="1.15"/>
<path d="M172.1 359.38L172.1 362.93" stroke="#1e1e1e" stroke-width="1.15"/>
<path d="M172.1 359.38L176.76 359.38" stroke="#1e1e1e" stroke-width="1.15"/>
<path d="M172.1 362.93L176.31 362.93" stroke="#1e1e1e" stroke-width="1.15"/>
<path d="M170.18 355.81L170.18 361.16" stroke="#1e1e1e" stroke-width="1.15"/>
<path d="M170.18 355.81L170.98 355.81" stroke="#1e1e1e" stroke-width="1.15"/>
<path d="M170.18 361.16L172.1 361.16" stroke="#1e1e1e" stroke-width="1.15"/>
<path d="M180.59 366.95L180.59 367.57" stroke="#1e1e1e" stroke-width="1.15"/>
<path d="M180.59 366.95L190 366.95" stroke="#1e1e1e" stroke-width="1.15"/>
<path d="M180.59 367.57L190 367.57" stroke="#1e1e1e" stroke-width="1.15"/>
<path d="M179.44 366.34L179.44 367.26" stroke="#1e1e1e" stroke-width="1.15"/>
<path d="M179.44 366.34L190 366.34" stroke="#1e1e1e" stroke-width="1.15"/>
<path d="M179.44 367.26L180.59 367.26" stroke="#1e1e1e" stroke-width="1.15"/>
<path d="M180.92 368.26L180.92 368.83" stroke="#1e1e1e" stroke-width="1.15"/>
<path d="M180.92 368.26L190 368.26" stroke="#1e1e1e" stroke-width="1.15"/>
<path d="M180.92 368.83L190 368.83" stroke="#1e1e1e" stroke-width="1.15"/>
<path d="M183.12 369.32L183.12 370.08" stroke="#1e1e1e" stroke-width="1.15"/>
<path d="M183.12 369.32L190 369.32" stroke="#1e1e1e" stroke-width="1.15"/>
<path d="M183.12 370.08L190 370.08" stroke="#1e1e1e" stroke-width="1.15"/>
<path d="M179.98 368.54L179.98 369.7" stroke="#1e1e1e" stroke-width="1.15"/>
<path d="M179.98 368.54L180.92 368.54" stroke="#1e1e1e" stroke-width="1.15"/>
<path d="M179.98 369.7L183.12 369.7" stroke="#1e1e1e" stroke-width="1.15"/>
<path d="M176.16 366.8L176.16 369.12" stroke="#1e1e1e" stroke-width="1.15"/>
<path d="M176.16 366.8L179.44 366.8" stroke="#1e1e1e" stroke-width="1.15"/>
<path d="M176.16 369.12L179.98 369.12" stroke="#1e1e1e" stroke-width="1.15"/>
<path d="M179.41 370.86L179.41 371.61" stroke="#1e1e1e" stroke-width="1.15"/>
<path d="M179.41 370.86L190 370.86" stroke="#1e1e1e" stroke-width="1.15"/>
<path d="M179.41 371.61L190 371.61" stroke="#1e1e1e" stroke-width="1.15"/>
<path d="M175.96 371.23L175.96 372.54" stroke="#1e1e1e" stroke-width="1.15"/>
<path d="M175.96 371.23L179.41 371.23" stroke="#1e1e1e" stroke-width="1.15"/>
<path d="M175.96 372.54L190 372.54" stroke="#1e1e1e" stroke-width="1.15"/>
<path d="M174.51 367.96L174.51 371.88" stroke="#1e1e1e" stroke-width="1.15"/>
<path d="M174.51 367.96L176.16 367.96" stroke="#1e1e1e" stroke-width="1.15"/>
<path d="M174.51 371.88L175.96 371.88" stroke="#1e1e1e" stroke-width="1.15"/>
<path d="M168.8 358.48L168.8 369.92" stroke="#2a2a2a" stroke-width="1.15"/>
<path d="M168.8 358.48L170.18 358.48" stroke="#2a2a2a" stroke-width="1.15"/>
<path d="M168.8 369.92L174.51 369.92" stroke="#2a2a2a" stroke-width="1.15"/>
<path d="M167.64 348.24L167.64 364.2" stroke="#2a2a2a" stroke-width="1.15"/>
<path d="M167.64 348.24L168.71 348.24" stroke="#2a2a2a" stroke-width="1.15"/>
<path d="M167.64 364.2L168.8 364.2" stroke="#2a2a2a" stroke-width="1.15"/>
<path d="M164 327.92L164 356.22" stroke="#2a2a2a" stroke-width="1.15"/>
<path d="M164 327.92L165.81 327.92" stroke="#2a2a2a" stroke-width="1.15"/>
<path d="M164 356.22L167.64 356.22" stroke="#2a2a2a" stroke-width="1.15"/>
<path d="M179.88 373.33L179.88 373.88" stroke="#1e1e1e" stroke-width="1.15"/>
<path d="M179.88 373.33L190 373.33" stroke="#1e1e1e" stroke-width="1.15"/>
<path d="M179.88 373.88L190 373.88" stroke="#1e1e1e" stroke-width="1.15"/>
<path d="M181.87 374.3L181.87 374.83" stroke="#1e1e1e" stroke-width="1.15"/>
<path d="M181.87 374.3L190 374.3" stroke="#1e1e1e" stroke-width="1.15"/>
<path d="M181.87 374.83L190 374.83" stroke="#1e1e1e" stroke-width="1.15"/>
<path d="M179.16 374.57L179.16 375.61" stroke="#1e1e1e" stroke-width="1.15"/>
<path d="M179.16 374.57L181.87 374.57" stroke="#1e1e1e" stroke-width="1.15"/>
<path d="M179.16 375.61L190 375.61" stroke="#1e1e1e" stroke-width="1.15"/>
<path d="M177.2 373.6L177.2 375.09" stroke="#1e1e1e" stroke-width="1.15"/>
<path d="M177.2 373.6L179.88 373.6" stroke="#1e1e1e" stroke-width="1.15"/>
<path d="M177.2 375.09L179.16 375.09" stroke="#1e1e1e" stroke-width="1.15"/>
<path d="M181.91 376.31L181.91 376.84" stroke="#1e1e1e" stroke-width="1.15"/>
<path d="M181.91 376.31L190 376.31" stroke="#1e1e1e" stroke-width="1.15"/>
<path d="M181.91 376.84L190 376.84" stroke="#1e1e1e" stroke-width="1.15"/>
<path d="M179.63 376.57L179.63 377.55" stroke="#1e1e1e" stroke-width="1.15"/>
<path d="M179.63 376.57L181.91 376.57" stroke="#1e1e1e" stroke-width="1.15"/>
<path d="M179.63 377.55L190 377.55" stroke="#1e1e1e" stroke-width="1.15"/>
<path d="M180.21 378.23L180.21 378.83" stroke="#1e1e1e" stroke-width="1.15"/>
<path d="M180.21 378.23L190 378.23" stroke="#1e1e1e" stroke-width="1.15"/>
<path d="M180.21 378.83L190 378.83" stroke="#1e1e1e" stroke-width="1.15"/>
<path d="M176.43 377.06L176.43 378.53" stroke="#1e1e1e" stroke-width="1.15"/>
<path d="M176.43 377.06L179.63 377.06" stroke="#1e1e1e" stroke-width="1.15"/>
<path d="M176.43 378.53L180.21 378.53" stroke="#1e1e1e" stroke-width="1.15"/>
<path d="M173.65 374.35L173.65 377.8" stroke="#2a2a2a" stroke-width="1.15"/>
<path d="M173.65 374.35L177.2 374.35" stroke="#2a2a2a" stroke-width="1.15"/>
<path d="M173.65 377.8L176.43 377.8" stroke="#2a2a2a" stroke-width="1.15"/>
<path d="M181.71 379.46L181.71 380.01" stroke="#1e1e1e" stroke-width="1.15"/>
<path d="M181.71 379.46L190 379.46" stroke="#1e1e1e" stroke-width="1.15"/>
<path d="M181.71 380.01L190 380.01" stroke="#1e1e1e" stroke-width="1.15"/>
<path d="M178.14 379.74L178.14 380.67" stroke="#1e1e1e" stroke-width="1.15"/>
<path d="M178.14 379.74L181.71 379.74" stroke="#1e1e1e" stroke-width="1.15"/>
<path d="M178.14 380.67L190 380.67" stroke="#1e1e1e" stroke-width="1.15"/>
<path d="M181.24 381.34L181.24 381.86" stroke="#1e1e1e" stroke-width="1.15"/>
<path d="M181.24 381.34L190 381.34" stroke="#1e1e1e" stroke-width="1.15"/>
<path d="M181.24 381.86L190 381.86" stroke="#1e1e1e" stroke-width="1.15"/>
<path d="M177.89 382.46L177.89 382.98" stroke="#1e1e1e" stroke-width="1.15"/>
<path d="M177.89 382.46L190 382.46" stroke="#1e1e1e" stroke-width="1.15"/>
<path d="M177.89 382.98L190 382.98" stroke="#1e1e1e" stroke-width="1.15"/>
<path d="M177.25 381.6L177.25 382.72" stroke="#1e1e1e" stroke-width="1.15"/>
<path d="M177.25 381.6L181.24 381.6" stroke="#1e1e1e" stroke-width="1.15"/>
<path d="M177.25 382.72L177.89 382.72" stroke="#1e1e1e" stroke-width="1.15"/>
<path d="M174.91 380.2L174.91 382.16" stroke="#1e1e1e" stroke-width="1.15"/>
<path d="M174.91 380.2L178.14 380.2" stroke="#1e1e1e" stroke-width="1.15"/>
<path d="M174.91 382.16L177.25 382.16" stroke="#1e1e1e" stroke-width="1.15"/>
<path d="M178.47 383.58L178.47 384.44" stroke="#1e1e1e" stroke-width="1.15"/>
<path d="M178.47 383.58L190 383.58" stroke="#1e1e1e" stroke-width="1.15"/>
<path d="M178.47 384.44L190 384.44" stroke="#1e1e1e" stroke-width="1.15"/>
<path d="M179.17 385.25L179.17 386.02" stroke="#1e1e1e" stroke-width="1.15"/>
<path d="M179.17 385.25L190 385.25" stroke="#1e1e1e" stroke-width="1.15"/>
<path d="M179.17 386.02L190 386.02" stroke="#1e1e1e" stroke-width="1.15"/>
<path d="M175.74 384.01L175.74 385.63" stroke="#1e1e1e" stroke-width="1.15"/>
<path d="M175.74 384.01L178.47 384.01" stroke="#1e1e1e" stroke-width="1.15"/>
<path d="M175.74 385.63L179.17 385.63" stroke="#1e1e1e" stroke-width="1.15"/>
<path d="M173.05 381.18L173.05 384.82" stroke="#2a2a2a" stroke-width="1.15"/>
<path d="M173.05 381.18L174.91 381.18" stroke="#2a2a2a" stroke-width="1.15"/>
<path d="M173.05 384.82L175.74 384.82" stroke="#2a2a2a" stroke-width="1.15"/>
<path d="M167.87 376.07L167.87 383" stroke="#2a2a2a" stroke-width="1.15"/>
<path d="M167.87 376.07L173.65 376.07" stroke="#2a2a2a" stroke-width="1.15"/>
<path d="M167.87 383L173.05 383" stroke="#2a2a2a" stroke-width="1.15"/>
<path d="M174.13 386.63L174.13 387.14" stroke="#1e1e1e" stroke-width="1.15"/>
<path d="M174.13 386.63L190 386.63" stroke="#1e1e1e" stroke-width="1.15"/>
<path d="M174.13 387.14L190 387.14" stroke="#1e1e1e" stroke-width="1.15"/>
<path d="M176.01 387.65L176.01 388.25" stroke="#1e1e1e" stroke-width="1.15"/>
<path d="M176.01 387.65L190 387.65" stroke="#1e1e1e" stroke-width="1.15"/>
<path d="M176.01 388.25L190 388.25" stroke="#1e1e1e" stroke-width="1.15"/>
<path d="M173.4 386.88L173.4 387.95" stroke="#1e1e1e" stroke-width="1.15"/>
<path d="M173.4 386.88L174.13 386.88" stroke="#1e1e1e" stroke-width="1.15"/>
<path d="M173.4 387.95L176.01 387.95" stroke="#1e1e1e" stroke-width="1.15"/>
<path d="M179.28 388.82L179.28 389.4" stroke="#1e1e1e" stroke-width="1.15"/>
<path d="M179.28 388.82L190 388.82" stroke="#1e1e1e" stroke-width="1.15"/>
<path d="M179.28 389.4L190 389.4" stroke="#1e1e1e" stroke-width="1.15"/>
<path d="M177.39 389.11L177.39 390.14" stroke="#1e1e1e" stroke-width="1.15"/>
<path d="M177.39 389.11L179.28 389.11" stroke="#1e1e1e" stroke-width="1.15"/>
<path d="M177.39 390.14L190 390.14" stroke="#1e1e1e" stroke-width="1.15"/>
<path d="M174.47 389.63L174.47 390.96" stroke="#1e1e1e" stroke-width="1.15"/>
<path d="M174.47 389.63L177.39 389.63" stroke="#1e1e1e" stroke-width="1.15"/>
<path d="M174.47 390.96L190 390.96" stroke="#1e1e1e" stroke-width="1.15"/>
<path d="M172.42 387.42L172.42 390.29" stroke="#1e1e1e" stroke-width="1.15"/>
<path d="M172.42 387.42L173.4 387.42" stroke="#1e1e1e" stroke-width="1.15"/>
<path d="M172.42 390.29L174.47 390.29" stroke="#1e1e1e" stroke-width="1.15"/>
<path d="M180.73 392.43L180.73 392.98" stroke="#1e1e1e" stroke-width="1.15"/>
<path d="M180.73 392.43L190 392.43" stroke="#1e1e1e" stroke-width="1.15"/>
<path d="M180.73 392.98L190 392.98" stroke="#1e1e1e" stroke-width="1.15"/>
<path d="M179.23 391.77L179.23 392.7" stroke="#1e1e1e" stroke-width="1.15"/>
<path d="M179.23 391.77L190 391.77" stroke="#1e1e1e" stroke-width="1.15"/>
<path d="M179.23 392.7L180.73 392.7" stroke="#1e1e1e" stroke-width="1.15"/>
<path d="M179.57 393.58L179.57 394.31" stroke="#1e1e1e" stroke-width="1.15"/>
<path d="M179.57 393.58L190 393.58" stroke="#1e1e1e" stroke-width="1.15"/>
<path d="M179.57 394.31L190 394.31" stroke="#1e1e1e" stroke-width="1.15"/>
<path d="M177 392.24L177 393.95" stroke="#1e1e1e" stroke-width="1.15"/>
<path d="M177 392.24L179.23 392.24" stroke="#1e1e1e" stroke-width="1.15"/>
<path d="M177 393.95L179.57 393.95" stroke="#1e1e1e" stroke-width="1.15"/>
<path d="M171.01 388.86L171.01 393.09" stroke="#2a2a2a" stroke-width="1.15"/>
<path d="M171.01 388.86L172.42 388.86" stroke="#2a2a2a" stroke-width="1.15"/>
<path d="M171.01 393.09L177 393.09" stroke="#2a2a2a" stroke-width="1.15"/>
<path d="M178.64 394.87L178.64 395.47" stroke="#1e1e1e" stroke-width="1.15"/>
<path d="M178.64 394.87L190 394.87" stroke="#1e1e1e" stroke-width="1.15"/>
<path d="M178.64 395.47L190 395.47" stroke="#1e1e1e" stroke-width="1.15"/>
<path d="M179.87 396.85L179.87 397.39" stroke="#1e1e1e" stroke-width="1.15"/>
<path d="M179.87 396.85L190 396.85" stroke="#1e1e1e" stroke-width="1.15"/>
<path d="M179.87 397.39L190 397.39" stroke="#1e1e1e" stroke-width="1.15"/>
<path d="M177.73 396.24L177.73 397.12" stroke="#1e1e1e" stroke-width="1.15"/>
<path d="M177.73 396.24L190 396.24" stroke="#1e1e1e" stroke-width="1.15"/>
<path d="M177.73 397.12L179.87 397.12" stroke="#1e1e1e" stroke-width="1.15"/>
<path d="M176.49 395.17L176.49 396.68" stroke="#1e1e1e" stroke-width="1.15"/>
<path d="M176.49 395.17L178.64 395.17" stroke="#1e1e1e" stroke-width="1.15"/>
<path d="M176.49 396.68L177.73 396.68" stroke="#1e1e1e" stroke-width="1.15"/>
<path d="M176.95 398.05L176.95 398.88" stroke="#1e1e1e" stroke-width="1.15"/>
<path d="M176.95 398.05L190 398.05" stroke="#1e1e1e" stroke-width="1.15"/>
<path d="M176.95 398.88L190 398.88" stroke="#1e1e1e" stroke-width="1.15"/>
<path d="M174.74 395.92L174.74 398.46" stroke="#1e1e1e" stroke-width="1.15"/>
<path d="M174.74 395.92L176.49 395.92" stroke="#1e1e1e" stroke-width="1.15"/>
<path d="M174.74 398.46L176.95 398.46" stroke="#1e1e1e" stroke-width="1.15"/>
<path d="M177.88 399.82L177.88 400.68" stroke="#1e1e1e" stroke-width="1.15"/>
<path d="M177.88 399.82L190 399.82" stroke="#1e1e1e" stroke-width="1.15"/>
<path d="M177.88 400.68L190 400.68" stroke="#1e1e1e" stroke-width="1.15"/>
<path d="M180.42 401.43L180.42 401.97" stroke="#1e1e1e" stroke-width="1.15"/>
<path d="M180.42 401.43L190 401.43" stroke="#1e1e1e" stroke-width="1.15"/>
<path d="M180.42 401.97L190 401.97" stroke="#1e1e1e" stroke-width="1.15"/>
<path d="M176.83 400.25L176.83 401.7" stroke="#1e1e1e" stroke-width="1.15"/>
<path d="M176.83 400.25L177.88 400.25" stroke="#1e1e1e" stroke-width="1.15"/>
<path d="M176.83 401.7L180.42 401.7" stroke="#1e1e1e" stroke-width="1.15"/>
<path d="M179.86 402.54L179.86 403.15" stroke="#1e1e1e" stroke-width="1.15"/>
<path d="M179.86 402.54L190 402.54" stroke="#1e1e1e" stroke-width="1.15"/>
<path d="M179.86 403.15L190 403.15" stroke="#1e1e1e" stroke-width="1.15"/>
<path d="M178.25 402.85L178.25 403.75" stroke="#1e1e1e" stroke-width="1.15"/>
<path d="M178.25 402.85L179.86 402.85" stroke="#1e1e1e" stroke-width="1.15"/>
<path d="M178.25 403.75L190 403.75" stroke="#1e1e1e" stroke-width="1.15"/>
<path d="M183.6 404.59L183.6 405.31" stroke="#1e1e1e" stroke-width="1.15"/>
<path d="M183.6 404.59L190 404.59" stroke="#1e1e1e" stroke-width="1.15"/>
<path d="M183.6 405.31L190 405.31" stroke="#1e1e1e" stroke-width="1.15"/>
<path d="M183.33 405.86L183.33 406.41" stroke="#1e1e1e" stroke-width="1.15"/>
<path d="M183.33 405.86L190 405.86" stroke="#1e1e1e" stroke-width="1.15"/>
<path d="M183.33 406.41L190 406.41" stroke="#1e1e1e" stroke-width="1.15"/>
<path d="M180.98 404.95L180.98 406.13" stroke="#1e1e1e" stroke-width="1.15"/>
<path d="M180.98 404.95L183.6 404.95" stroke="#1e1e1e" stroke-width="1.15"/>
<path d="M180.98 406.13L183.33 406.13" stroke="#1e1e1e" stroke-width="1.15"/>
<path d="M181.53 407.11L181.53 407.77" stroke="#1e1e1e" stroke-width="1.15"/>
<path d="M181.53 407.11L190 407.11" stroke="#1e1e1e" stroke-width="1.15"/>
<path d="M181.53 407.77L190 407.77" stroke="#1e1e1e" stroke-width="1.15"/>
<path d="M178.57 405.54L178.57 407.44" stroke="#1e1e1e" stroke-width="1.15"/>
<path d="M178.57 405.54L180.98 405.54" stroke="#1e1e1e" stroke-width="1.15"/>
<path d="M178.57 407.44L181.53 407.44" stroke="#1e1e1e" stroke-width="1.15"/>
<path d="M177.23 403.3L177.23 406.49" stroke="#1e1e1e" stroke-width="1.15"/>
<path d="M177.23 403.3L178.25 403.3" stroke="#1e1e1e" stroke-width="1.15"/>
<path d="M177.23 406.49L178.57 406.49" stroke="#1e1e1e" stroke-width="1.15"/>
<path d="M171.92 400.98L171.92 404.89" stroke="#1e1e1e" stroke-width="1.15"/>
<path d="M171.92 400.98L176.83 400.98" stroke="#1e1e1e" stroke-width="1.15"/>
<path d="M171.92 404.89L177.23 404.89" stroke="#1e1e1e" stroke-width="1.15"/>
<path d="M168.99 397.19L168.99 402.94" stroke="#2a2a2a" stroke-width="1.15"/>
<path d="M168.99 397.19L174.74 397.19" stroke="#2a2a2a" stroke-width="1.15"/>
<path d="M168.99 402.94L171.92 402.94" stroke="#2a2a2a" stroke-width="1.15"/>
<path d="M165.29 390.97L165.29 400.06" stroke="#2a2a2a" stroke-width="1.15"/>
<path d="M165.29 390.97L171.01 390.97" stroke="#2a2a2a" stroke-width="1.15"/>
<path d="M165.29 400.06L168.99 400.06" stroke="#2a2a2a" stroke-width="1.15"/>
<path d="M164 379.54L164 395.52" stroke="#2a2a2a" stroke-width="1.15"/>
<path d="M164 379.54L167.87 379.54" stroke="#2a2a2a" stroke-width="1.15"/>
<path d="M164 395.52L165.29 395.52" stroke="#2a2a2a" stroke-width="1.15"/>
<path d="M173.71 408.49L173.71 409.25" stroke="#1e1e1e" stroke-width="1.15"/>
<path d="M173.71 408.49L190 408.49" stroke="#1e1e1e" stroke-width="1.15"/>
<path d="M173.71 409.25L190 409.25" stroke="#1e1e1e" stroke-width="1.15"/>
<path d="M173.94 409.89L173.94 410.66" stroke="#1e1e1e" stroke-width="1.15"/>
<path d="M173.94 409.89L190 409.89" stroke="#1e1e1e" stroke-width="1.15"/>
<path d="M173.94 410.66L190 410.66" stroke="#1e1e1e" stroke-width="1.15"/>
<path d="M170.14 408.87L170.14 410.28" stroke="#2a2a2a" stroke-width="1.15"/>
<path d="M170.14 408.87L173.71 408.87" stroke="#2a2a2a" stroke-width="1.15"/>
<path d="M170.14 410.28L173.94 410.28" stroke="#2a2a2a" stroke-width="1.15"/>
<path d="M173.17 411.5L173.17 412.27" stroke="#1e1e1e" stroke-width="1.15"/>
<path d="M173.17 411.5L190 411.5" stroke="#1e1e1e" stroke-width="1.15"/>
<path d="M173.17 412.27L190 412.27" stroke="#1e1e1e" stroke-width="1.15"/>
<path d="M176.05 413.03L176.05 413.65" stroke="#1e1e1e" stroke-width="1.15"/>
<path d="M176.05 413.03L190 413.03" stroke="#1e1e1e" stroke-width="1.15"/>
<path d="M176.05 413.65L190 413.65" stroke="#1e1e1e" stroke-width="1.15"/>
<path d="M172.32 411.88L172.32 413.34" stroke="#1e1e1e" stroke-width="1.15"/>
<path d="M172.32 411.88L173.17 411.88" stroke="#1e1e1e" stroke-width="1.15"/>
<path d="M172.32 413.34L176.05 413.34" stroke="#1e1e1e" stroke-width="1.15"/>
<path d="M175.28 414.26L175.28 414.9" stroke="#1e1e1e" stroke-width="1.15"/>
<path d="M175.28 414.26L190 414.26" stroke="#1e1e1e" stroke-width="1.15"/>
<path d="M175.28 414.9L190 414.9" stroke="#1e1e1e" stroke-width="1.15"/>
<path d="M171.17 412.61L171.17 414.58" stroke="#1e1e1e" stroke-width="1.15"/>
<path d="M171.17 412.61L172.32 412.61" stroke="#1e1e1e" stroke-width="1.15"/>
<path d="M171.17 414.58L175.28 414.58" stroke="#1e1e1e" stroke-width="1.15"/>
<path d="M173.95 415.41L173.95 416.05" stroke="#1e1e1e" stroke-width="1.15"/>
<path d="M173.95 415.41L190 415.41" stroke="#1e1e1e" stroke-width="1.15"/>
<path d="M173.95 416.05L190 416.05" stroke="#1e1e1e" stroke-width="1.15"/>
<path d="M176.66 416.72L176.66 417.24" stroke="#1e1e1e" stroke-width="1.15"/>
<path d="M176.66 416.72L190 416.72" stroke="#1e1e1e" stroke-width="1.15"/>
<path d="M176.66 417.24L190 417.24" stroke="#1e1e1e" stroke-width="1.15"/>
<path d="M171.44 415.73L171.44 416.98" stroke="#1e1e1e" stroke-width="1.15"/>
<path d="M171.44 415.73L173.95 415.73" stroke="#1e1e1e" stroke-width="1.15"/>
<path d="M171.44 416.98L176.66 416.98" stroke="#1e1e1e" stroke-width="1.15"/>
<path d="M167.98 413.6L167.98 416.35" stroke="#2a2a2a" stroke-width="1.15"/>
<path d="M167.98 413.6L171.17 413.6" stroke="#2a2a2a" stroke-width="1.15"/>
<path d="M167.98 416.35L171.44 416.35" stroke="#2a2a2a" stroke-width="1.15"/>
<path d="M166.05 409.57L166.05 414.98" stroke="#2a2a2a" stroke-width="1.15"/>
<path d="M166.05 409.57L170.14 409.57" stroke="#2a2a2a" stroke-width="1.15"/>
<path d="M166.05 414.98L167.98 414.98" stroke="#2a2a2a" stroke-width="1.15"/>
<path d="M178.93 417.94L178.93 418.65" stroke="#1e1e1e" stroke-width="1.15"/>
<path d="M178.93 417.94L190 417.94" stroke="#1e1e1e" stroke-width="1.15"/>
<path d="M178.93 418.65L190 418.65" stroke="#1e1e1e" stroke-width="1.15"/>
<path d="M179.75 419.18L179.75 419.89" stroke="#1e1e1e" stroke-width="1.15"/>
<path d="M179.75 419.18L190 419.18" stroke="#1e1e1e" stroke-width="1.15"/>
<path d="M179.75 419.89L190 419.89" stroke="#1e1e1e" stroke-width="1.15"/>
<path d="M177.47 418.3L177.47 419.54" stroke="#1e1e1e" stroke-width="1.15"/>
<path d="M177.47 418.3L178.93 418.3" stroke="#1e1e1e" stroke-width="1.15"/>
<path d="M177.47 419.54L179.75 419.54" stroke="#1e1e1e" stroke-width="1.15"/>
<path d="M181.89 421.34L181.89 422.07" stroke="#1e1e1e" stroke-width="1.15"/>
<path d="M181.89 421.34L190 421.34" stroke="#1e1e1e" stroke-width="1.15"/>
<path d="M181.89 422.07L190 422.07" stroke="#1e1e1e" stroke-width="1.15"/>
<path d="M178.6 420.63L178.6 421.71" stroke="#1e1e1e" stroke-width="1.15"/>
<path d="M178.6 420.63L190 420.63" stroke="#1e1e1e" stroke-width="1.15"/>
<path d="M178.6 421.71L181.89 421.71" stroke="#1e1e1e" stroke-width="1.15"/>
<path d="M182.43 423.33L182.43 423.98" stroke="#1e1e1e" stroke-width="1.15"/>
<path d="M182.43 423.33L190 423.33" stroke="#1e1e1e" stroke-width="1.15"/>
<path d="M182.43 423.98L190 423.98" stroke="#1e1e1e" stroke-width="1.15"/>
<path d="M179.21 422.7L179.21 423.65" stroke="#1e1e1e" stroke-width="1.15"/>
<path d="M179.21 422.7L190 422.7" stroke="#1e1e1e" stroke-width="1.15"/>
<path d="M179.21 423.65L182.43 423.65" stroke="#1e1e1e" stroke-width="1.15"/>
<path d="M175.43 421.17L175.43 423.18" stroke="#1e1e1e" stroke-width="1.15"/>
<path d="M175.43 421.17L178.6 421.17" stroke="#1e1e1e" stroke-width="1.15"/>
<path d="M175.43 423.18L179.21 423.18" stroke="#1e1e1e" stroke-width="1.15"/>
<path d="M172.8 418.92L172.8 422.17" stroke="#2a2a2a" stroke-width="1.15"/>
<path d="M172.8 418.92L177.47 418.92" stroke="#2a2a2a" stroke-width="1.15"/>
<path d="M172.8 422.17L175.43 422.17" stroke="#2a2a2a" stroke-width="1.15"/>
<path d="M181.54 424.66L181.54 425.47" stroke="#1e1e1e" stroke-width="1.15"/>
<path d="M181.54 424.66L190 424.66" stroke="#1e1e1e" stroke-width="1.15"/>
<path d="M181.54 425.47L190 425.47" stroke="#1e1e1e" stroke-width="1.15"/>
<path d="M182.74 426.11L182.74 426.72" stroke="#1e1e1e" stroke-width="1.15"/>
<path d="M182.74 426.11L190 426.11" stroke="#1e1e1e" stroke-width="1.15"/>
<path d="M182.74 426.72L190 426.72" stroke="#1e1e1e" stroke-width="1.15"/>
<path d="M180.61 425.07L180.61 426.42" stroke="#1e1e1e" stroke-width="1.15"/>
<path d="M180.61 425.07L181.54 425.07" stroke="#1e1e1e" stroke-width="1.15"/>
<path d="M180.61 426.42L182.74 426.42" stroke="#1e1e1e" stroke-width="1.15"/>
<path d="M182.44 427.58L182.44 428.35" stroke="#1e1e1e" stroke-width="1.15"/>
<path d="M182.44 427.58L190 427.58" stroke="#1e1e1e" stroke-width="1.15"/>
<path d="M182.44 428.35L190 428.35" stroke="#1e1e1e" stroke-width="1.15"/>
<path d="M180.26 427.96L180.26 429.02" stroke="#1e1e1e" stroke-width="1.15"/>
<path d="M180.26 427.96L182.44 427.96" stroke="#1e1e1e" stroke-width="1.15"/>
<path d="M180.26 429.02L190 429.02" stroke="#1e1e1e" stroke-width="1.15"/>
<path d="M177.72 425.74L177.72 428.49" stroke="#1e1e1e" stroke-width="1.15"/>
<path d="M177.72 425.74L180.61 425.74" stroke="#1e1e1e" stroke-width="1.15"/>
<path d="M177.72 428.49L180.26 428.49" stroke="#1e1e1e" stroke-width="1.15"/>
<path d="M179.27 429.63L179.27 430.15" stroke="#1e1e1e" stroke-width="1.15"/>
<path d="M179.27 429.63L190 429.63" stroke="#1e1e1e" stroke-width="1.15"/>
<path d="M179.27 430.15L190 430.15" stroke="#1e1e1e" stroke-width="1.15"/>
<path d="M180.25 430.61L180.25 431.14" stroke="#1e1e1e" stroke-width="1.15"/>
<path d="M180.25 430.61L190 430.61" stroke="#1e1e1e" stroke-width="1.15"/>
<path d="M180.25 431.14L190 431.14" stroke="#1e1e1e" stroke-width="1.15"/>
<path d="M179.68 430.88L179.68 431.75" stroke="#1e1e1e" stroke-width="1.15"/>
<path d="M179.68 430.88L180.25 430.88" stroke="#1e1e1e" stroke-width="1.15"/>
<path d="M179.68 431.75L190 431.75" stroke="#1e1e1e" stroke-width="1.15"/>
<path d="M177.74 429.89L177.74 431.31" stroke="#1e1e1e" stroke-width="1.15"/>
<path d="M177.74 429.89L179.27 429.89" stroke="#1e1e1e" stroke-width="1.15"/>
<path d="M177.74 431.31L179.68 431.31" stroke="#1e1e1e" stroke-width="1.15"/>
<path d="M174.43 427.12L174.43 430.6" stroke="#2a2a2a" stroke-width="1.15"/>
<path d="M174.43 427.12L177.72 427.12" stroke="#2a2a2a" stroke-width="1.15"/>
<path d="M174.43 430.6L177.74 430.6" stroke="#2a2a2a" stroke-width="1.15"/>
<path d="M168.63 420.55L168.63 428.86" stroke="#2a2a2a" stroke-width="1.15"/>
<path d="M168.63 420.55L172.8 420.55" stroke="#2a2a2a" stroke-width="1.15"/>
<path d="M168.63 428.86L174.43 428.86" stroke="#2a2a2a" stroke-width="1.15"/>
<path d="M164 412.27L164 424.7" stroke="#2a2a2a" stroke-width="1.15"/>
<path d="M164 412.27L166.05 412.27" stroke="#2a2a2a" stroke-width="1.15"/>
<path d="M164 424.7L168.63 424.7" stroke="#2a2a2a" stroke-width="1.15"/>
<path d="M180.07 432.23L180.07 432.81" stroke="#1e1e1e" stroke-width="1.15"/>
<path d="M180.07 432.23L190 432.23" stroke="#1e1e1e" stroke-width="1.15"/>
<path d="M180.07 432.81L190 432.81" stroke="#1e1e1e" stroke-width="1.15"/>
<path d="M181.69 433.37L181.69 434.05" stroke="#1e1e1e" stroke-width="1.15"/>
<path d="M181.69 433.37L190 433.37" stroke="#1e1e1e" stroke-width="1.15"/>
<path d="M181.69 434.05L190 434.05" stroke="#1e1e1e" stroke-width="1.15"/>
<path d="M179.33 432.52L179.33 433.71" stroke="#1e1e1e" stroke-width="1.15"/>
<path d="M179.33 432.52L180.07 432.52" stroke="#1e1e1e" stroke-width="1.15"/>
<path d="M179.33 433.71L181.69 433.71" stroke="#1e1e1e" stroke-width="1.15"/>
<path d="M177.13 434.93L177.13 435.54" stroke="#1e1e1e" stroke-width="1.15"/>
<path d="M177.13 434.93L190 434.93" stroke="#1e1e1e" stroke-width="1.15"/>
<path d="M177.13 435.54L190 435.54" stroke="#1e1e1e" stroke-width="1.15"/>
<path d="M174.44 433.11L174.44 435.23" stroke="#2a2a2a" stroke-width="1.15"/>
<path d="M174.44 433.11L179.33 433.11" stroke="#2a2a2a" stroke-width="1.15"/>
<path d="M174.44 435.23L177.13 435.23" stroke="#2a2a2a" stroke-width="1.15"/>
<path d="M179.54 435.92L179.54 436.51" stroke="#1e1e1e" stroke-width="1.15"/>
<path d="M179.54 435.92L190 435.92" stroke="#1e1e1e" stroke-width="1.15"/>
<path d="M179.54 436.51L190 436.51" stroke="#1e1e1e" stroke-width="1.15"/>
<path d="M180.49 437.23L180.49 437.8" stroke="#1e1e1e" stroke-width="1.15"/>
<path d="M180.49 437.23L190 437.23" stroke="#1e1e1e" stroke-width="1.15"/>
<path d="M180.49 437.8L190 437.8" stroke="#1e1e1e" stroke-width="1.15"/>
<path d="M177.42 437.51L177.42 438.38" stroke="#1e1e1e" stroke-width="1.15"/>
<path d="M177.42 437.51L180.49 437.51" stroke="#1e1e1e" stroke-width="1.15"/>
<path d="M177.42 438.38L190 438.38" stroke="#1e1e1e" stroke-width="1.15"/>
<path d="M176.14 436.21L176.14 437.95" stroke="#1e1e1e" stroke-width="1.15"/>
<path d="M176.14 436.21L179.54 436.21" stroke="#1e1e1e" stroke-width="1.15"/>
<path d="M176.14 437.95L177.42 437.95" stroke="#1e1e1e" stroke-width="1.15"/>
<path d="M183.15 438.96L183.15 439.57" stroke="#1e1e1e" stroke-width="1.15"/>
<path d="M183.15 438.96L190 438.96" stroke="#1e1e1e" stroke-width="1.15"/>
<path d="M183.15 439.57L190 439.57" stroke="#1e1e1e" stroke-width="1.15"/>
<path d="M180.64 439.26L180.64 440.39" stroke="#1e1e1e" stroke-width="1.15"/>
<path d="M180.64 439.26L183.15 439.26" stroke="#1e1e1e" stroke-width="1.15"/>
<path d="M180.64 440.39L190 440.39" stroke="#1e1e1e" stroke-width="1.15"/>
<path d="M180.65 441.36L180.65 442.13" stroke="#1e1e1e" stroke-width="1.15"/>
<path d="M180.65 441.36L190 441.36" stroke="#1e1e1e" stroke-width="1.15"/>
<path d="M180.65 442.13L190 442.13" stroke="#1e1e1e" stroke-width="1.15"/>
<path d="M180.21 439.83L180.21 441.74" stroke="#1e1e1e" stroke-width="1.15"/>
<path d="M180.21 439.83L180.64 439.83" stroke="#1e1e1e" stroke-width="1.15"/>
<path d="M180.21 441.74L180.65 441.74" stroke="#1e1e1e" stroke-width="1.15"/>
<path d="M182.4 442.8L182.4 443.7" stroke="#1e1e1e" stroke-width="1.15"/>
<path d="M182.4 442.8L190 442.8" stroke="#1e1e1e" stroke-width="1.15"/>
<path d="M182.4 443.7L190 443.7" stroke="#1e1e1e" stroke-width="1.15"/>
<path d="M178.99 440.79L178.99 443.25" stroke="#1e1e1e" stroke-width="1.15"/>
<path d="M178.99 440.79L180.21 440.79" stroke="#1e1e1e" stroke-width="1.15"/>
<path d="M178.99 443.25L182.4 443.25" stroke="#1e1e1e" stroke-width="1.15"/>
<path d="M175.49 437.08L175.49 442.02" stroke="#2a2a2a" stroke-width="1.15"/>
<path d="M175.49 437.08L176.14 437.08" stroke="#2a2a2a" stroke-width="1.15"/>
<path d="M175.49 442.02L178.99 442.02" stroke="#2a2a2a" stroke-width="1.15"/>
<path d="M171.73 434.17L171.73 439.55" stroke="#2a2a2a" stroke-width="1.15"/>
<path d="M171.73 434.17L174.44 434.17" stroke="#2a2a2a" stroke-width="1.15"/>
<path d="M171.73 439.55L175.49 439.55" stroke="#2a2a2a" stroke-width="1.15"/>
<path d="M176.74 444.63L176.74 445.27" stroke="#1e1e1e" stroke-width="1.15"/>
<path d="M176.74 444.63L190 444.63" stroke="#1e1e1e" stroke-width="1.15"/>
<path d="M176.74 445.27L190 445.27" stroke="#1e1e1e" stroke-width="1.15"/>
<path d="M178.49 445.78L178.49 446.51" stroke="#1e1e1e" stroke-width="1.15"/>
<path d="M178.49 445.78L190 445.78" stroke="#1e1e1e" stroke-width="1.15"/>
<path d="M178.49 446.51L190 446.51" stroke="#1e1e1e" stroke-width="1.15"/>
<path d="M174.44 444.95L174.44 446.15" stroke="#1e1e1e" stroke-width="1.15"/>
<path d="M174.44 444.95L176.74 444.95" stroke="#1e1e1e" stroke-width="1.15"/>
<path d="M174.44 446.15L178.49 446.15" stroke="#1e1e1e" stroke-width="1.15"/>
<path d="M182.18 447.23L182.18 447.77" stroke="#1e1e1e" stroke-width="1.15"/>
<path d="M182.18 447.23L190 447.23" stroke="#1e1e1e" stroke-width="1.15"/>
<path d="M182.18 447.77L190 447.77" stroke="#1e1e1e" stroke-width="1.15"/>
<path d="M178.61 447.5L178.61 448.47" stroke="#1e1e1e" stroke-width="1.15"/>
<path d="M178.61 447.5L182.18 447.5" stroke="#1e1e1e" stroke-width="1.15"/>
<path d="M178.61 448.47L190 448.47" stroke="#1e1e1e" stroke-width="1.15"/>
<path d="M176.44 449.4L176.44 450.11" stroke="#1e1e1e" stroke-width="1.15"/>
<path d="M176.44 449.4L190 449.4" stroke="#1e1e1e" stroke-width="1.15"/>
<path d="M176.44 450.11L190 450.11" stroke="#1e1e1e" stroke-width="1.15"/>
<path d="M174.36 447.99L174.36 449.76" stroke="#1e1e1e" stroke-width="1.15"/>
<path d="M174.36 447.99L178.61 447.99" stroke="#1e1e1e" stroke-width="1.15"/>
<path d="M174.36 449.76L176.44 449.76" stroke="#1e1e1e" stroke-width="1.15"/>
<path d="M170.04 445.55L170.04 448.87" stroke="#2a2a2a" stroke-width="1.15"/>
<path d="M170.04 445.55L174.44 445.55" stroke="#2a2a2a" stroke-width="1.15"/>
<path d="M170.04 448.87L174.36 448.87" stroke="#2a2a2a" stroke-width="1.15"/>
<path d="M179.12 450.6L179.12 451.12" stroke="#1e1e1e" stroke-width="1.15"/>
<path d="M179.12 450.6L190 450.6" stroke="#1e1e1e" stroke-width="1.15"/>
<path d="M179.12 451.12L190 451.12" stroke="#1e1e1e" stroke-width="1.15"/>
<path d="M179.95 451.88L179.95 452.62" stroke="#1e1e1e" stroke-width="1.15"/>
<path d="M179.95 451.88L190 451.88" stroke="#1e1e1e" stroke-width="1.15"/>
<path d="M179.95 452.62L190 452.62" stroke="#1e1e1e" stroke-width="1.15"/>
<path d="M178.66 450.86L178.66 452.25" stroke="#1e1e1e" stroke-width="1.15"/>
<path d="M178.66 450.86L179.12 450.86" stroke="#1e1e1e" stroke-width="1.15"/>
<path d="M178.66 452.25L179.95 452.25" stroke="#1e1e1e" stroke-width="1.15"/>
<path d="M181.58 453.14L181.58 453.81" stroke="#1e1e1e" stroke-width="1.15"/>
<path d="M181.58 453.14L190 453.14" stroke="#1e1e1e" stroke-width="1.15"/>
<path d="M181.58 453.81L190 453.81" stroke="#1e1e1e" stroke-width="1.15"/>
<path d="M178.26 453.47L178.26 454.6" stroke="#1e1e1e" stroke-width="1.15"/>
<path d="M178.26 453.47L181.58 453.47" stroke="#1e1e1e" stroke-width="1.15"/>
<path d="M178.26 454.6L190 454.6" stroke="#1e1e1e" stroke-width="1.15"/>
<path d="M174.01 451.56L174.01 454.04" stroke="#2a2a2a" stroke-width="1.15"/>
<path d="M174.01 451.56L178.66 451.56" stroke="#2a2a2a" stroke-width="1.15"/>
<path d="M174.01 454.04L178.26 454.04" stroke="#2a2a2a" stroke-width="1.15"/>
<path d="M168.29 447.21L168.29 452.8" stroke="#2a2a2a" stroke-width="1.15"/>
<path d="M168.29 447.21L170.04 447.21" stroke="#2a2a2a" stroke-width="1.15"/>
<path d="M168.29 452.8L174.01 452.8" stroke="#2a2a2a" stroke-width="1.15"/>
<path d="M164 436.86L164 450" stroke="#2a2a2a" stroke-width="1.15"/>
<path d="M164 436.86L171.73 436.86" stroke="#2a2a2a" stroke-width="1.15"/>
<path d="M164 450L168.29 450" stroke="#2a2a2a" stroke-width="1.15"/>
<path d="M182.12 455.38L182.12 456" stroke="#1e1e1e" stroke-width="1.15"/>
<path d="M182.12 455.38L190 455.38" stroke="#1e1e1e" stroke-width="1.15"/>
<path d="M182.12 456L190 456" stroke="#1e1e1e" stroke-width="1.15"/>
<path d="M182.24 456.48L182.24 457.14" stroke="#1e1e1e" stroke-width="1.15"/>
<path d="M182.24 456.48L190 456.48" stroke="#1e1e1e" stroke-width="1.15"/>
<path d="M182.24 457.14L190 457.14" stroke="#1e1e1e" stroke-width="1.15"/>
<path d="M181.27 455.69L181.27 456.81" stroke="#1e1e1e" stroke-width="1.15"/>
<path d="M181.27 455.69L182.12 455.69" stroke="#1e1e1e" stroke-width="1.15"/>
<path d="M181.27 456.81L182.24 456.81" stroke="#1e1e1e" stroke-width="1.15"/>
<path d="M184.47 457.86L184.47 458.37" stroke="#1e1e1e" stroke-width="1.15"/>
<path d="M184.47 457.86L190 457.86" stroke="#1e1e1e" stroke-width="1.15"/>
<path d="M184.47 458.37L190 458.37" stroke="#1e1e1e" stroke-width="1.15"/>
<path d="M183.21 458.11L183.21 458.87" stroke="#1e1e1e" stroke-width="1.15"/>
<path d="M183.21 458.11L184.47 458.11" stroke="#1e1e1e" stroke-width="1.15"/>
<path d="M183.21 458.87L190 458.87" stroke="#1e1e1e" stroke-width="1.15"/>
<path d="M184.82 460.44L184.82 461.2" stroke="#1e1e1e" stroke-width="1.15"/>
<path d="M184.82 460.44L190 460.44" stroke="#1e1e1e" stroke-width="1.15"/>
<path d="M184.82 461.2L190 461.2" stroke="#1e1e1e" stroke-width="1.15"/>
<path d="M183.97 459.59L183.97 460.82" stroke="#1e1e1e" stroke-width="1.15"/>
<path d="M183.97 459.59L190 459.59" stroke="#1e1e1e" stroke-width="1.15"/>
<path d="M183.97 460.82L184.82 460.82" stroke="#1e1e1e" stroke-width="1.15"/>
<path d="M181.49 458.49L181.49 460.21" stroke="#1e1e1e" stroke-width="1.15"/>
<path d="M181.49 458.49L183.21 458.49" stroke="#1e1e1e" stroke-width="1.15"/>
<path d="M181.49 460.21L183.97 460.21" stroke="#1e1e1e" stroke-width="1.15"/>
<path d="M178.95 456.25L178.95 459.35" stroke="#1e1e1e" stroke-width="1.15"/>
<path d="M178.95 456.25L181.27 456.25" stroke="#1e1e1e" stroke-width="1.15"/>
<path d="M178.95 459.35L181.49 459.35" stroke="#1e1e1e" stroke-width="1.15"/>
<path d="M181.68 461.79L181.68 462.32" stroke="#1e1e1e" stroke-width="1.15"/>
<path d="M181.68 461.79L190 461.79" stroke="#1e1e1e" stroke-width="1.15"/>
<path d="M181.68 462.32L190 462.32" stroke="#1e1e1e" stroke-width="1.15"/>
<path d="M180.92 462.06L180.92 462.95" stroke="#1e1e1e" stroke-width="1.15"/>
<path d="M180.92 462.06L181.68 462.06" stroke="#1e1e1e" stroke-width="1.15"/>
<path d="M180.92 462.95L190 462.95" stroke="#1e1e1e" stroke-width="1.15"/>
<path d="M184.52 464.31L184.52 465.04" stroke="#1e1e1e" stroke-width="1.15"/>
<path d="M184.52 464.31L190 464.31" stroke="#1e1e1e" stroke-width="1.15"/>
<path d="M184.52 465.04L190 465.04" stroke="#1e1e1e" stroke-width="1.15"/>
<path d="M182.36 463.62L182.36 464.67" stroke="#1e1e1e" stroke-width="1.15"/>
<path d="M182.36 463.62L190 463.62" stroke="#1e1e1e" stroke-width="1.15"/>
<path d="M182.36 464.67L184.52 464.67" stroke="#1e1e1e" stroke-width="1.15"/>
<path d="M180.24 462.51L180.24 464.15" stroke="#1e1e1e" stroke-width="1.15"/>
<path d="M180.24 462.51L180.92 462.51" stroke="#1e1e1e" stroke-width="1.15"/>
<path d="M180.24 464.15L182.36 464.15" stroke="#1e1e1e" stroke-width="1.15"/>
<path d="M185.91 465.59L185.91 466.1" stroke="#1e1e1e" stroke-width="1.15"/>
<path d="M185.91 465.59L190 465.59" stroke="#1e1e1e" stroke-width="1.15"/>
<path d="M185.91 466.1L190 466.1" stroke="#1e1e1e" stroke-width="1.15"/>
<path d="M186.11 466.82L186.11 467.58" stroke="#1e1e1e" stroke-width="1.15"/>
<path d="M186.11 466.82L190 466.82" stroke="#1e1e1e" stroke-width="1.15"/>
<path d="M186.11 467.58L190 467.58" stroke="#1e1e1e" stroke-width="1.15"/>
<path d="M185.69 465.85L185.69 467.2" stroke="#1e1e1e" stroke-width="1.15"/>
<path d="M185.69 465.85L185.91 465.85" stroke="#1e1e1e" stroke-width="1.15"/>
<path d="M185.69 467.2L186.11 467.2" stroke="#1e1e1e" stroke-width="1.15"/>
<path d="M187.13 468.25L187.13 468.81" stroke="#1e1e1e" stroke-width="1.15"/>
<path d="M187.13 468.25L190 468.25" stroke="#1e1e1e" stroke-width="1.15"/>
<path d="M187.13 468.81L190 468.81" stroke="#1e1e1e" stroke-width="1.15"/>
<path d="M185.93 468.53L185.93 469.33" stroke="#1e1e1e" stroke-width="1.15"/>
<path d="M185.93 468.53L187.13 468.53" stroke="#1e1e1e" stroke-width="1.15"/>
<path d="M185.93 469.33L190 469.33" stroke="#1e1e1e" stroke-width="1.15"/>
<path d="M184.1 466.53L184.1 468.93" stroke="#1e1e1e" stroke-width="1.15"/>
<path d="M184.1 466.53L185.69 466.53" stroke="#1e1e1e" stroke-width="1.15"/>
<path d="M184.1 468.93L185.93 468.93" stroke="#1e1e1e" stroke-width="1.15"/>
<path d="M187 469.82L187 470.33" stroke="#1e1e1e" stroke-width="1.15"/>
<path d="M187 469.82L190 469.82" stroke="#1e1e1e" stroke-width="1.15"/>
<path d="M187 470.33L190 470.33" stroke="#1e1e1e" stroke-width="1.15"/>
<path d="M185.67 470.08L185.67 471.01" stroke="#1e1e1e" stroke-width="1.15"/>
<path d="M185.67 470.08L187 470.08" stroke="#1e1e1e" stroke-width="1.15"/>
<path d="M185.67 471.01L190 471.01" stroke="#1e1e1e" stroke-width="1.15"/>
<path d="M185.13 470.54L185.13 471.83" stroke="#1e1e1e" stroke-width="1.15"/>
<path d="M185.13 470.54L185.67 470.54" stroke="#1e1e1e" stroke-width="1.15"/>
<path d="M185.13 471.83L190 471.83" stroke="#1e1e1e" stroke-width="1.15"/>
<path d="M182.99 467.73L182.99 471.19" stroke="#1e1e1e" stroke-width="1.15"/>
<path d="M182.99 467.73L184.1 467.73" stroke="#1e1e1e" stroke-width="1.15"/>
<path d="M182.99 471.19L185.13 471.19" stroke="#1e1e1e" stroke-width="1.15"/>
<path d="M179.7 463.33L179.7 469.46" stroke="#1e1e1e" stroke-width="1.15"/>
<path d="M179.7 463.33L180.24 463.33" stroke="#1e1e1e" stroke-width="1.15"/>
<path d="M179.7 469.46L182.99 469.46" stroke="#1e1e1e" stroke-width="1.15"/>
<path d="M175.26 457.8L175.26 466.39" stroke="#2a2a2a" stroke-width="1.15"/>
<path d="M175.26 457.8L178.95 457.8" stroke="#2a2a2a" stroke-width="1.15"/>
<path d="M175.26 466.39L179.7 466.39" stroke="#2a2a2a" stroke-width="1.15"/>
<path d="M185.73 472.69L185.73 473.47" stroke="#1e1e1e" stroke-width="1.15"/>
<path d="M185.73 472.69L190 472.69" stroke="#1e1e1e" stroke-width="1.15"/>
<path d="M185.73 473.47L190 473.47" stroke="#1e1e1e" stroke-width="1.15"/>
<path d="M186.71 474.16L186.71 474.76" stroke="#1e1e1e" stroke-width="1.15"/>
<path d="M186.71 474.16L190 474.16" stroke="#1e1e1e" stroke-width="1.15"/>
<path d="M186.71 474.76L190 474.76" stroke="#1e1e1e" stroke-width="1.15"/>
<path d="M187.15 475.28L187.15 475.93" stroke="#1e1e1e" stroke-width="1.15"/>
<path d="M187.15 475.28L190 475.28" stroke="#1e1e1e" stroke-width="1.15"/>
<path d="M187.15 475.93L190 475.93" stroke="#1e1e1e" stroke-width="1.15"/>
<path d="M186.93 475.61L186.93 476.75" stroke="#1e1e1e" stroke-width="1.15"/>
<path d="M186.93 475.61L187.15 475.61" stroke="#1e1e1e" stroke-width="1.15"/>
<path d="M186.93 476.75L190 476.75" stroke="#1e1e1e" stroke-width="1.15"/>
<path d="M185.6 474.46L185.6 476.18" stroke="#1e1e1e" stroke-width="1.15"/>
<path d="M185.6 474.46L186.71 474.46" stroke="#1e1e1e" stroke-width="1.15"/>
<path d="M185.6 476.18L186.93 476.18" stroke="#1e1e1e" stroke-width="1.15"/>
<path d="M184.22 473.08L184.22 475.32" stroke="#1e1e1e" stroke-width="1.15"/>
<path d="M184.22 473.08L185.73 473.08" stroke="#1e1e1e" stroke-width="1.15"/>
<path d="M184.22 475.32L185.6 475.32" stroke="#1e1e1e" stroke-width="1.15"/>
<path d="M184.54 478.56L184.54 479.36" stroke="#1e1e1e" stroke-width="1.15"/>
<path d="M184.54 478.56L190 478.56" stroke="#1e1e1e" stroke-width="1.15"/>
<path d="M184.54 479.36L190 479.36" stroke="#1e1e1e" stroke-width="1.15"/>
<path d="M184.07 477.64L184.07 478.96" stroke="#1e1e1e" stroke-width="1.15"/>
<path d="M184.07 477.64L190 477.64" stroke="#1e1e1e" stroke-width="1.15"/>
<path d="M184.07 478.96L184.54 478.96" stroke="#1e1e1e" stroke-width="1.15"/>
<path d="M181.82 474.2L181.82 478.3" stroke="#1e1e1e" stroke-width="1.15"/>
<path d="M181.82 474.2L184.22 474.2" stroke="#1e1e1e" stroke-width="1.15"/>
<path d="M181.82 478.3L184.07 478.3" stroke="#1e1e1e" stroke-width="1.15"/>
<path d="M186.49 480.51L186.49 481.02" stroke="#1e1e1e" stroke-width="1.15"/>
<path d="M186.49 480.51L190 480.51" stroke="#1e1e1e" stroke-width="1.15"/>
<path d="M186.49 481.02L190 481.02" stroke="#1e1e1e" stroke-width="1.15"/>
<path d="M185.16 479.96L185.16 480.76" stroke="#1e1e1e" stroke-width="1.15"/>
<path d="M185.16 479.96L190 479.96" stroke="#1e1e1e" stroke-width="1.15"/>
<path d="M185.16 480.76L186.49 480.76" stroke="#1e1e1e" stroke-width="1.15"/>
<path d="M184.74 480.36L184.74 481.66" stroke="#1e1e1e" stroke-width="1.15"/>
<path d="M184.74 480.36L185.16 480.36" stroke="#1e1e1e" stroke-width="1.15"/>
<path d="M184.74 481.66L190 481.66" stroke="#1e1e1e" stroke-width="1.15"/>
<path d="M185.79 483.35L185.79 484.11" stroke="#1e1e1e" stroke-width="1.15"/>
<path d="M185.79 483.35L190 483.35" stroke="#1e1e1e" stroke-width="1.15"/>
<path d="M185.79 484.11L190 484.11" stroke="#1e1e1e" stroke-width="1.15"/>
<path d="M185.54 482.49L185.54 483.73" stroke="#1e1e1e" stroke-width="1.15"/>
<path d="M185.54 482.49L190 482.49" stroke="#1e1e1e" stroke-width="1.15"/>
<path d="M185.54 483.73L185.79 483.73" stroke="#1e1e1e" stroke-width="1.15"/>
<path d="M185.76 484.87L185.76 485.56" stroke="#1e1e1e" stroke-width="1.15"/>
<path d="M185.76 484.87L190 484.87" stroke="#1e1e1e" stroke-width="1.15"/>
<path d="M185.76 485.56L190 485.56" stroke="#1e1e1e" stroke-width="1.15"/>
<path d="M184.6 483.11L184.6 485.22" stroke="#1e1e1e" stroke-width="1.15"/>
<path d="M184.6 483.11L185.54 483.11" stroke="#1e1e1e" stroke-width="1.15"/>
<path d="M184.6 485.22L185.76 485.22" stroke="#1e1e1e" stroke-width="1.15"/>
<path d="M182.47 481.01L182.47 484.16" stroke="#1e1e1e" stroke-width="1.15"/>
<path d="M182.47 481.01L184.74 481.01" stroke="#1e1e1e" stroke-width="1.15"/>
<path d="M182.47 484.16L184.6 484.16" stroke="#1e1e1e" stroke-width="1.15"/>
<path d="M185.52 486.14L185.52 486.93" stroke="#1e1e1e" stroke-width="1.15"/>
<path d="M185.52 486.14L190 486.14" stroke="#1e1e1e" stroke-width="1.15"/>
<path d="M185.52 486.93L190 486.93" stroke="#1e1e1e" stroke-width="1.15"/>
<path d="M186.19 487.79L186.19 488.5" stroke="#1e1e1e" stroke-width="1.15"/>
<path d="M186.19 487.79L190 487.79" stroke="#1e1e1e" stroke-width="1.15"/>
<path d="M186.19 488.5L190 488.5" stroke="#1e1e1e" stroke-width="1.15"/>
<path d="M185.96 488.15L185.96 489.13" stroke="#1e1e1e" stroke-width="1.15"/>
<path d="M185.96 488.15L186.19 488.15" stroke="#1e1e1e" stroke-width="1.15"/>
<path d="M185.96 489.13L190 489.13" stroke="#1e1e1e" stroke-width="1.15"/>
<path d="M185.09 486.54L185.09 488.64" stroke="#1e1e1e" stroke-width="1.15"/>
<path d="M185.09 486.54L185.52 486.54" stroke="#1e1e1e" stroke-width="1.15"/>
<path d="M185.09 488.64L185.96 488.64" stroke="#1e1e1e" stroke-width="1.15"/>
<path d="M187.56 489.84L187.56 490.44" stroke="#1e1e1e" stroke-width="1.15"/>
<path d="M187.56 489.84L190 489.84" stroke="#1e1e1e" stroke-width="1.15"/>
<path d="M187.56 490.44L190 490.44" stroke="#1e1e1e" stroke-width="1.15"/>
<path d="M187.57 491.12L187.57 491.85" stroke="#1e1e1e" stroke-width="1.15"/>
<path d="M187.57 491.12L190 491.12" stroke="#1e1e1e" stroke-width="1.15"/>
<path d="M187.57 491.85L190 491.85" stroke="#1e1e1e" stroke-width="1.15"/>
<path d="M186.43 490.14L186.43 491.48" stroke="#1e1e1e" stroke-width="1.15"/>
<path d="M186.43 490.14L187.56 490.14" stroke="#1e1e1e" stroke-width="1.15"/>
<path d="M186.43 491.48L187.57 491.48" stroke="#1e1e1e" stroke-width="1.15"/>
<path d="M187.51 492.59L187.51 493.38" stroke="#1e1e1e" stroke-width="1.15"/>
<path d="M187.51 492.59L190 492.59" stroke="#1e1e1e" stroke-width="1.15"/>
<path d="M187.51 493.38L190 493.38" stroke="#1e1e1e" stroke-width="1.15"/>
<path d="M187.18 494.61L187.18 495.38" stroke="#1e1e1e" stroke-width="1.15"/>
<path d="M187.18 494.61L190 494.61" stroke="#1e1e1e" stroke-width="1.15"/>
<path d="M187.18 495.38L190 495.38" stroke="#1e1e1e" stroke-width="1.15"/>
<path d="M186.53 494L186.53 495" stroke="#1e1e1e" stroke-width="1.15"/>
<path d="M186.53 494L190 494" stroke="#1e1e1e" stroke-width="1.15"/>
<path d="M186.53 495L187.18 495" stroke="#1e1e1e" stroke-width="1.15"/>
<path d="M186.36 492.98L186.36 494.5" stroke="#1e1e1e" stroke-width="1.15"/>
<path d="M186.36 492.98L187.51 492.98" stroke="#1e1e1e" stroke-width="1.15"/>
<path d="M186.36 494.5L186.53 494.5" stroke="#1e1e1e" stroke-width="1.15"/>
<path d="M185.98 490.81L185.98 493.74" stroke="#1e1e1e" stroke-width="1.15"/>
<path d="M185.98 490.81L186.43 490.81" stroke="#1e1e1e" stroke-width="1.15"/>
<path d="M185.98 493.74L186.36 493.74" stroke="#1e1e1e" stroke-width="1.15"/>
<path d="M184.45 487.59L184.45 492.28" stroke="#1e1e1e" stroke-width="1.15"/>
<path d="M184.45 487.59L185.09 487.59" stroke="#1e1e1e" stroke-width="1.15"/>
<path d="M184.45 492.28L185.98 492.28" stroke="#1e1e1e" stroke-width="1.15"/>
<path d="M182.07 482.59L182.07 489.93" stroke="#1e1e1e" stroke-width="1.15"/>
<path d="M182.07 482.59L182.47 482.59" stroke="#1e1e1e" stroke-width="1.15"/>
<path d="M182.07 489.93L184.45 489.93" stroke="#1e1e1e" stroke-width="1.15"/>
<path d="M180.8 476.25L180.8 486.26" stroke="#1e1e1e" stroke-width="1.15"/>
<path d="M180.8 476.25L181.82 476.25" stroke="#1e1e1e" stroke-width="1.15"/>
<path d="M180.8 486.26L182.07 486.26" stroke="#1e1e1e" stroke-width="1.15"/>
<path d="M182.79 496.15L182.79 496.93" stroke="#1e1e1e" stroke-width="1.15"/>
<path d="M182.79 496.15L190 496.15" stroke="#1e1e1e" stroke-width="1.15"/>
<path d="M182.79 496.93L190 496.93" stroke="#1e1e1e" stroke-width="1.15"/>
<path d="M183.95 497.68L183.95 498.4" stroke="#1e1e1e" stroke-width="1.15"/>
<path d="M183.95 497.68L190 497.68" stroke="#1e1e1e" stroke-width="1.15"/>
<path d="M183.95 498.4L190 498.4" stroke="#1e1e1e" stroke-width="1.15"/>
<path d="M183.49 499.21L183.49 499.81" stroke="#1e1e1e" stroke-width="1.15"/>
<path d="M183.49 499.21L190 499.21" stroke="#1e1e1e" stroke-width="1.15"/>
<path d="M183.49 499.81L190 499.81" stroke="#1e1e1e" stroke-width="1.15"/>
<path d="M182.63 498.04L182.63 499.51" stroke="#1e1e1e" stroke-width="1.15"/>
<path d="M182.63 498.04L183.95 498.04" stroke="#1e1e1e" stroke-width="1.15"/>
<path d="M182.63 499.51L183.49 499.51" stroke="#1e1e1e" stroke-width="1.15"/>
<path d="M180.31 496.54L180.31 498.78" stroke="#1e1e1e" stroke-width="1.15"/>
<path d="M180.31 496.54L182.79 496.54" stroke="#1e1e1e" stroke-width="1.15"/>
<path d="M180.31 498.78L182.63 498.78" stroke="#1e1e1e" stroke-width="1.15"/>
<path d="M182.04 500.31L182.04 500.95" stroke="#1e1e1e" stroke-width="1.15"/>
<path d="M182.04 500.31L190 500.31" stroke="#1e1e1e" stroke-width="1.15"/>
<path d="M182.04 500.95L190 500.95" stroke="#1e1e1e" stroke-width="1.15"/>
<path d="M181.58 500.63L181.58 501.75" stroke="#1e1e1e" stroke-width="1.15"/>
<path d="M181.58 500.63L182.04 500.63" stroke="#1e1e1e" stroke-width="1.15"/>
<path d="M181.58 501.75L190 501.75" stroke="#1e1e1e" stroke-width="1.15"/>
<path d="M183.54 502.4L183.54 502.94" stroke="#1e1e1e" stroke-width="1.15"/>
<path d="M183.54 502.4L190 502.4" stroke="#1e1e1e" stroke-width="1.15"/>
<path d="M183.54 502.94L190 502.94" stroke="#1e1e1e" stroke-width="1.15"/>
<path d="M182.01 503.49L182.01 504.05" stroke="#1e1e1e" stroke-width="1.15"/>
<path d="M182.01 503.49L190 503.49" stroke="#1e1e1e" stroke-width="1.15"/>
<path d="M182.01 504.05L190 504.05" stroke="#1e1e1e" stroke-width="1.15"/>
<path d="M180.98 502.67L180.98 503.77" stroke="#1e1e1e" stroke-width="1.15"/>
<path d="M180.98 502.67L183.54 502.67" stroke="#1e1e1e" stroke-width="1.15"/>
<path d="M180.98 503.77L182.01 503.77" stroke="#1e1e1e" stroke-width="1.15"/>
<path d="M184.44 505.48L184.44 506.26" stroke="#1e1e1e" stroke-width="1.15"/>
<path d="M184.44 505.48L190 505.48" stroke="#1e1e1e" stroke-width="1.15"/>
<path d="M184.44 506.26L190 506.26" stroke="#1e1e1e" stroke-width="1.15"/>
<path d="M183.35 504.75L183.35 505.87" stroke="#1e1e1e" stroke-width="1.15"/>
<path d="M183.35 504.75L190 504.75" stroke="#1e1e1e" stroke-width="1.15"/>
<path d="M183.35 505.87L184.44 505.87" stroke="#1e1e1e" stroke-width="1.15"/>
<path d="M180.56 503.22L180.56 505.31" stroke="#1e1e1e" stroke-width="1.15"/>
<path d="M180.56 503.22L180.98 503.22" stroke="#1e1e1e" stroke-width="1.15"/>
<path d="M180.56 505.31L183.35 505.31" stroke="#1e1e1e" stroke-width="1.15"/>
<path d="M178.84 501.19L178.84 504.26" stroke="#1e1e1e" stroke-width="1.15"/>
<path d="M178.84 501.19L181.58 501.19" stroke="#1e1e1e" stroke-width="1.15"/>
<path d="M178.84 504.26L180.56 504.26" stroke="#1e1e1e" stroke-width="1.15"/>
<path d="M177.89 497.66L177.89 502.73" stroke="#1e1e1e" stroke-width="1.15"/>
<path d="M177.89 497.66L180.31 497.66" stroke="#1e1e1e" stroke-width="1.15"/>
<path d="M177.89 502.73L178.84 502.73" stroke="#1e1e1e" stroke-width="1.15"/>
<path d="M176.51 481.25L176.51 500.19" stroke="#2a2a2a" stroke-width="1.15"/>
<path d="M176.51 481.25L180.8 481.25" stroke="#2a2a2a" stroke-width="1.15"/>
<path d="M176.51 500.19L177.89 500.19" stroke="#2a2a2a" stroke-width="1.15"/>
<path d="M171.69 462.1L171.69 490.72" stroke="#2a2a2a" stroke-width="1.15"/>
<path d="M171.69 462.1L175.26 462.1" stroke="#2a2a2a" stroke-width="1.15"/>
<path d="M171.69 490.72L176.51 490.72" stroke="#2a2a2a" stroke-width="1.15"/>
<path d="M182.34 506.87L182.34 507.46" stroke="#1e1e1e" stroke-width="1.15"/>
<path d="M182.34 506.87L190 506.87" stroke="#1e1e1e" stroke-width="1.15"/>
<path d="M182.34 507.46L190 507.46" stroke="#1e1e1e" stroke-width="1.15"/>
<path d="M184.47 508.04L184.47 508.59" stroke="#1e1e1e" stroke-width="1.15"/>
<path d="M184.47 508.04L190 508.04" stroke="#1e1e1e" stroke-width="1.15"/>
<path d="M184.47 508.59L190 508.59" stroke="#1e1e1e" stroke-width="1.15"/>
<path d="M181.98 507.17L181.98 508.31" stroke="#1e1e1e" stroke-width="1.15"/>
<path d="M181.98 507.17L182.34 507.17" stroke="#1e1e1e" stroke-width="1.15"/>
<path d="M181.98 508.31L184.47 508.31" stroke="#1e1e1e" stroke-width="1.15"/>
<path d="M184.23 510.42L184.23 510.95" stroke="#1e1e1e" stroke-width="1.15"/>
<path d="M184.23 510.42L190 510.42" stroke="#1e1e1e" stroke-width="1.15"/>
<path d="M184.23 510.95L190 510.95" stroke="#1e1e1e" stroke-width="1.15"/>
<path d="M182.78 509.92L182.78 510.69" stroke="#1e1e1e" stroke-width="1.15"/>
<path d="M182.78 509.92L190 509.92" stroke="#1e1e1e" stroke-width="1.15"/>
<path d="M182.78 510.69L184.23 510.69" stroke="#1e1e1e" stroke-width="1.15"/>
<path d="M182.02 509.3L182.02 510.3" stroke="#1e1e1e" stroke-width="1.15"/>
<path d="M182.02 509.3L190 509.3" stroke="#1e1e1e" stroke-width="1.15"/>
<path d="M182.02 510.3L182.78 510.3" stroke="#1e1e1e" stroke-width="1.15"/>
<path d="M180.17 507.74L180.17 509.8" stroke="#1e1e1e" stroke-width="1.15"/>
<path d="M180.17 507.74L181.98 507.74" stroke="#1e1e1e" stroke-width="1.15"/>
<path d="M180.17 509.8L182.02 509.8" stroke="#1e1e1e" stroke-width="1.15"/>
<path d="M184.97 512.31L184.97 512.94" stroke="#1e1e1e" stroke-width="1.15"/>
<path d="M184.97 512.31L190 512.31" stroke="#1e1e1e" stroke-width="1.15"/>
<path d="M184.97 512.94L190 512.94" stroke="#1e1e1e" stroke-width="1.15"/>
<path d="M184.06 511.65L184.06 512.63" stroke="#1e1e1e" stroke-width="1.15"/>
<path d="M184.06 511.65L190 511.65" stroke="#1e1e1e" stroke-width="1.15"/>
<path d="M184.06 512.63L184.97 512.63" stroke="#1e1e1e" stroke-width="1.15"/>
<path d="M185.26 513.61L185.26 514.33" stroke="#1e1e1e" stroke-width="1.15"/>
<path d="M185.26 513.61L190 513.61" stroke="#1e1e1e" stroke-width="1.15"/>
<path d="M185.26 514.33L190 514.33" stroke="#1e1e1e" stroke-width="1.15"/>
<path d="M186.25 515.09L186.25 515.67" stroke="#1e1e1e" stroke-width="1.15"/>
<path d="M186.25 515.09L190 515.09" stroke="#1e1e1e" stroke-width="1.15"/>
<path d="M186.25 515.67L190 515.67" stroke="#1e1e1e" stroke-width="1.15"/>
<path d="M186.78 516.38L186.78 517.08" stroke="#1e1e1e" stroke-width="1.15"/>
<path d="M186.78 516.38L190 516.38" stroke="#1e1e1e" stroke-width="1.15"/>
<path d="M186.78 517.08L190 517.08" stroke="#1e1e1e" stroke-width="1.15"/>
<path d="M185.55 515.38L185.55 516.73" stroke="#1e1e1e" stroke-width="1.15"/>
<path d="M185.55 515.38L186.25 515.38" stroke="#1e1e1e" stroke-width="1.15"/>
<path d="M185.55 516.73L186.78 516.73" stroke="#1e1e1e" stroke-width="1.15"/>
<path d="M184.08 513.97L184.08 516.05" stroke="#1e1e1e" stroke-width="1.15"/>
<path d="M184.08 513.97L185.26 513.97" stroke="#1e1e1e" stroke-width="1.15"/>
<path d="M184.08 516.05L185.55 516.05" stroke="#1e1e1e" stroke-width="1.15"/>
<path d="M182.77 512.14L182.77 515.01" stroke="#1e1e1e" stroke-width="1.15"/>
<path d="M182.77 512.14L184.06 512.14" stroke="#1e1e1e" stroke-width="1.15"/>
<path d="M182.77 515.01L184.08 515.01" stroke="#1e1e1e" stroke-width="1.15"/>
<path d="M182.44 517.8L182.44 518.53" stroke="#1e1e1e" stroke-width="1.15"/>
<path d="M182.44 517.8L190 517.8" stroke="#1e1e1e" stroke-width="1.15"/>
<path d="M182.44 518.53L190 518.53" stroke="#1e1e1e" stroke-width="1.15"/>
<path d="M184.16 519.21L184.16 519.82" stroke="#1e1e1e" stroke-width="1.15"/>
<path d="M184.16 519.21L190 519.21" stroke="#1e1e1e" stroke-width="1.15"/>
<path d="M184.16 519.82L190 519.82" stroke="#1e1e1e" stroke-width="1.15"/>
<path d="M183.82 519.52L183.82 520.35" stroke="#1e1e1e" stroke-width="1.15"/>
<path d="M183.82 519.52L184.16 519.52" stroke="#1e1e1e" stroke-width="1.15"/>
<path d="M183.82 520.35L190 520.35" stroke="#1e1e1e" stroke-width="1.15"/>
<path d="M180.98 518.17L180.98 519.93" stroke="#1e1e1e" stroke-width="1.15"/>
<path d="M180.98 518.17L182.44 518.17" stroke="#1e1e1e" stroke-width="1.15"/>
<path d="M180.98 519.93L183.82 519.93" stroke="#1e1e1e" stroke-width="1.15"/>
<path d="M180.48 513.58L180.48 519.05" stroke="#1e1e1e" stroke-width="1.15"/>
<path d="M180.48 513.58L182.77 513.58" stroke="#1e1e1e" stroke-width="1.15"/>
<path d="M180.48 519.05L180.98 519.05" stroke="#1e1e1e" stroke-width="1.15"/>
<path d="M176.26 508.77L176.26 516.31" stroke="#1e1e1e" stroke-width="1.15"/>
<path d="M176.26 508.77L180.17 508.77" stroke="#1e1e1e" stroke-width="1.15"/>
<path d="M176.26 516.31L180.48 516.31" stroke="#1e1e1e" stroke-width="1.15"/>
<path d="M181.52 521.11L181.52 521.71" stroke="#1e1e1e" stroke-width="1.15"/>
<path d="M181.52 521.11L190 521.11" stroke="#1e1e1e" stroke-width="1.15"/>
<path d="M181.52 521.71L190 521.71" stroke="#1e1e1e" stroke-width="1.15"/>
<path d="M181.81 522.23L181.81 522.83" stroke="#1e1e1e" stroke-width="1.15"/>
<path d="M181.81 522.23L190 522.23" stroke="#1e1e1e" stroke-width="1.15"/>
<path d="M181.81 522.83L190 522.83" stroke="#1e1e1e" stroke-width="1.15"/>
<path d="M181.11 521.41L181.11 522.53" stroke="#1e1e1e" stroke-width="1.15"/>
<path d="M181.11 521.41L181.52 521.41" stroke="#1e1e1e" stroke-width="1.15"/>
<path d="M181.11 522.53L181.81 522.53" stroke="#1e1e1e" stroke-width="1.15"/>
<path d="M182.47 523.4L182.47 524.14" stroke="#1e1e1e" stroke-width="1.15"/>
<path d="M182.47 523.4L190 523.4" stroke="#1e1e1e" stroke-width="1.15"/>
<path d="M182.47 524.14L190 524.14" stroke="#1e1e1e" stroke-width="1.15"/>
<path d="M182.07 523.77L182.07 524.98" stroke="#1e1e1e" stroke-width="1.15"/>
<path d="M182.07 523.77L182.47 523.77" stroke="#1e1e1e" stroke-width="1.15"/>
<path d="M182.07 524.98L190 524.98" stroke="#1e1e1e" stroke-width="1.15"/>
<path d="M180.55 521.97L180.55 524.37" stroke="#1e1e1e" stroke-width="1.15"/>
<path d="M180.55 521.97L181.11 521.97" stroke="#1e1e1e" stroke-width="1.15"/>
<path d="M180.55 524.37L182.07 524.37" stroke="#1e1e1e" stroke-width="1.15"/>
<path d="M184.09 525.75L184.09 526.3" stroke="#1e1e1e" stroke-width="1.15"/>
<path d="M184.09 525.75L190 525.75" stroke="#1e1e1e" stroke-width="1.15"/>
<path d="M184.09 526.3L190 526.3" stroke="#1e1e1e" stroke-width="1.15"/>
<path d="M183.91 526.93L183.91 527.75" stroke="#1e1e1e" stroke-width="1.15"/>
<path d="M183.91 526.93L190 526.93" stroke="#1e1e1e" stroke-width="1.15"/>
<path d="M183.91 527.75L190 527.75" stroke="#1e1e1e" stroke-width="1.15"/>
<path d="M182.74 526.02L182.74 527.34" stroke="#1e1e1e" stroke-width="1.15"/>
<path d="M182.74 526.02L184.09 526.02" stroke="#1e1e1e" stroke-width="1.15"/>
<path d="M182.74 527.34L183.91 527.34" stroke="#1e1e1e" stroke-width="1.15"/>
<path d="M183.36 528.54L183.36 529.42" stroke="#1e1e1e" stroke-width="1.15"/>
<path d="M183.36 528.54L190 528.54" stroke="#1e1e1e" stroke-width="1.15"/>
<path d="M183.36 529.42L190 529.42" stroke="#1e1e1e" stroke-width="1.15"/>
<path d="M181.86 528.98L181.86 530.27" stroke="#1e1e1e" stroke-width="1.15"/>
<path d="M181.86 528.98L183.36 528.98" stroke="#1e1e1e" stroke-width="1.15"/>
<path d="M181.86 530.27L190 530.27" stroke="#1e1e1e" stroke-width="1.15"/>
<path d="M179.64 526.68L179.64 529.63" stroke="#1e1e1e" stroke-width="1.15"/>
<path d="M179.64 526.68L182.74 526.68" stroke="#1e1e1e" stroke-width="1.15"/>
<path d="M179.64 529.63L181.86 529.63" stroke="#1e1e1e" stroke-width="1.15"/>
<path d="M177.93 523.17L177.93 528.15" stroke="#1e1e1e" stroke-width="1.15"/>
<path d="M177.93 523.17L180.55 523.17" stroke="#1e1e1e" stroke-width="1.15"/>
<path d="M177.93 528.15L179.64 528.15" stroke="#1e1e1e" stroke-width="1.15"/>
<path d="M173.9 512.54L173.9 525.66" stroke="#2a2a2a" stroke-width="1.15"/>
<path d="M173.9 512.54L176.26 512.54" stroke="#2a2a2a" stroke-width="1.15"/>
<path d="M173.9 525.66L177.93 525.66" stroke="#2a2a2a" stroke-width="1.15"/>
<path d="M178.51 531.87L178.51 532.64" stroke="#1e1e1e" stroke-width="1.15"/>
<path d="M178.51 531.87L190 531.87" stroke="#1e1e1e" stroke-width="1.15"/>
<path d="M178.51 532.64L190 532.64" stroke="#1e1e1e" stroke-width="1.15"/>
<path d="M174.15 531.07L174.15 532.26" stroke="#1e1e1e" stroke-width="1.15"/>
<path d="M174.15 531.07L190 531.07" stroke="#1e1e1e" stroke-width="1.15"/>
<path d="M174.15 532.26L178.51 532.26" stroke="#1e1e1e" stroke-width="1.15"/>
<path d="M177.77 533.26L177.77 533.77" stroke="#1e1e1e" stroke-width="1.15"/>
<path d="M177.77 533.26L190 533.26" stroke="#1e1e1e" stroke-width="1.15"/>
<path d="M177.77 533.77L190 533.77" stroke="#1e1e1e" stroke-width="1.15"/>
<path d="M176.64 534.37L176.64 535.21" stroke="#1e1e1e" stroke-width="1.15"/>
<path d="M176.64 534.37L190 534.37" stroke="#1e1e1e" stroke-width="1.15"/>
<path d="M176.64 535.21L190 535.21" stroke="#1e1e1e" stroke-width="1.15"/>
<path d="M173.93 533.52L173.93 534.79" stroke="#1e1e1e" stroke-width="1.15"/>
<path d="M173.93 533.52L177.77 533.52" stroke="#1e1e1e" stroke-width="1.15"/>
<path d="M173.93 534.79L176.64 534.79" stroke="#1e1e1e" stroke-width="1.15"/>
<path d="M171.98 531.66L171.98 534.15" stroke="#1e1e1e" stroke-width="1.15"/>
<path d="M171.98 531.66L174.15 531.66" stroke="#1e1e1e" stroke-width="1.15"/>
<path d="M171.98 534.15L173.93 534.15" stroke="#1e1e1e" stroke-width="1.15"/>
<path d="M177.42 535.97L177.42 536.69" stroke="#1e1e1e" stroke-width="1.15"/>
<path d="M177.42 535.97L190 535.97" stroke="#1e1e1e" stroke-width="1.15"/>
<path d="M177.42 536.69L190 536.69" stroke="#1e1e1e" stroke-width="1.15"/>
<path d="M182.82 537.53L182.82 538.21" stroke="#1e1e1e" stroke-width="1.15"/>
<path d="M182.82 537.53L190 537.53" stroke="#1e1e1e" stroke-width="1.15"/>
<path d="M182.82 538.21L190 538.21" stroke="#1e1e1e" stroke-width="1.15"/>
<path d="M182.29 538.76L182.29 539.38" stroke="#1e1e1e" stroke-width="1.15"/>
<path d="M182.29 538.76L190 538.76" stroke="#1e1e1e" stroke-width="1.15"/>
<path d="M182.29 539.38L190 539.38" stroke="#1e1e1e" stroke-width="1.15"/>
<path d="M180.79 539.07L180.79 540.05" stroke="#1e1e1e" stroke-width="1.15"/>
<path d="M180.79 539.07L182.29 539.07" stroke="#1e1e1e" stroke-width="1.15"/>
<path d="M180.79 540.05L190 540.05" stroke="#1e1e1e" stroke-width="1.15"/>
<path d="M179.5 537.87L179.5 539.56" stroke="#1e1e1e" stroke-width="1.15"/>
<path d="M179.5 537.87L182.82 537.87" stroke="#1e1e1e" stroke-width="1.15"/>
<path d="M179.5 539.56L180.79 539.56" stroke="#1e1e1e" stroke-width="1.15"/>
<path d="M175.39 536.33L175.39 538.71" stroke="#1e1e1e" stroke-width="1.15"/>
<path d="M175.39 536.33L177.42 536.33" stroke="#1e1e1e" stroke-width="1.15"/>
<path d="M175.39 538.71L179.5 538.71" stroke="#1e1e1e" stroke-width="1.15"/>
<path d="M177.77 540.86L177.77 541.65" stroke="#1e1e1e" stroke-width="1.15"/>
<path d="M177.77 540.86L190 540.86" stroke="#1e1e1e" stroke-width="1.15"/>
<path d="M177.77 541.65L190 541.65" stroke="#1e1e1e" stroke-width="1.15"/>
<path d="M182.73 542.4L182.73 543.07" stroke="#1e1e1e" stroke-width="1.15"/>
<path d="M182.73 542.4L190 542.4" stroke="#1e1e1e" stroke-width="1.15"/>
<path d="M182.73 543.07L190 543.07" stroke="#1e1e1e" stroke-width="1.15"/>
<path d="M184.42 543.56L184.42 544.06" stroke="#1e1e1e" stroke-width="1.15"/>
<path d="M184.42 543.56L190 543.56" stroke="#1e1e1e" stroke-width="1.15"/>
<path d="M184.42 544.06L190 544.06" stroke="#1e1e1e" stroke-width="1.15"/>
<path d="M182.57 543.81L182.57 544.66" stroke="#1e1e1e" stroke-width="1.15"/>
<path d="M182.57 543.81L184.42 543.81" stroke="#1e1e1e" stroke-width="1.15"/>
<path d="M182.57 544.66L190 544.66" stroke="#1e1e1e" stroke-width="1.15"/>
<path d="M180.57 542.73L180.57 544.23" stroke="#1e1e1e" stroke-width="1.15"/>
<path d="M180.57 542.73L182.73 542.73" stroke="#1e1e1e" stroke-width="1.15"/>
<path d="M180.57 544.23L182.57 544.23" stroke="#1e1e1e" stroke-width="1.15"/>
<path d="M176.36 541.26L176.36 543.48" stroke="#1e1e1e" stroke-width="1.15"/>
<path d="M176.36 541.26L177.77 541.26" stroke="#1e1e1e" stroke-width="1.15"/>
<path d="M176.36 543.48L180.57 543.48" stroke="#1e1e1e" stroke-width="1.15"/>
<path d="M172.86 537.52L172.86 542.37" stroke="#1e1e1e" stroke-width="1.15"/>
<path d="M172.86 537.52L175.39 537.52" stroke="#1e1e1e" stroke-width="1.15"/>
<path d="M172.86 542.37L176.36 542.37" stroke="#1e1e1e" stroke-width="1.15"/>
<path d="M170.48 532.91L170.48 539.95" stroke="#2a2a2a" stroke-width="1.15"/>
<path d="M170.48 532.91L171.98 532.91" stroke="#2a2a2a" stroke-width="1.15"/>
<path d="M170.48 539.95L172.86 539.95" stroke="#2a2a2a" stroke-width="1.15"/>
<path d="M167.57 519.1L167.57 536.43" stroke="#2a2a2a" stroke-width="1.15"/>
<path d="M167.57 519.1L173.9 519.1" stroke="#2a2a2a" stroke-width="1.15"/>
<path d="M167.57 536.43L170.48 536.43" stroke="#2a2a2a" stroke-width="1.15"/>
<path d="M164 476.41L164 527.76" stroke="#2a2a2a" stroke-width="1.15"/>
<path d="M164 476.41L171.69 476.41" stroke="#2a2a2a" stroke-width="1.15"/>
<path d="M164 527.76L167.57 527.76" stroke="#2a2a2a" stroke-width="1.15"/>
<path d="M175.9 545.34L175.9 545.98" stroke="#1e1e1e" stroke-width="1.15"/>
<path d="M175.9 545.34L190 545.34" stroke="#1e1e1e" stroke-width="1.15"/>
<path d="M175.9 545.98L190 545.98" stroke="#1e1e1e" stroke-width="1.15"/>
<path d="M176.38 546.61L176.38 547.33" stroke="#1e1e1e" stroke-width="1.15"/>
<path d="M176.38 546.61L190 546.61" stroke="#1e1e1e" stroke-width="1.15"/>
<path d="M176.38 547.33L190 547.33" stroke="#1e1e1e" stroke-width="1.15"/>
<path d="M170.97 545.66L170.97 546.97" stroke="#1e1e1e" stroke-width="1.15"/>
<path d="M170.97 545.66L175.9 545.66" stroke="#1e1e1e" stroke-width="1.15"/>
<path d="M170.97 546.97L176.38 546.97" stroke="#1e1e1e" stroke-width="1.15"/>
<path d="M172.26 547.97L172.26 548.59" stroke="#1e1e1e" stroke-width="1.15"/>
<path d="M172.26 547.97L190 547.97" stroke="#1e1e1e" stroke-width="1.15"/>
<path d="M172.26 548.59L190 548.59" stroke="#1e1e1e" stroke-width="1.15"/>
<path d="M171.21 549.32L171.21 550.06" stroke="#1e1e1e" stroke-width="1.15"/>
<path d="M171.21 549.32L190 549.32" stroke="#1e1e1e" stroke-width="1.15"/>
<path d="M171.21 550.06L190 550.06" stroke="#1e1e1e" stroke-width="1.15"/>
<path d="M167.95 548.28L167.95 549.69" stroke="#1e1e1e" stroke-width="1.15"/>
<path d="M167.95 548.28L172.26 548.28" stroke="#1e1e1e" stroke-width="1.15"/>
<path d="M167.95 549.69L171.21 549.69" stroke="#1e1e1e" stroke-width="1.15"/>
<path d="M162.43 546.32L162.43 548.98" stroke="#2a2a2a" stroke-width="1.15"/>
<path d="M162.43 546.32L170.97 546.32" stroke="#2a2a2a" stroke-width="1.15"/>
<path d="M162.43 548.98L167.95 548.98" stroke="#2a2a2a" stroke-width="1.15"/>
<path d="M171.68 550.84L171.68 551.44" stroke="#1e1e1e" stroke-width="1.15"/>
<path d="M171.68 550.84L190 550.84" stroke="#1e1e1e" stroke-width="1.15"/>
<path d="M171.68 551.44L190 551.44" stroke="#1e1e1e" stroke-width="1.15"/>
<path d="M172.43 551.92L172.43 552.45" stroke="#1e1e1e" stroke-width="1.15"/>
<path d="M172.43 551.92L190 551.92" stroke="#1e1e1e" stroke-width="1.15"/>
<path d="M172.43 552.45L190 552.45" stroke="#1e1e1e" stroke-width="1.15"/>
<path d="M171.64 552.18L171.64 552.97" stroke="#1e1e1e" stroke-width="1.15"/>
<path d="M171.64 552.18L172.43 552.18" stroke="#1e1e1e" stroke-width="1.15"/>
<path d="M171.64 552.97L190 552.97" stroke="#1e1e1e" stroke-width="1.15"/>
<path d="M164.69 551.14L164.69 552.58" stroke="#1e1e1e" stroke-width="1.15"/>
<path d="M164.69 551.14L171.68 551.14" stroke="#1e1e1e" stroke-width="1.15"/>
<path d="M164.69 552.58L171.64 552.58" stroke="#1e1e1e" stroke-width="1.15"/>
<path d="M174.62 553.63L174.62 554.38" stroke="#1e1e1e" stroke-width="1.15"/>
<path d="M174.62 553.63L190 553.63" stroke="#1e1e1e" stroke-width="1.15"/>
<path d="M174.62 554.38L190 554.38" stroke="#1e1e1e" stroke-width="1.15"/>
<path d="M171 554L171 555.23" stroke="#1e1e1e" stroke-width="1.15"/>
<path d="M171 554L174.62 554" stroke="#1e1e1e" stroke-width="1.15"/>
<path d="M171 555.23L190 555.23" stroke="#1e1e1e" stroke-width="1.15"/>
<path d="M162.94 551.86L162.94 554.62" stroke="#1e1e1e" stroke-width="1.15"/>
<path d="M162.94 551.86L164.69 551.86" stroke="#1e1e1e" stroke-width="1.15"/>
<path d="M162.94 554.62L171 554.62" stroke="#1e1e1e" stroke-width="1.15"/>
<path d="M175.96 556.09L175.96 556.82" stroke="#1e1e1e" stroke-width="1.15"/>
<path d="M175.96 556.09L190 556.09" stroke="#1e1e1e" stroke-width="1.15"/>
<path d="M175.96 556.82L190 556.82" stroke="#1e1e1e" stroke-width="1.15"/>
<path d="M174.42 557.6L174.42 558.53" stroke="#1e1e1e" stroke-width="1.15"/>
<path d="M174.42 557.6L190 557.6" stroke="#1e1e1e" stroke-width="1.15"/>
<path d="M174.42 558.53L190 558.53" stroke="#1e1e1e" stroke-width="1.15"/>
<path d="M169.78 556.45L169.78 558.06" stroke="#1e1e1e" stroke-width="1.15"/>
<path d="M169.78 556.45L175.96 556.45" stroke="#1e1e1e" stroke-width="1.15"/>
<path d="M169.78 558.06L174.42 558.06" stroke="#1e1e1e" stroke-width="1.15"/>
<path d="M179.89 559.3L179.89 559.91" stroke="#1e1e1e" stroke-width="1.15"/>
<path d="M179.89 559.3L190 559.3" stroke="#1e1e1e" stroke-width="1.15"/>
<path d="M179.89 559.91L190 559.91" stroke="#1e1e1e" stroke-width="1.15"/>
<path d="M181.23 560.5L181.23 561.18" stroke="#1e1e1e" stroke-width="1.15"/>
<path d="M181.23 560.5L190 560.5" stroke="#1e1e1e" stroke-width="1.15"/>
<path d="M181.23 561.18L190 561.18" stroke="#1e1e1e" stroke-width="1.15"/>
<path d="M177.13 559.6L177.13 560.84" stroke="#1e1e1e" stroke-width="1.15"/>
<path d="M177.13 559.6L179.89 559.6" stroke="#1e1e1e" stroke-width="1.15"/>
<path d="M177.13 560.84L181.23 560.84" stroke="#1e1e1e" stroke-width="1.15"/>
<path d="M174.63 562.04L174.63 562.72" stroke="#1e1e1e" stroke-width="1.15"/>
<path d="M174.63 562.04L190 562.04" stroke="#1e1e1e" stroke-width="1.15"/>
<path d="M174.63 562.72L190 562.72" stroke="#1e1e1e" stroke-width="1.15"/>
<path d="M171.34 560.22L171.34 562.38" stroke="#1e1e1e" stroke-width="1.15"/>
<path d="M171.34 560.22L177.13 560.22" stroke="#1e1e1e" stroke-width="1.15"/>
<path d="M171.34 562.38L174.63 562.38" stroke="#1e1e1e" stroke-width="1.15"/>
<path d="M166.49 557.26L166.49 561.3" stroke="#1e1e1e" stroke-width="1.15"/>
<path d="M166.49 557.26L169.78 557.26" stroke="#1e1e1e" stroke-width="1.15"/>
<path d="M166.49 561.3L171.34 561.3" stroke="#1e1e1e" stroke-width="1.15"/>
<path d="M160.57 553.24L160.57 559.28" stroke="#2a2a2a" stroke-width="1.15"/>
<path d="M160.57 553.24L162.94 553.24" stroke="#2a2a2a" stroke-width="1.15"/>
<path d="M160.57 559.28L166.49 559.28" stroke="#2a2a2a" stroke-width="1.15"/>
<path d="M153.03 547.65L153.03 556.26" stroke="#2a2a2a" stroke-width="1.15"/>
<path d="M153.03 547.65L162.43 547.65" stroke="#2a2a2a" stroke-width="1.15"/>
<path d="M153.03 556.26L160.57 556.26" stroke="#2a2a2a" stroke-width="1.15"/>
<path d="M176.27 563.35L176.27 564.1" stroke="#1e1e1e" stroke-width="1.15"/>
<path d="M176.27 563.35L190 563.35" stroke="#1e1e1e" stroke-width="1.15"/>
<path d="M176.27 564.1L190 564.1" stroke="#1e1e1e" stroke-width="1.15"/>
<path d="M182.11 564.71L182.11 565.22" stroke="#1e1e1e" stroke-width="1.15"/>
<path d="M182.11 564.71L190 564.71" stroke="#1e1e1e" stroke-width="1.15"/>
<path d="M182.11 565.22L190 565.22" stroke="#1e1e1e" stroke-width="1.15"/>
<path d="M179.9 564.97L179.9 565.71" stroke="#1e1e1e" stroke-width="1.15"/>
<path d="M179.9 564.97L182.11 564.97" stroke="#1e1e1e" stroke-width="1.15"/>
<path d="M179.9 565.71L190 565.71" stroke="#1e1e1e" stroke-width="1.15"/>
<path d="M179.01 566.27L179.01 566.86" stroke="#1e1e1e" stroke-width="1.15"/>
<path d="M179.01 566.27L190 566.27" stroke="#1e1e1e" stroke-width="1.15"/>
<path d="M179.01 566.86L190 566.86" stroke="#1e1e1e" stroke-width="1.15"/>
<path d="M177.24 565.34L177.24 566.56" stroke="#1e1e1e" stroke-width="1.15"/>
<path d="M177.24 565.34L179.9 565.34" stroke="#1e1e1e" stroke-width="1.15"/>
<path d="M177.24 566.56L179.01 566.56" stroke="#1e1e1e" stroke-width="1.15"/>
<path d="M174.37 563.73L174.37 565.95" stroke="#1e1e1e" stroke-width="1.15"/>
<path d="M174.37 563.73L176.27 563.73" stroke="#1e1e1e" stroke-width="1.15"/>
<path d="M174.37 565.95L177.24 565.95" stroke="#1e1e1e" stroke-width="1.15"/>
<path d="M175.28 567.33L175.28 567.9" stroke="#1e1e1e" stroke-width="1.15"/>
<path d="M175.28 567.33L190 567.33" stroke="#1e1e1e" stroke-width="1.15"/>
<path d="M175.28 567.9L190 567.9" stroke="#1e1e1e" stroke-width="1.15"/>
<path d="M171.5 567.61L171.5 568.59" stroke="#1e1e1e" stroke-width="1.15"/>
<path d="M171.5 567.61L175.28 567.61" stroke="#1e1e1e" stroke-width="1.15"/>
<path d="M171.5 568.59L190 568.59" stroke="#1e1e1e" stroke-width="1.15"/>
<path d="M168.03 564.84L168.03 568.1" stroke="#2a2a2a" stroke-width="1.15"/>
<path d="M168.03 564.84L174.37 564.84" stroke="#2a2a2a" stroke-width="1.15"/>
<path d="M168.03 568.1L171.5 568.1" stroke="#2a2a2a" stroke-width="1.15"/>
<path d="M173.71 569.35L173.71 569.98" stroke="#1e1e1e" stroke-width="1.15"/>
<path d="M173.71 569.35L190 569.35" stroke="#1e1e1e" stroke-width="1.15"/>
<path d="M173.71 569.98L190 569.98" stroke="#1e1e1e" stroke-width="1.15"/>
<path d="M177.32 571.01L177.32 571.61" stroke="#1e1e1e" stroke-width="1.15"/>
<path d="M177.32 571.01L190 571.01" stroke="#1e1e1e" stroke-width="1.15"/>
<path d="M177.32 571.61L190 571.61" stroke="#1e1e1e" stroke-width="1.15"/>
<path d="M173.03 570.49L173.03 571.31" stroke="#1e1e1e" stroke-width="1.15"/>
<path d="M173.03 570.49L190 570.49" stroke="#1e1e1e" stroke-width="1.15"/>
<path d="M173.03 571.31L177.32 571.31" stroke="#1e1e1e" stroke-width="1.15"/>
<path d="M169.08 569.67L169.08 570.9" stroke="#2a2a2a" stroke-width="1.15"/>
<path d="M169.08 569.67L173.71 569.67" stroke="#2a2a2a" stroke-width="1.15"/>
<path d="M169.08 570.9L173.03 570.9" stroke="#2a2a2a" stroke-width="1.15"/>
<path d="M161.35 566.47L161.35 570.28" stroke="#2a2a2a" stroke-width="1.15"/>
<path d="M161.35 566.47L168.03 566.47" stroke="#2a2a2a" stroke-width="1.15"/>
<path d="M161.35 570.28L169.08 570.28" stroke="#2a2a2a" stroke-width="1.15"/>
<path d="M150 551.96L150 568.38" stroke="#2a2a2a" stroke-width="1.15"/>
<path d="M150 551.96L153.03 551.96" stroke="#2a2a2a" stroke-width="1.15"/>
<path d="M150 568.38L161.35 568.38" stroke="#2a2a2a" stroke-width="1.15"/>
<path d="M176.95 572.74L176.95 573.25" stroke="#1e1e1e" stroke-width="1.15"/>
<path d="M176.95 572.74L190 572.74" stroke="#1e1e1e" stroke-width="1.15"/>
<path d="M176.95 573.25L190 573.25" stroke="#1e1e1e" stroke-width="1.15"/>
<path d="M173.63 572.26L173.63 573" stroke="#1e1e1e" stroke-width="1.15"/>
<path d="M173.63 572.26L190 572.26" stroke="#1e1e1e" stroke-width="1.15"/>
<path d="M173.63 573L176.95 573" stroke="#1e1e1e" stroke-width="1.15"/>
<path d="M177.34 574.61L177.34 575.26" stroke="#1e1e1e" stroke-width="1.15"/>
<path d="M177.34 574.61L190 574.61" stroke="#1e1e1e" stroke-width="1.15"/>
<path d="M177.34 575.26L190 575.26" stroke="#1e1e1e" stroke-width="1.15"/>
<path d="M174.12 573.84L174.12 574.93" stroke="#1e1e1e" stroke-width="1.15"/>
<path d="M174.12 573.84L190 573.84" stroke="#1e1e1e" stroke-width="1.15"/>
<path d="M174.12 574.93L177.34 574.93" stroke="#1e1e1e" stroke-width="1.15"/>
<path d="M172.06 572.63L172.06 574.39" stroke="#1e1e1e" stroke-width="1.15"/>
<path d="M172.06 572.63L173.63 572.63" stroke="#1e1e1e" stroke-width="1.15"/>
<path d="M172.06 574.39L174.12 574.39" stroke="#1e1e1e" stroke-width="1.15"/>
<path d="M179.04 576.79L179.04 577.46" stroke="#1e1e1e" stroke-width="1.15"/>
<path d="M179.04 576.79L190 576.79" stroke="#1e1e1e" stroke-width="1.15"/>
<path d="M179.04 577.46L190 577.46" stroke="#1e1e1e" stroke-width="1.15"/>
<path d="M174.33 575.92L174.33 577.13" stroke="#1e1e1e" stroke-width="1.15"/>
<path d="M174.33 575.92L190 575.92" stroke="#1e1e1e" stroke-width="1.15"/>
<path d="M174.33 577.13L179.04 577.13" stroke="#1e1e1e" stroke-width="1.15"/>
<path d="M169.37 573.51L169.37 576.52" stroke="#2a2a2a" stroke-width="1.15"/>
<path d="M169.37 573.51L172.06 573.51" stroke="#2a2a2a" stroke-width="1.15"/>
<path d="M169.37 576.52L174.33 576.52" stroke="#2a2a2a" stroke-width="1.15"/>
<path d="M174.96 578L174.96 578.74" stroke="#1e1e1e" stroke-width="1.15"/>
<path d="M174.96 578L190 578" stroke="#1e1e1e" stroke-width="1.15"/>
<path d="M174.96 578.74L190 578.74" stroke="#1e1e1e" stroke-width="1.15"/>
<path d="M171.68 578.37L171.68 579.53" stroke="#1e1e1e" stroke-width="1.15"/>
<path d="M171.68 578.37L174.96 578.37" stroke="#1e1e1e" stroke-width="1.15"/>
<path d="M171.68 579.53L190 579.53" stroke="#1e1e1e" stroke-width="1.15"/>
<path d="M173.44 580.12L173.44 580.77" stroke="#1e1e1e" stroke-width="1.15"/>
<path d="M173.44 580.12L190 580.12" stroke="#1e1e1e" stroke-width="1.15"/>
<path d="M173.44 580.77L190 580.77" stroke="#1e1e1e" stroke-width="1.15"/>
<path d="M169.07 578.95L169.07 580.44" stroke="#2a2a2a" stroke-width="1.15"/>
<path d="M169.07 578.95L171.68 578.95" stroke="#2a2a2a" stroke-width="1.15"/>
<path d="M169.07 580.44L173.44 580.44" stroke="#2a2a2a" stroke-width="1.15"/>
<path d="M168.11 575.02L168.11 579.7" stroke="#2a2a2a" stroke-width="1.15"/>
<path d="M168.11 575.02L169.37 575.02" stroke="#2a2a2a" stroke-width="1.15"/>
<path d="M168.11 579.7L169.07 579.7" stroke="#2a2a2a" stroke-width="1.15"/>
<path d="M176.82 581.35L176.82 581.91" stroke="#1e1e1e" stroke-width="1.15"/>
<path d="M176.82 581.35L190 581.35" stroke="#1e1e1e" stroke-width="1.15"/>
<path d="M176.82 581.91L190 581.91" stroke="#1e1e1e" stroke-width="1.15"/>
<path d="M174.99 581.63L174.99 582.52" stroke="#1e1e1e" stroke-width="1.15"/>
<path d="M174.99 581.63L176.82 581.63" stroke="#1e1e1e" stroke-width="1.15"/>
<path d="M174.99 582.52L190 582.52" stroke="#1e1e1e" stroke-width="1.15"/>
<path d="M175.08 583.17L175.08 583.81" stroke="#1e1e1e" stroke-width="1.15"/>
<path d="M175.08 583.17L190 583.17" stroke="#1e1e1e" stroke-width="1.15"/>
<path d="M175.08 583.81L190 583.81" stroke="#1e1e1e" stroke-width="1.15"/>
<path d="M175.34 584.32L175.34 585.06" stroke="#1e1e1e" stroke-width="1.15"/>
<path d="M175.34 584.32L190 584.32" stroke="#1e1e1e" stroke-width="1.15"/>
<path d="M175.34 585.06L190 585.06" stroke="#1e1e1e" stroke-width="1.15"/>
<path d="M174.16 583.49L174.16 584.69" stroke="#1e1e1e" stroke-width="1.15"/>
<path d="M174.16 583.49L175.08 583.49" stroke="#1e1e1e" stroke-width="1.15"/>
<path d="M174.16 584.69L175.34 584.69" stroke="#1e1e1e" stroke-width="1.15"/>
<path d="M172.55 582.08L172.55 584.09" stroke="#2a2a2a" stroke-width="1.15"/>
<path d="M172.55 582.08L174.99 582.08" stroke="#2a2a2a" stroke-width="1.15"/>
<path d="M172.55 584.09L174.16 584.09" stroke="#2a2a2a" stroke-width="1.15"/>
<path d="M173.67 585.78L173.67 586.48" stroke="#1e1e1e" stroke-width="1.15"/>
<path d="M173.67 585.78L190 585.78" stroke="#1e1e1e" stroke-width="1.15"/>
<path d="M173.67 586.48L190 586.48" stroke="#1e1e1e" stroke-width="1.15"/>
<path d="M176.76 587.23L176.76 587.86" stroke="#1e1e1e" stroke-width="1.15"/>
<path d="M176.76 587.23L190 587.23" stroke="#1e1e1e" stroke-width="1.15"/>
<path d="M176.76 587.86L190 587.86" stroke="#1e1e1e" stroke-width="1.15"/>
<path d="M177.23 589.1L177.23 589.68" stroke="#1e1e1e" stroke-width="1.15"/>
<path d="M177.23 589.1L190 589.1" stroke="#1e1e1e" stroke-width="1.15"/>
<path d="M177.23 589.68L190 589.68" stroke="#1e1e1e" stroke-width="1.15"/>
<path d="M173.15 588.51L173.15 589.39" stroke="#1e1e1e" stroke-width="1.15"/>
<path d="M173.15 588.51L190 588.51" stroke="#1e1e1e" stroke-width="1.15"/>
<path d="M173.15 589.39L177.23 589.39" stroke="#1e1e1e" stroke-width="1.15"/>
<path d="M171.77 587.54L171.77 588.95" stroke="#1e1e1e" stroke-width="1.15"/>
<path d="M171.77 587.54L176.76 587.54" stroke="#1e1e1e" stroke-width="1.15"/>
<path d="M171.77 588.95L173.15 588.95" stroke="#1e1e1e" stroke-width="1.15"/>
<path d="M168.91 586.13L168.91 588.25" stroke="#2a2a2a" stroke-width="1.15"/>
<path d="M168.91 586.13L173.67 586.13" stroke="#2a2a2a" stroke-width="1.15"/>
<path d="M168.91 588.25L171.77 588.25" stroke="#2a2a2a" stroke-width="1.15"/>
<path d="M166.35 583.08L166.35 587.19" stroke="#2a2a2a" stroke-width="1.15"/>
<path d="M166.35 583.08L172.55 583.08" stroke="#2a2a2a" stroke-width="1.15"/>
<path d="M166.35 587.19L168.91 587.19" stroke="#2a2a2a" stroke-width="1.15"/>
<path d="M160 577L160 585.14" stroke="#2a2a2a" stroke-width="1.15"/>
<path d="M160 577.36L168.11 577.36" stroke="#2a2a2a" stroke-width="1.15"/>
<path d="M160 585.14L166.35 585.14" stroke="#2a2a2a" stroke-width="1.15"/>
<path d="M174.88 590.32L174.88 590.94" stroke="#1e1e1e" stroke-width="1.15"/>
<path d="M174.88 590.32L190 590.32" stroke="#1e1e1e" stroke-width="1.15"/>
<path d="M174.88 590.94L190 590.94" stroke="#1e1e1e" stroke-width="1.15"/>
<path d="M173.33 591.57L173.33 592.18" stroke="#1e1e1e" stroke-width="1.15"/>
<path d="M173.33 591.57L190 591.57" stroke="#1e1e1e" stroke-width="1.15"/>
<path d="M173.33 592.18L190 592.18" stroke="#1e1e1e" stroke-width="1.15"/>
<path d="M170.44 591.88L170.44 592.86" stroke="#1e1e1e" stroke-width="1.15"/>
<path d="M170.44 591.88L173.33 591.88" stroke="#1e1e1e" stroke-width="1.15"/>
<path d="M170.44 592.86L190 592.86" stroke="#1e1e1e" stroke-width="1.15"/>
<path d="M168.87 590.63L168.87 592.37" stroke="#1e1e1e" stroke-width="1.15"/>
<path d="M168.87 590.63L174.88 590.63" stroke="#1e1e1e" stroke-width="1.15"/>
<path d="M168.87 592.37L170.44 592.37" stroke="#1e1e1e" stroke-width="1.15"/>
<path d="M172.95 593.54L172.95 594.22" stroke="#1e1e1e" stroke-width="1.15"/>
<path d="M172.95 593.54L190 593.54" stroke="#1e1e1e" stroke-width="1.15"/>
<path d="M172.95 594.22L190 594.22" stroke="#1e1e1e" stroke-width="1.15"/>
<path d="M178.39 594.89L178.39 595.6" stroke="#1e1e1e" stroke-width="1.15"/>
<path d="M178.39 594.89L190 594.89" stroke="#1e1e1e" stroke-width="1.15"/>
<path d="M178.39 595.6L190 595.6" stroke="#1e1e1e" stroke-width="1.15"/>
<path d="M178.92 596.25L178.92 596.89" stroke="#1e1e1e" stroke-width="1.15"/>
<path d="M178.92 596.25L190 596.25" stroke="#1e1e1e" stroke-width="1.15"/>
<path d="M178.92 596.89L190 596.89" stroke="#1e1e1e" stroke-width="1.15"/>
<path d="M176.49 595.25L176.49 596.57" stroke="#1e1e1e" stroke-width="1.15"/>
<path d="M176.49 595.25L178.39 595.25" stroke="#1e1e1e" stroke-width="1.15"/>
<path d="M176.49 596.57L178.92 596.57" stroke="#1e1e1e" stroke-width="1.15"/>
<path d="M171.27 593.88L171.27 595.91" stroke="#1e1e1e" stroke-width="1.15"/>
<path d="M171.27 593.88L172.95 593.88" stroke="#1e1e1e" stroke-width="1.15"/>
<path d="M171.27 595.91L176.49 595.91" stroke="#1e1e1e" stroke-width="1.15"/>
<path d="M166.29 591.5L166.29 594.89" stroke="#1e1e1e" stroke-width="1.15"/>
<path d="M166.29 591.5L168.87 591.5" stroke="#1e1e1e" stroke-width="1.15"/>
<path d="M166.29 594.89L171.27 594.89" stroke="#1e1e1e" stroke-width="1.15"/>
<path d="M174.69 598.73L174.69 599.61" stroke="#1e1e1e" stroke-width="1.15"/>
<path d="M174.69 598.73L190 598.73" stroke="#1e1e1e" stroke-width="1.15"/>
<path d="M174.69 599.61L190 599.61" stroke="#1e1e1e" stroke-width="1.15"/>
<path d="M173.92 597.75L173.92 599.17" stroke="#1e1e1e" stroke-width="1.15"/>
<path d="M173.92 597.75L190 597.75" stroke="#1e1e1e" stroke-width="1.15"/>
<path d="M173.92 599.17L174.69 599.17" stroke="#1e1e1e" stroke-width="1.15"/>
<path d="M173.78 600.38L173.78 601.24" stroke="#1e1e1e" stroke-width="1.15"/>
<path d="M173.78 600.38L190 600.38" stroke="#1e1e1e" stroke-width="1.15"/>
<path d="M173.78 601.24L190 601.24" stroke="#1e1e1e" stroke-width="1.15"/>
<path d="M167.44 598.46L167.44 600.81" stroke="#1e1e1e" stroke-width="1.15"/>
<path d="M167.44 598.46L173.92 598.46" stroke="#1e1e1e" stroke-width="1.15"/>
<path d="M167.44 600.81L173.78 600.81" stroke="#1e1e1e" stroke-width="1.15"/>
<path d="M177.65 602.17L177.65 602.86" stroke="#1e1e1e" stroke-width="1.15"/>
<path d="M177.65 602.17L190 602.17" stroke="#1e1e1e" stroke-width="1.15"/>
<path d="M177.65 602.86L190 602.86" stroke="#1e1e1e" stroke-width="1.15"/>
<path d="M177.4 603.27L177.4 603.84" stroke="#1e1e1e" stroke-width="1.15"/>
<path d="M177.4 603.27L190 603.27" stroke="#1e1e1e" stroke-width="1.15"/>
<path d="M177.4 603.84L190 603.84" stroke="#1e1e1e" stroke-width="1.15"/>
<path d="M176.41 602.51L176.41 603.55" stroke="#1e1e1e" stroke-width="1.15"/>
<path d="M176.41 602.51L177.65 602.51" stroke="#1e1e1e" stroke-width="1.15"/>
<path d="M176.41 603.55L177.4 603.55" stroke="#1e1e1e" stroke-width="1.15"/>
<path d="M175.83 604.45L175.83 605.16" stroke="#1e1e1e" stroke-width="1.15"/>
<path d="M175.83 604.45L190 604.45" stroke="#1e1e1e" stroke-width="1.15"/>
<path d="M175.83 605.16L190 605.16" stroke="#1e1e1e" stroke-width="1.15"/>
<path d="M178.94 606.96L178.94 607.7" stroke="#1e1e1e" stroke-width="1.15"/>
<path d="M178.94 606.96L190 606.96" stroke="#1e1e1e" stroke-width="1.15"/>
<path d="M178.94 607.7L190 607.7" stroke="#1e1e1e" stroke-width="1.15"/>
<path d="M176.19 606.09L176.19 607.33" stroke="#1e1e1e" stroke-width="1.15"/>
<path d="M176.19 606.09L190 606.09" stroke="#1e1e1e" stroke-width="1.15"/>
<path d="M176.19 607.33L178.94 607.33" stroke="#1e1e1e" stroke-width="1.15"/>
<path d="M173.81 604.81L173.81 606.71" stroke="#1e1e1e" stroke-width="1.15"/>
<path d="M173.81 604.81L175.83 604.81" stroke="#1e1e1e" stroke-width="1.15"/>
<path d="M173.81 606.71L176.19 606.71" stroke="#1e1e1e" stroke-width="1.15"/>
<path d="M171.21 603.03L171.21 605.76" stroke="#1e1e1e" stroke-width="1.15"/>
<path d="M171.21 603.03L176.41 603.03" stroke="#1e1e1e" stroke-width="1.15"/>
<path d="M171.21 605.76L173.81 605.76" stroke="#1e1e1e" stroke-width="1.15"/>
<path d="M163.36 599.64L163.36 604.4" stroke="#1e1e1e" stroke-width="1.15"/>
<path d="M163.36 599.64L167.44 599.64" stroke="#1e1e1e" stroke-width="1.15"/>
<path d="M163.36 604.4L171.21 604.4" stroke="#1e1e1e" stroke-width="1.15"/>
<path d="M156.51 593.2L156.51 602.02" stroke="#2a2a2a" stroke-width="1.15"/>
<path d="M156.51 593.2L166.29 593.2" stroke="#2a2a2a" stroke-width="1.15"/>
<path d="M156.51 602.02L163.36 602.02" stroke="#2a2a2a" stroke-width="1.15"/>
<path d="M178.15 609.19L178.15 609.95" stroke="#1e1e1e" stroke-width="1.15"/>
<path d="M178.15 609.19L190 609.19" stroke="#1e1e1e" stroke-width="1.15"/>
<path d="M178.15 609.95L190 609.95" stroke="#1e1e1e" stroke-width="1.15"/>
<path d="M177.24 608.36L177.24 609.57" stroke="#1e1e1e" stroke-width="1.15"/>
<path d="M177.24 608.36L190 608.36" stroke="#1e1e1e" stroke-width="1.15"/>
<path d="M177.24 609.57L178.15 609.57" stroke="#1e1e1e" stroke-width="1.15"/>
<path d="M180.18 610.51L180.18 611.18" stroke="#1e1e1e" stroke-width="1.15"/>
<path d="M180.18 610.51L190 610.51" stroke="#1e1e1e" stroke-width="1.15"/>
<path d="M180.18 611.18L190 611.18" stroke="#1e1e1e" stroke-width="1.15"/>
<path d="M180.47 611.93L180.47 612.72" stroke="#1e1e1e" stroke-width="1.15"/>
<path d="M180.47 611.93L190 611.93" stroke="#1e1e1e" stroke-width="1.15"/>
<path d="M180.47 612.72L190 612.72" stroke="#1e1e1e" stroke-width="1.15"/>
<path d="M176.92 610.85L176.92 612.32" stroke="#1e1e1e" stroke-width="1.15"/>
<path d="M176.92 610.85L180.18 610.85" stroke="#1e1e1e" stroke-width="1.15"/>
<path d="M176.92 612.32L180.47 612.32" stroke="#1e1e1e" stroke-width="1.15"/>
<path d="M182.21 613.41L182.21 613.98" stroke="#1e1e1e" stroke-width="1.15"/>
<path d="M182.21 613.41L190 613.41" stroke="#1e1e1e" stroke-width="1.15"/>
<path d="M182.21 613.98L190 613.98" stroke="#1e1e1e" stroke-width="1.15"/>
<path d="M179.3 613.7L179.3 614.67" stroke="#1e1e1e" stroke-width="1.15"/>
<path d="M179.3 613.7L182.21 613.7" stroke="#1e1e1e" stroke-width="1.15"/>
<path d="M179.3 614.67L190 614.67" stroke="#1e1e1e" stroke-width="1.15"/>
<path d="M176.02 611.58L176.02 614.18" stroke="#1e1e1e" stroke-width="1.15"/>
<path d="M176.02 611.58L176.92 611.58" stroke="#1e1e1e" stroke-width="1.15"/>
<path d="M176.02 614.18L179.3 614.18" stroke="#1e1e1e" stroke-width="1.15"/>
<path d="M172.3 608.96L172.3 612.88" stroke="#1e1e1e" stroke-width="1.15"/>
<path d="M172.3 608.96L177.24 608.96" stroke="#1e1e1e" stroke-width="1.15"/>
<path d="M172.3 612.88L176.02 612.88" stroke="#1e1e1e" stroke-width="1.15"/>
<path d="M173.77 616.1L173.77 616.72" stroke="#1e1e1e" stroke-width="1.15"/>
<path d="M173.77 616.1L190 616.1" stroke="#1e1e1e" stroke-width="1.15"/>
<path d="M173.77 616.72L190 616.72" stroke="#1e1e1e" stroke-width="1.15"/>
<path d="M172.87 615.4L172.87 616.41" stroke="#1e1e1e" stroke-width="1.15"/>
<path d="M172.87 615.4L190 615.4" stroke="#1e1e1e" stroke-width="1.15"/>
<path d="M172.87 616.41L173.77 616.41" stroke="#1e1e1e" stroke-width="1.15"/>
<path d="M179.89 617.28L179.89 617.83" stroke="#1e1e1e" stroke-width="1.15"/>
<path d="M179.89 617.28L190 617.28" stroke="#1e1e1e" stroke-width="1.15"/>
<path d="M179.89 617.83L190 617.83" stroke="#1e1e1e" stroke-width="1.15"/>
<path d="M178.53 618.33L178.53 618.85" stroke="#1e1e1e" stroke-width="1.15"/>
<path d="M178.53 618.33L190 618.33" stroke="#1e1e1e" stroke-width="1.15"/>
<path d="M178.53 618.85L190 618.85" stroke="#1e1e1e" stroke-width="1.15"/>
<path d="M175.32 617.56L175.32 618.59" stroke="#1e1e1e" stroke-width="1.15"/>
<path d="M175.32 617.56L179.89 617.56" stroke="#1e1e1e" stroke-width="1.15"/>
<path d="M175.32 618.59L178.53 618.59" stroke="#1e1e1e" stroke-width="1.15"/>
<path d="M169.03 615.91L169.03 618.07" stroke="#1e1e1e" stroke-width="1.15"/>
<path d="M169.03 615.91L172.87 615.91" stroke="#1e1e1e" stroke-width="1.15"/>
<path d="M169.03 618.07L175.32 618.07" stroke="#1e1e1e" stroke-width="1.15"/>
<path d="M166.17 610.92L166.17 616.99" stroke="#1e1e1e" stroke-width="1.15"/>
<path d="M166.17 610.92L172.3 610.92" stroke="#1e1e1e" stroke-width="1.15"/>
<path d="M166.17 616.99L169.03 616.99" stroke="#1e1e1e" stroke-width="1.15"/>
<path d="M171.75 619.37L171.75 619.87" stroke="#1e1e1e" stroke-width="1.15"/>
<path d="M171.75 619.37L190 619.37" stroke="#1e1e1e" stroke-width="1.15"/>
<path d="M171.75 619.87L190 619.87" stroke="#1e1e1e" stroke-width="1.15"/>
<path d="M168.15 619.62L168.15 620.65" stroke="#1e1e1e" stroke-width="1.15"/>
<path d="M168.15 619.62L171.75 619.62" stroke="#1e1e1e" stroke-width="1.15"/>
<path d="M168.15 620.65L190 620.65" stroke="#1e1e1e" stroke-width="1.15"/>
<path d="M168.18 621.41L168.18 622.17" stroke="#1e1e1e" stroke-width="1.15"/>
<path d="M168.18 621.41L190 621.41" stroke="#1e1e1e" stroke-width="1.15"/>
<path d="M168.18 622.17L190 622.17" stroke="#1e1e1e" stroke-width="1.15"/>
<path d="M165.55 620.13L165.55 621.79" stroke="#1e1e1e" stroke-width="1.15"/>
<path d="M165.55 620.13L168.15 620.13" stroke="#1e1e1e" stroke-width="1.15"/>
<path d="M165.55 621.79L168.18 621.79" stroke="#1e1e1e" stroke-width="1.15"/>
<path d="M177.39 622.92L177.39 623.47" stroke="#1e1e1e" stroke-width="1.15"/>
<path d="M177.39 622.92L190 622.92" stroke="#1e1e1e" stroke-width="1.15"/>
<path d="M177.39 623.47L190 623.47" stroke="#1e1e1e" stroke-width="1.15"/>
<path d="M178.9 624.64L178.9 625.26" stroke="#1e1e1e" stroke-width="1.15"/>
<path d="M178.9 624.64L190 624.64" stroke="#1e1e1e" stroke-width="1.15"/>
<path d="M178.9 625.26L190 625.26" stroke="#1e1e1e" stroke-width="1.15"/>
<path d="M177.08 624.08L177.08 624.95" stroke="#1e1e1e" stroke-width="1.15"/>
<path d="M177.08 624.08L190 624.08" stroke="#1e1e1e" stroke-width="1.15"/>
<path d="M177.08 624.95L178.9 624.95" stroke="#1e1e1e" stroke-width="1.15"/>
<path d="M173.7 623.19L173.7 624.51" stroke="#1e1e1e" stroke-width="1.15"/>
<path d="M173.7 623.19L177.39 623.19" stroke="#1e1e1e" stroke-width="1.15"/>
<path d="M173.7 624.51L177.08 624.51" stroke="#1e1e1e" stroke-width="1.15"/>
<path d="M177.4 626.5L177.4 627.06" stroke="#1e1e1e" stroke-width="1.15"/>
<path d="M177.4 626.5L190 626.5" stroke="#1e1e1e" stroke-width="1.15"/>
<path d="M177.4 627.06L190 627.06" stroke="#1e1e1e" stroke-width="1.15"/>
<path d="M174.9 625.98L174.9 626.78" stroke="#1e1e1e" stroke-width="1.15"/>
<path d="M174.9 625.98L190 625.98" stroke="#1e1e1e" stroke-width="1.15"/>
<path d="M174.9 626.78L177.4 626.78" stroke="#1e1e1e" stroke-width="1.15"/>
<path d="M169.78 623.85L169.78 626.38" stroke="#1e1e1e" stroke-width="1.15"/>
<path d="M169.78 623.85L173.7 623.85" stroke="#1e1e1e" stroke-width="1.15"/>
<path d="M169.78 626.38L174.9 626.38" stroke="#1e1e1e" stroke-width="1.15"/>
<path d="M163.47 620.96L163.47 625.12" stroke="#1e1e1e" stroke-width="1.15"/>
<path d="M163.47 620.96L165.55 620.96" stroke="#1e1e1e" stroke-width="1.15"/>
<path d="M163.47 625.12L169.78 625.12" stroke="#1e1e1e" stroke-width="1.15"/>
<path d="M162.36 613.96L162.36 623.04" stroke="#2a2a2a" stroke-width="1.15"/>
<path d="M162.36 613.96L166.17 613.96" stroke="#2a2a2a" stroke-width="1.15"/>
<path d="M162.36 623.04L163.47 623.04" stroke="#2a2a2a" stroke-width="1.15"/>
<path d="M153.73 597.61L153.73 618.5" stroke="#2a2a2a" stroke-width="1.15"/>
<path d="M153.73 597.61L156.51 597.61" stroke="#2a2a2a" stroke-width="1.15"/>
<path d="M153.73 618.5L162.36 618.5" stroke="#2a2a2a" stroke-width="1.15"/>
<path d="M173.05 628.63L173.05 629.43" stroke="#1e1e1e" stroke-width="1.15"/>
<path d="M173.05 628.63L190 628.63" stroke="#1e1e1e" stroke-width="1.15"/>
<path d="M173.05 629.43L190 629.43" stroke="#1e1e1e" stroke-width="1.15"/>
<path d="M165.27 627.82L165.27 629.03" stroke="#1e1e1e" stroke-width="1.15"/>
<path d="M165.27 627.82L190 627.82" stroke="#1e1e1e" stroke-width="1.15"/>
<path d="M165.27 629.03L173.05 629.03" stroke="#1e1e1e" stroke-width="1.15"/>
<path d="M170.78 631.08L170.78 631.98" stroke="#1e1e1e" stroke-width="1.15"/>
<path d="M170.78 631.08L190 631.08" stroke="#1e1e1e" stroke-width="1.15"/>
<path d="M170.78 631.98L190 631.98" stroke="#1e1e1e" stroke-width="1.15"/>
<path d="M165.35 630.19L165.35 631.53" stroke="#1e1e1e" stroke-width="1.15"/>
<path d="M165.35 630.19L190 630.19" stroke="#1e1e1e" stroke-width="1.15"/>
<path d="M165.35 631.53L170.78 631.53" stroke="#1e1e1e" stroke-width="1.15"/>
<path d="M170.43 632.56L170.43 633.13" stroke="#1e1e1e" stroke-width="1.15"/>
<path d="M170.43 632.56L190 632.56" stroke="#1e1e1e" stroke-width="1.15"/>
<path d="M170.43 633.13L190 633.13" stroke="#1e1e1e" stroke-width="1.15"/>
<path d="M169.77 633.89L169.77 634.75" stroke="#1e1e1e" stroke-width="1.15"/>
<path d="M169.77 633.89L190 633.89" stroke="#1e1e1e" stroke-width="1.15"/>
<path d="M169.77 634.75L190 634.75" stroke="#1e1e1e" stroke-width="1.15"/>
<path d="M168.04 632.85L168.04 634.32" stroke="#1e1e1e" stroke-width="1.15"/>
<path d="M168.04 632.85L170.43 632.85" stroke="#1e1e1e" stroke-width="1.15"/>
<path d="M168.04 634.32L169.77 634.32" stroke="#1e1e1e" stroke-width="1.15"/>
<path d="M162.82 630.86L162.82 633.58" stroke="#1e1e1e" stroke-width="1.15"/>
<path d="M162.82 630.86L165.35 630.86" stroke="#1e1e1e" stroke-width="1.15"/>
<path d="M162.82 633.58L168.04 633.58" stroke="#1e1e1e" stroke-width="1.15"/>
<path d="M153.75 628.42L153.75 632.22" stroke="#2a2a2a" stroke-width="1.15"/>
<path d="M153.75 628.42L165.27 628.42" stroke="#2a2a2a" stroke-width="1.15"/>
<path d="M153.75 632.22L162.82 632.22" stroke="#2a2a2a" stroke-width="1.15"/>
<path d="M172.72 635.6L172.72 636.42" stroke="#1e1e1e" stroke-width="1.15"/>
<path d="M172.72 635.6L190 635.6" stroke="#1e1e1e" stroke-width="1.15"/>
<path d="M172.72 636.42L190 636.42" stroke="#1e1e1e" stroke-width="1.15"/>
<path d="M177.62 638.06L177.62 638.66" stroke="#1e1e1e" stroke-width="1.15"/>
<path d="M177.62 638.06L190 638.06" stroke="#1e1e1e" stroke-width="1.15"/>
<path d="M177.62 638.66L190 638.66" stroke="#1e1e1e" stroke-width="1.15"/>
<path d="M176.14 637.38L176.14 638.36" stroke="#1e1e1e" stroke-width="1.15"/>
<path d="M176.14 637.38L190 637.38" stroke="#1e1e1e" stroke-width="1.15"/>
<path d="M176.14 638.36L177.62 638.36" stroke="#1e1e1e" stroke-width="1.15"/>
<path d="M170.98 636.01L170.98 637.87" stroke="#1e1e1e" stroke-width="1.15"/>
<path d="M170.98 636.01L172.72 636.01" stroke="#1e1e1e" stroke-width="1.15"/>
<path d="M170.98 637.87L176.14 637.87" stroke="#1e1e1e" stroke-width="1.15"/>
<path d="M177.68 639.25L177.68 639.77" stroke="#1e1e1e" stroke-width="1.15"/>
<path d="M177.68 639.25L190 639.25" stroke="#1e1e1e" stroke-width="1.15"/>
<path d="M177.68 639.77L190 639.77" stroke="#1e1e1e" stroke-width="1.15"/>
<path d="M175.01 639.51L175.01 640.33" stroke="#1e1e1e" stroke-width="1.15"/>
<path d="M175.01 639.51L177.68 639.51" stroke="#1e1e1e" stroke-width="1.15"/>
<path d="M175.01 640.33L190 640.33" stroke="#1e1e1e" stroke-width="1.15"/>
<path d="M170.34 639.92L170.34 641.02" stroke="#1e1e1e" stroke-width="1.15"/>
<path d="M170.34 639.92L175.01 639.92" stroke="#1e1e1e" stroke-width="1.15"/>
<path d="M170.34 641.02L190 641.02" stroke="#1e1e1e" stroke-width="1.15"/>
<path d="M163.86 636.94L163.86 640.47" stroke="#1e1e1e" stroke-width="1.15"/>
<path d="M163.86 636.94L170.98 636.94" stroke="#1e1e1e" stroke-width="1.15"/>
<path d="M163.86 640.47L170.34 640.47" stroke="#1e1e1e" stroke-width="1.15"/>
<path d="M163.86 641.75L163.86 642.34" stroke="#1e1e1e" stroke-width="1.15"/>
<path d="M163.86 641.75L190 641.75" stroke="#1e1e1e" stroke-width="1.15"/>
<path d="M163.86 642.34L190 642.34" stroke="#1e1e1e" stroke-width="1.15"/>
<path d="M161.76 643.86L161.76 644.67" stroke="#1e1e1e" stroke-width="1.15"/>
<path d="M161.76 643.86L190 643.86" stroke="#1e1e1e" stroke-width="1.15"/>
<path d="M161.76 644.67L190 644.67" stroke="#1e1e1e" stroke-width="1.15"/>
<path d="M158.86 643.02L158.86 644.27" stroke="#1e1e1e" stroke-width="1.15"/>
<path d="M158.86 643.02L190 643.02" stroke="#1e1e1e" stroke-width="1.15"/>
<path d="M158.86 644.27L161.76 644.27" stroke="#1e1e1e" stroke-width="1.15"/>
<path d="M155.93 642.04L155.93 643.64" stroke="#1e1e1e" stroke-width="1.15"/>
<path d="M155.93 642.04L163.86 642.04" stroke="#1e1e1e" stroke-width="1.15"/>
<path d="M155.93 643.64L158.86 643.64" stroke="#1e1e1e" stroke-width="1.15"/>
<path d="M152.68 638.71L152.68 642.84" stroke="#2a2a2a" stroke-width="1.15"/>
<path d="M152.68 638.71L163.86 638.71" stroke="#2a2a2a" stroke-width="1.15"/>
<path d="M152.68 642.84L155.93 642.84" stroke="#2a2a2a" stroke-width="1.15"/>
<path d="M150.29 630.32L150.29 640.77" stroke="#2a2a2a" stroke-width="1.15"/>
<path d="M150.29 630.32L153.75 630.32" stroke="#2a2a2a" stroke-width="1.15"/>
<path d="M150.29 640.77L152.68 640.77" stroke="#2a2a2a" stroke-width="1.15"/>
<path d="M145.7 608.05L145.7 635.55" stroke="#2a2a2a" stroke-width="1.15"/>
<path d="M145.7 608.05L153.73 608.05" stroke="#2a2a2a" stroke-width="1.15"/>
<path d="M145.7 635.55L150.29 635.55" stroke="#2a2a2a" stroke-width="1.15"/>
<path d="M175.13 645.33L175.13 645.93" stroke="#1e1e1e" stroke-width="1.15"/>
<path d="M175.13 645.33L190 645.33" stroke="#1e1e1e" stroke-width="1.15"/>
<path d="M175.13 645.93L190 645.93" stroke="#1e1e1e" stroke-width="1.15"/>
<path d="M175.61 646.43L175.61 647.1" stroke="#1e1e1e" stroke-width="1.15"/>
<path d="M175.61 646.43L190 646.43" stroke="#1e1e1e" stroke-width="1.15"/>
<path d="M175.61 647.1L190 647.1" stroke="#1e1e1e" stroke-width="1.15"/>
<path d="M172.81 645.63L172.81 646.76" stroke="#2a2a2a" stroke-width="1.15"/>
<path d="M172.81 645.63L175.13 645.63" stroke="#2a2a2a" stroke-width="1.15"/>
<path d="M172.81 646.76L175.61 646.76" stroke="#2a2a2a" stroke-width="1.15"/>
<path d="M177.02 648.58L177.02 649.21" stroke="#1e1e1e" stroke-width="1.15"/>
<path d="M177.02 648.58L190 648.58" stroke="#1e1e1e" stroke-width="1.15"/>
<path d="M177.02 649.21L190 649.21" stroke="#1e1e1e" stroke-width="1.15"/>
<path d="M174.38 647.84L174.38 648.89" stroke="#1e1e1e" stroke-width="1.15"/>
<path d="M174.38 647.84L190 647.84" stroke="#1e1e1e" stroke-width="1.15"/>
<path d="M174.38 648.89L177.02 648.89" stroke="#1e1e1e" stroke-width="1.15"/>
<path d="M178.68 649.77L178.68 650.35" stroke="#1e1e1e" stroke-width="1.15"/>
<path d="M178.68 649.77L190 649.77" stroke="#1e1e1e" stroke-width="1.15"/>
<path d="M178.68 650.35L190 650.35" stroke="#1e1e1e" stroke-width="1.15"/>
<path d="M173.61 650.06L173.61 650.84" stroke="#1e1e1e" stroke-width="1.15"/>
<path d="M173.61 650.06L178.68 650.06" stroke="#1e1e1e" stroke-width="1.15"/>
<path d="M173.61 650.84L190 650.84" stroke="#1e1e1e" stroke-width="1.15"/>
<path d="M171.9 648.36L171.9 650.45" stroke="#2a2a2a" stroke-width="1.15"/>
<path d="M171.9 648.36L174.38 648.36" stroke="#2a2a2a" stroke-width="1.15"/>
<path d="M171.9 650.45L173.61 650.45" stroke="#2a2a2a" stroke-width="1.15"/>
<path d="M167.81 646.2L167.81 649.41" stroke="#2a2a2a" stroke-width="1.15"/>
<path d="M167.81 646.2L172.81 646.2" stroke="#2a2a2a" stroke-width="1.15"/>
<path d="M167.81 649.41L171.9 649.41" stroke="#2a2a2a" stroke-width="1.15"/>
<path d="M171.74 651.36L171.74 651.99" stroke="#1e1e1e" stroke-width="1.15"/>
<path d="M171.74 651.36L190 651.36" stroke="#1e1e1e" stroke-width="1.15"/>
<path d="M171.74 651.99L190 651.99" stroke="#1e1e1e" stroke-width="1.15"/>
<path d="M167.88 651.68L167.88 652.65" stroke="#2a2a2a" stroke-width="1.15"/>
<path d="M167.88 651.68L171.74 651.68" stroke="#2a2a2a" stroke-width="1.15"/>
<path d="M167.88 652.65L190 652.65" stroke="#2a2a2a" stroke-width="1.15"/>
<path d="M174.46 653.69L174.46 654.22" stroke="#1e1e1e" stroke-width="1.15"/>
<path d="M174.46 653.69L190 653.69" stroke="#1e1e1e" stroke-width="1.15"/>
<path d="M174.46 654.22L190 654.22" stroke="#1e1e1e" stroke-width="1.15"/>
<path d="M169.82 653.19L169.82 653.95" stroke="#2a2a2a" stroke-width="1.15"/>
<path d="M169.82 653.19L190 653.19" stroke="#2a2a2a" stroke-width="1.15"/>
<path d="M169.82 653.95L174.46 653.95" stroke="#2a2a2a" stroke-width="1.15"/>
<path d="M164.77 652.17L164.77 653.57" stroke="#2a2a2a" stroke-width="1.15"/>
<path d="M164.77 652.17L167.88 652.17" stroke="#2a2a2a" stroke-width="1.15"/>
<path d="M164.77 653.57L169.82 653.57" stroke="#2a2a2a" stroke-width="1.15"/>
<path d="M160 647.8L160 655" stroke="#2a2a2a" stroke-width="1.15"/>
<path d="M160 647.8L167.81 647.8" stroke="#2a2a2a" stroke-width="1.15"/>
<path d="M160 652.87L164.77 652.87" stroke="#2a2a2a" stroke-width="1.15"/>
<path d="M177.21 654.72L177.21 655.35" stroke="#2a2a2a" stroke-width="1.15"/>
<path d="M177.21 654.72L190 654.72" stroke="#2a2a2a" stroke-width="1.15"/>
<path d="M177.21 655.35L190 655.35" stroke="#2a2a2a" stroke-width="1.15"/>
<path d="M176.46 656.08L176.46 656.68" stroke="#2a2a2a" stroke-width="1.15"/>
<path d="M176.46 656.08L190 656.08" stroke="#2a2a2a" stroke-width="1.15"/>
<path d="M176.46 656.68L190 656.68" stroke="#2a2a2a" stroke-width="1.15"/>
<path d="M174.05 655.03L174.05 656.38" stroke="#2a2a2a" stroke-width="1.15"/>
<path d="M174.05 655.03L177.21 655.03" stroke="#2a2a2a" stroke-width="1.15"/>
<path d="M174.05 656.38L176.46 656.38" stroke="#2a2a2a" stroke-width="1.15"/>
<path d="M174.25 657.21L174.25 657.82" stroke="#2a2a2a" stroke-width="1.15"/>
<path d="M174.25 657.21L190 657.21" stroke="#2a2a2a" stroke-width="1.15"/>
<path d="M174.25 657.82L190 657.82" stroke="#2a2a2a" stroke-width="1.15"/>
<path d="M177.29 659.17L177.29 659.73" stroke="#1e1e1e" stroke-width="1.15"/>
<path d="M177.29 659.17L190 659.17" stroke="#1e1e1e" stroke-width="1.15"/>
<path d="M177.29 659.73L190 659.73" stroke="#1e1e1e" stroke-width="1.15"/>
<path d="M176.31 658.54L176.31 659.45" stroke="#2a2a2a" stroke-width="1.15"/>
<path d="M176.31 658.54L190 658.54" stroke="#2a2a2a" stroke-width="1.15"/>
<path d="M176.31 659.45L177.29 659.45" stroke="#2a2a2a" stroke-width="1.15"/>
<path d="M173.13 657.52L173.13 658.99" stroke="#2a2a2a" stroke-width="1.15"/>
<path d="M173.13 657.52L174.25 657.52" stroke="#2a2a2a" stroke-width="1.15"/>
<path d="M173.13 658.99L176.31 658.99" stroke="#2a2a2a" stroke-width="1.15"/>
<path d="M170 655.71L170 658.26" stroke="#2a2a2a" stroke-width="1.15"/>
<path d="M170 655.71L174.05 655.71" stroke="#2a2a2a" stroke-width="1.15"/>
<path d="M170 658.26L173.13 658.26" stroke="#2a2a2a" stroke-width="1.15"/>
<path d="M158.14 660.29L158.14 660.93" stroke="#1e1e1e" stroke-width="1.15"/>
<path d="M158.14 660.29L190 660.29" stroke="#1e1e1e" stroke-width="1.15"/>
<path d="M158.14 660.93L190 660.93" stroke="#1e1e1e" stroke-width="1.15"/>
<path d="M155.79 660.61L155.79 661.72" stroke="#1e1e1e" stroke-width="1.15"/>
<path d="M155.79 660.61L158.14 660.61" stroke="#1e1e1e" stroke-width="1.15"/>
<path d="M155.79 661.72L190 661.72" stroke="#1e1e1e" stroke-width="1.15"/>
<path d="M164.83 662.54L164.83 663.25" stroke="#1e1e1e" stroke-width="1.15"/>
<path d="M164.83 662.54L190 662.54" stroke="#1e1e1e" stroke-width="1.15"/>
<path d="M164.83 663.25L190 663.25" stroke="#1e1e1e" stroke-width="1.15"/>
<path d="M153.13 661.16L153.13 662.89" stroke="#2a2a2a" stroke-width="1.15"/>
<path d="M153.13 661.16L155.79 661.16" stroke="#2a2a2a" stroke-width="1.15"/>
<path d="M153.13 662.89L164.83 662.89" stroke="#2a2a2a" stroke-width="1.15"/>
<path d="M157.18 663.86L157.18 664.46" stroke="#1e1e1e" stroke-width="1.15"/>
<path d="M157.18 663.86L190 663.86" stroke="#1e1e1e" stroke-width="1.15"/>
<path d="M157.18 664.46L190 664.46" stroke="#1e1e1e" stroke-width="1.15"/>
<path d="M155.23 664.16L155.23 665.17" stroke="#2a2a2a" stroke-width="1.15"/>
<path d="M155.23 664.16L157.18 664.16" stroke="#2a2a2a" stroke-width="1.15"/>
<path d="M155.23 665.17L190 665.17" stroke="#2a2a2a" stroke-width="1.15"/>
<path d="M144.25 662.03L144.25 664.67" stroke="#2a2a2a" stroke-width="1.15"/>
<path d="M144.25 662.03L153.13 662.03" stroke="#2a2a2a" stroke-width="1.15"/>
<path d="M144.25 664.67L155.23 664.67" stroke="#2a2a2a" stroke-width="1.15"/>
<path d="M164.61 665.94L164.61 666.52" stroke="#1e1e1e" stroke-width="1.15"/>
<path d="M164.61 665.94L190 665.94" stroke="#1e1e1e" stroke-width="1.15"/>
<path d="M164.61 666.52L190 666.52" stroke="#1e1e1e" stroke-width="1.15"/>
<path d="M161.93 667.15L161.93 667.81" stroke="#1e1e1e" stroke-width="1.15"/>
<path d="M161.93 667.15L190 667.15" stroke="#1e1e1e" stroke-width="1.15"/>
<path d="M161.93 667.81L190 667.81" stroke="#1e1e1e" stroke-width="1.15"/>
<path d="M154.29 666.23L154.29 667.48" stroke="#2a2a2a" stroke-width="1.15"/>
<path d="M154.29 666.23L164.61 666.23" stroke="#2a2a2a" stroke-width="1.15"/>
<path d="M154.29 667.48L161.93 667.48" stroke="#2a2a2a" stroke-width="1.15"/>
<path d="M168.55 668.36L168.55 668.91" stroke="#1e1e1e" stroke-width="1.15"/>
<path d="M168.55 668.36L190 668.36" stroke="#1e1e1e" stroke-width="1.15"/>
<path d="M168.55 668.91L190 668.91" stroke="#1e1e1e" stroke-width="1.15"/>
<path d="M166.83 668.64L166.83 669.45" stroke="#1e1e1e" stroke-width="1.15"/>
<path d="M166.83 668.64L168.55 668.64" stroke="#1e1e1e" stroke-width="1.15"/>
<path d="M166.83 669.45L190 669.45" stroke="#1e1e1e" stroke-width="1.15"/>
<path d="M167.73 670.87L167.73 671.63" stroke="#1e1e1e" stroke-width="1.15"/>
<path d="M167.73 670.87L190 670.87" stroke="#1e1e1e" stroke-width="1.15"/>
<path d="M167.73 671.63L190 671.63" stroke="#1e1e1e" stroke-width="1.15"/>
<path d="M166.1 670.12L166.1 671.25" stroke="#1e1e1e" stroke-width="1.15"/>
<path d="M166.1 670.12L190 670.12" stroke="#1e1e1e" stroke-width="1.15"/>
<path d="M166.1 671.25L167.73 671.25" stroke="#1e1e1e" stroke-width="1.15"/>
<path d="M158.95 669.04L158.95 670.69" stroke="#2a2a2a" stroke-width="1.15"/>
<path d="M158.95 669.04L166.83 669.04" stroke="#2a2a2a" stroke-width="1.15"/>
<path d="M158.95 670.69L166.1 670.69" stroke="#2a2a2a" stroke-width="1.15"/>
<path d="M149.24 666.85L149.24 669.87" stroke="#2a2a2a" stroke-width="1.15"/>
<path d="M149.24 666.85L154.29 666.85" stroke="#2a2a2a" stroke-width="1.15"/>
<path d="M149.24 669.87L158.95 669.87" stroke="#2a2a2a" stroke-width="1.15"/>
<path d="M141.3 663.35L141.3 668.36" stroke="#2a2a2a" stroke-width="1.15"/>
<path d="M141.3 663.35L144.25 663.35" stroke="#2a2a2a" stroke-width="1.15"/>
<path d="M141.3 668.36L149.24 668.36" stroke="#2a2a2a" stroke-width="1.15"/>
<path d="M174.43 672.9L174.43 673.48" stroke="#1e1e1e" stroke-width="1.15"/>
<path d="M174.43 672.9L190 672.9" stroke="#1e1e1e" stroke-width="1.15"/>
<path d="M174.43 673.48L190 673.48" stroke="#1e1e1e" stroke-width="1.15"/>
<path d="M172.85 672.3L172.85 673.19" stroke="#1e1e1e" stroke-width="1.15"/>
<path d="M172.85 672.3L190 672.3" stroke="#1e1e1e" stroke-width="1.15"/>
<path d="M172.85 673.19L174.43 673.19" stroke="#1e1e1e" stroke-width="1.15"/>
<path d="M172.37 674.1L172.37 674.87" stroke="#1e1e1e" stroke-width="1.15"/>
<path d="M172.37 674.1L190 674.1" stroke="#1e1e1e" stroke-width="1.15"/>
<path d="M172.37 674.87L190 674.87" stroke="#1e1e1e" stroke-width="1.15"/>
<path d="M171.53 672.74L171.53 674.48" stroke="#2a2a2a" stroke-width="1.15"/>
<path d="M171.53 672.74L172.85 672.74" stroke="#2a2a2a" stroke-width="1.15"/>
<path d="M171.53 674.48L172.37 674.48" stroke="#2a2a2a" stroke-width="1.15"/>
<path d="M181.58 676.35L181.58 676.96" stroke="#1e1e1e" stroke-width="1.15"/>
<path d="M181.58 676.35L190 676.35" stroke="#1e1e1e" stroke-width="1.15"/>
<path d="M181.58 676.96L190 676.96" stroke="#1e1e1e" stroke-width="1.15"/>
<path d="M178.23 675.63L178.23 676.65" stroke="#1e1e1e" stroke-width="1.15"/>
<path d="M178.23 675.63L190 675.63" stroke="#1e1e1e" stroke-width="1.15"/>
<path d="M178.23 676.65L181.58 676.65" stroke="#1e1e1e" stroke-width="1.15"/>
<path d="M177.69 676.14L177.69 677.63" stroke="#1e1e1e" stroke-width="1.15"/>
<path d="M177.69 676.14L178.23 676.14" stroke="#1e1e1e" stroke-width="1.15"/>
<path d="M177.69 677.63L190 677.63" stroke="#1e1e1e" stroke-width="1.15"/>
<path d="M180.94 678.49L180.94 679.31" stroke="#1e1e1e" stroke-width="1.15"/>
<path d="M180.94 678.49L190 678.49" stroke="#1e1e1e" stroke-width="1.15"/>
<path d="M180.94 679.31L190 679.31" stroke="#1e1e1e" stroke-width="1.15"/>
<path d="M178.23 678.9L178.23 680.22" stroke="#1e1e1e" stroke-width="1.15"/>
<path d="M178.23 678.9L180.94 678.9" stroke="#1e1e1e" stroke-width="1.15"/>
<path d="M178.23 680.22L190 680.22" stroke="#1e1e1e" stroke-width="1.15"/>
<path d="M173.95 676.89L173.95 679.56" stroke="#2a2a2a" stroke-width="1.15"/>
<path d="M173.95 676.89L177.69 676.89" stroke="#2a2a2a" stroke-width="1.15"/>
<path d="M173.95 679.56L178.23 679.56" stroke="#2a2a2a" stroke-width="1.15"/>
<path d="M167.87 673.61L167.87 678.22" stroke="#2a2a2a" stroke-width="1.15"/>
<path d="M167.87 673.61L171.53 673.61" stroke="#2a2a2a" stroke-width="1.15"/>
<path d="M167.87 678.22L173.95 678.22" stroke="#2a2a2a" stroke-width="1.15"/>
<path d="M173.58 681.79L173.58 682.45" stroke="#1e1e1e" stroke-width="1.15"/>
<path d="M173.58 681.79L190 681.79" stroke="#1e1e1e" stroke-width="1.15"/>
<path d="M173.58 682.45L190 682.45" stroke="#1e1e1e" stroke-width="1.15"/>
<path d="M171.75 681.04L171.75 682.12" stroke="#2a2a2a" stroke-width="1.15"/>
<path d="M171.75 681.04L190 681.04" stroke="#2a2a2a" stroke-width="1.15"/>
<path d="M171.75 682.12L173.58 682.12" stroke="#2a2a2a" stroke-width="1.15"/>
<path d="M173.32 683.92L173.32 684.65" stroke="#1e1e1e" stroke-width="1.15"/>
<path d="M173.32 683.92L190 683.92" stroke="#1e1e1e" stroke-width="1.15"/>
<path d="M173.32 684.65L190 684.65" stroke="#1e1e1e" stroke-width="1.15"/>
<path d="M169.88 683.1L169.88 684.29" stroke="#2a2a2a" stroke-width="1.15"/>
<path d="M169.88 683.1L190 683.1" stroke="#2a2a2a" stroke-width="1.15"/>
<path d="M169.88 684.29L173.32 684.29" stroke="#2a2a2a" stroke-width="1.15"/>
<path d="M164.49 681.58L164.49 683.69" stroke="#2a2a2a" stroke-width="1.15"/>
<path d="M164.49 681.58L171.75 681.58" stroke="#2a2a2a" stroke-width="1.15"/>
<path d="M164.49 683.69L169.88 683.69" stroke="#2a2a2a" stroke-width="1.15"/>
<path d="M161.3 675.92L161.3 682.64" stroke="#2a2a2a" stroke-width="1.15"/>
<path d="M161.3 675.92L167.87 675.92" stroke="#2a2a2a" stroke-width="1.15"/>
<path d="M161.3 682.64L164.49 682.64" stroke="#2a2a2a" stroke-width="1.15"/>
<path d="M173.82 685.73L173.82 686.27" stroke="#1e1e1e" stroke-width="1.15"/>
<path d="M173.82 685.73L190 685.73" stroke="#1e1e1e" stroke-width="1.15"/>
<path d="M173.82 686.27L190 686.27" stroke="#1e1e1e" stroke-width="1.15"/>
<path d="M169.04 685.25L169.04 686" stroke="#2a2a2a" stroke-width="1.15"/>
<path d="M169.04 685.25L190 685.25" stroke="#2a2a2a" stroke-width="1.15"/>
<path d="M169.04 686L173.82 686" stroke="#2a2a2a" stroke-width="1.15"/>
<path d="M176.2 687.08L176.2 687.8" stroke="#1e1e1e" stroke-width="1.15"/>
<path d="M176.2 687.08L190 687.08" stroke="#1e1e1e" stroke-width="1.15"/>
<path d="M176.2 687.8L190 687.8" stroke="#1e1e1e" stroke-width="1.15"/>
<path d="M179.58 688.36L179.58 688.92" stroke="#1e1e1e" stroke-width="1.15"/>
<path d="M179.58 688.36L190 688.36" stroke="#1e1e1e" stroke-width="1.15"/>
<path d="M179.58 688.92L190 688.92" stroke="#1e1e1e" stroke-width="1.15"/>
<path d="M179.98 689.36L179.98 689.86" stroke="#1e1e1e" stroke-width="1.15"/>
<path d="M179.98 689.36L190 689.36" stroke="#1e1e1e" stroke-width="1.15"/>
<path d="M179.98 689.86L190 689.86" stroke="#1e1e1e" stroke-width="1.15"/>
<path d="M176 688.64L176 689.61" stroke="#1e1e1e" stroke-width="1.15"/>
<path d="M176 688.64L179.58 688.64" stroke="#1e1e1e" stroke-width="1.15"/>
<path d="M176 689.61L179.98 689.61" stroke="#1e1e1e" stroke-width="1.15"/>
<path d="M172.76 687.44L172.76 689.12" stroke="#2a2a2a" stroke-width="1.15"/>
<path d="M172.76 687.44L176.2 687.44" stroke="#2a2a2a" stroke-width="1.15"/>
<path d="M172.76 689.12L176 689.12" stroke="#2a2a2a" stroke-width="1.15"/>
<path d="M164.79 685.62L164.79 688.28" stroke="#2a2a2a" stroke-width="1.15"/>
<path d="M164.79 685.62L169.04 685.62" stroke="#2a2a2a" stroke-width="1.15"/>
<path d="M164.79 688.28L172.76 688.28" stroke="#2a2a2a" stroke-width="1.15"/>
<path d="M178.86 690.57L178.86 691.38" stroke="#1e1e1e" stroke-width="1.15"/>
<path d="M178.86 690.57L190 690.57" stroke="#1e1e1e" stroke-width="1.15"/>
<path d="M178.86 691.38L190 691.38" stroke="#1e1e1e" stroke-width="1.15"/>
<path d="M177.72 692.13L177.72 692.93" stroke="#1e1e1e" stroke-width="1.15"/>
<path d="M177.72 692.13L190 692.13" stroke="#1e1e1e" stroke-width="1.15"/>
<path d="M177.72 692.93L190 692.93" stroke="#1e1e1e" stroke-width="1.15"/>
<path d="M175.75 690.97L175.75 692.53" stroke="#1e1e1e" stroke-width="1.15"/>
<path d="M175.75 690.97L178.86 690.97" stroke="#1e1e1e" stroke-width="1.15"/>
<path d="M175.75 692.53L177.72 692.53" stroke="#1e1e1e" stroke-width="1.15"/>
<path d="M178.64 694.45L178.64 695.12" stroke="#1e1e1e" stroke-width="1.15"/>
<path d="M178.64 694.45L190 694.45" stroke="#1e1e1e" stroke-width="1.15"/>
<path d="M178.64 695.12L190 695.12" stroke="#1e1e1e" stroke-width="1.15"/>
<path d="M177.68 693.82L177.68 694.78" stroke="#1e1e1e" stroke-width="1.15"/>
<path d="M177.68 693.82L190 693.82" stroke="#1e1e1e" stroke-width="1.15"/>
<path d="M177.68 694.78L178.64 694.78" stroke="#1e1e1e" stroke-width="1.15"/>
<path d="M179.73 695.78L179.73 696.32" stroke="#1e1e1e" stroke-width="1.15"/>
<path d="M179.73 695.78L190 695.78" stroke="#1e1e1e" stroke-width="1.15"/>
<path d="M179.73 696.32L190 696.32" stroke="#1e1e1e" stroke-width="1.15"/>
<path d="M178.78 696.91L178.78 697.5" stroke="#1e1e1e" stroke-width="1.15"/>
<path d="M178.78 696.91L190 696.91" stroke="#1e1e1e" stroke-width="1.15"/>
<path d="M178.78 697.5L190 697.5" stroke="#1e1e1e" stroke-width="1.15"/>
<path d="M177.18 696.05L177.18 697.2" stroke="#1e1e1e" stroke-width="1.15"/>
<path d="M177.18 696.05L179.73 696.05" stroke="#1e1e1e" stroke-width="1.15"/>
<path d="M177.18 697.2L178.78 697.2" stroke="#1e1e1e" stroke-width="1.15"/>
<path d="M175.63 694.3L175.63 696.63" stroke="#1e1e1e" stroke-width="1.15"/>
<path d="M175.63 694.3L177.68 694.3" stroke="#1e1e1e" stroke-width="1.15"/>
<path d="M175.63 696.63L177.18 696.63" stroke="#1e1e1e" stroke-width="1.15"/>
<path d="M170.91 691.75L170.91 695.46" stroke="#2a2a2a" stroke-width="1.15"/>
<path d="M170.91 691.75L175.75 691.75" stroke="#2a2a2a" stroke-width="1.15"/>
<path d="M170.91 695.46L175.63 695.46" stroke="#2a2a2a" stroke-width="1.15"/>
<path d="M172.92 698.24L172.92 698.99" stroke="#1e1e1e" stroke-width="1.15"/>
<path d="M172.92 698.24L190 698.24" stroke="#1e1e1e" stroke-width="1.15"/>
<path d="M172.92 698.99L190 698.99" stroke="#1e1e1e" stroke-width="1.15"/>
<path d="M173.43 699.74L173.43 700.39" stroke="#1e1e1e" stroke-width="1.15"/>
<path d="M173.43 699.74L190 699.74" stroke="#1e1e1e" stroke-width="1.15"/>
<path d="M173.43 700.39L190 700.39" stroke="#1e1e1e" stroke-width="1.15"/>
<path d="M171.79 698.61L171.79 700.06" stroke="#1e1e1e" stroke-width="1.15"/>
<path d="M171.79 698.61L172.92 698.61" stroke="#1e1e1e" stroke-width="1.15"/>
<path d="M171.79 700.06L173.43 700.06" stroke="#1e1e1e" stroke-width="1.15"/>
<path d="M175.21 700.87L175.21 701.54" stroke="#1e1e1e" stroke-width="1.15"/>
<path d="M175.21 700.87L190 700.87" stroke="#1e1e1e" stroke-width="1.15"/>
<path d="M175.21 701.54L190 701.54" stroke="#1e1e1e" stroke-width="1.15"/>
<path d="M168.94 699.34L168.94 701.21" stroke="#2a2a2a" stroke-width="1.15"/>
<path d="M168.94 699.34L171.79 699.34" stroke="#2a2a2a" stroke-width="1.15"/>
<path d="M168.94 701.21L175.21 701.21" stroke="#2a2a2a" stroke-width="1.15"/>
<path d="M162.62 693.61L162.62 700.27" stroke="#2a2a2a" stroke-width="1.15"/>
<path d="M162.62 693.61L170.91 693.61" stroke="#2a2a2a" stroke-width="1.15"/>
<path d="M162.62 700.27L168.94 700.27" stroke="#2a2a2a" stroke-width="1.15"/>
<path d="M158.4 686.95L158.4 696.94" stroke="#2a2a2a" stroke-width="1.15"/>
<path d="M158.4 686.95L164.79 686.95" stroke="#2a2a2a" stroke-width="1.15"/>
<path d="M158.4 696.94L162.62 696.94" stroke="#2a2a2a" stroke-width="1.15"/>
<path d="M148.75 702.29L148.75 703.04" stroke="#2a2a2a" stroke-width="1.15"/>
<path d="M148.75 702.29L190 702.29" stroke="#2a2a2a" stroke-width="1.15"/>
<path d="M148.75 703.04L190 703.04" stroke="#2a2a2a" stroke-width="1.15"/>
<path d="M164.47 703.77L164.47 704.47" stroke="#1e1e1e" stroke-width="1.15"/>
<path d="M164.47 703.77L190 703.77" stroke="#1e1e1e" stroke-width="1.15"/>
<path d="M164.47 704.47L190 704.47" stroke="#1e1e1e" stroke-width="1.15"/>
<path d="M162.32 705.23L162.32 705.83" stroke="#1e1e1e" stroke-width="1.15"/>
<path d="M162.32 705.23L190 705.23" stroke="#1e1e1e" stroke-width="1.15"/>
<path d="M162.32 705.83L190 705.83" stroke="#1e1e1e" stroke-width="1.15"/>
<path d="M154.44 704.12L154.44 705.53" stroke="#2a2a2a" stroke-width="1.15"/>
<path d="M154.44 704.12L164.47 704.12" stroke="#2a2a2a" stroke-width="1.15"/>
<path d="M154.44 705.53L162.32 705.53" stroke="#2a2a2a" stroke-width="1.15"/>
<path d="M143.39 702.67L143.39 704.83" stroke="#2a2a2a" stroke-width="1.15"/>
<path d="M143.39 702.67L148.75 702.67" stroke="#2a2a2a" stroke-width="1.15"/>
<path d="M143.39 704.83L154.44 704.83" stroke="#2a2a2a" stroke-width="1.15"/>
<path d="M154.96 706.5L154.96 707.22" stroke="#1e1e1e" stroke-width="1.15"/>
<path d="M154.96 706.5L190 706.5" stroke="#1e1e1e" stroke-width="1.15"/>
<path d="M154.96 707.22L190 707.22" stroke="#1e1e1e" stroke-width="1.15"/>
<path d="M166.79 707.78L166.79 708.3" stroke="#1e1e1e" stroke-width="1.15"/>
<path d="M166.79 707.78L190 707.78" stroke="#1e1e1e" stroke-width="1.15"/>
<path d="M166.79 708.3L190 708.3" stroke="#1e1e1e" stroke-width="1.15"/>
<path d="M165.92 708.79L165.92 709.48" stroke="#1e1e1e" stroke-width="1.15"/>
<path d="M165.92 708.79L190 708.79" stroke="#1e1e1e" stroke-width="1.15"/>
<path d="M165.92 709.48L190 709.48" stroke="#1e1e1e" stroke-width="1.15"/>
<path d="M159.06 708.04L159.06 709.13" stroke="#1e1e1e" stroke-width="1.15"/>
<path d="M159.06 708.04L166.79 708.04" stroke="#1e1e1e" stroke-width="1.15"/>
<path d="M159.06 709.13L165.92 709.13" stroke="#1e1e1e" stroke-width="1.15"/>
<path d="M146.72 706.86L146.72 708.59" stroke="#2a2a2a" stroke-width="1.15"/>
<path d="M146.72 706.86L154.96 706.86" stroke="#2a2a2a" stroke-width="1.15"/>
<path d="M146.72 708.59L159.06 708.59" stroke="#2a2a2a" stroke-width="1.15"/>
<path d="M150.02 710.24L150.02 710.81" stroke="#1e1e1e" stroke-width="1.15"/>
<path d="M150.02 710.24L190 710.24" stroke="#1e1e1e" stroke-width="1.15"/>
<path d="M150.02 710.81L190 710.81" stroke="#1e1e1e" stroke-width="1.15"/>
<path d="M143.86 710.53L143.86 711.54" stroke="#2a2a2a" stroke-width="1.15"/>
<path d="M143.86 710.53L150.02 710.53" stroke="#2a2a2a" stroke-width="1.15"/>
<path d="M143.86 711.54L190 711.54" stroke="#2a2a2a" stroke-width="1.15"/>
<path d="M139.94 707.72L139.94 711.03" stroke="#2a2a2a" stroke-width="1.15"/>
<path d="M139.94 707.72L146.72 707.72" stroke="#2a2a2a" stroke-width="1.15"/>
<path d="M139.94 711.03L143.86 711.03" stroke="#2a2a2a" stroke-width="1.15"/>
<path d="M137.5 703.75L137.5 710.3" stroke="#2a2a2a" stroke-width="1.15"/>
<path d="M137.5 703.75L143.39 703.75" stroke="#2a2a2a" stroke-width="1.15"/>
<path d="M137.5 709.38L139.94 709.38" stroke="#2a2a2a" stroke-width="1.15"/>
<path d="M180.91 713.12L180.91 713.72" stroke="#2a2a2a" stroke-width="1.15"/>
<path d="M180.91 713.12L190 713.12" stroke="#2a2a2a" stroke-width="1.15"/>
<path d="M180.91 713.72L190 713.72" stroke="#2a2a2a" stroke-width="1.15"/>
<path d="M180.38 713.42L180.38 714.24" stroke="#2a2a2a" stroke-width="1.15"/>
<path d="M180.38 713.42L180.91 713.42" stroke="#2a2a2a" stroke-width="1.15"/>
<path d="M180.38 714.24L190 714.24" stroke="#2a2a2a" stroke-width="1.15"/>
<path d="M178 712.38L178 716.7" stroke="#2a2a2a" stroke-width="1.15"/>
<path d="M178 712.38L190 712.38" stroke="#2a2a2a" stroke-width="1.15"/>
<path d="M178 713.83L180.38 713.83" stroke="#2a2a2a" stroke-width="1.15"/>
<path d="M177.46 716.21L177.46 716.74" stroke="#2a2a2a" stroke-width="1.15"/>
<path d="M177.46 716.21L190 716.21" stroke="#2a2a2a" stroke-width="1.15"/>
<path d="M177.46 716.74L190 716.74" stroke="#2a2a2a" stroke-width="1.15"/>
<path d="M175.1 715.67L175.1 716.48" stroke="#2a2a2a" stroke-width="1.15"/>
<path d="M175.1 715.67L190 715.67" stroke="#2a2a2a" stroke-width="1.15"/>
<path d="M175.1 716.48L177.46 716.48" stroke="#2a2a2a" stroke-width="1.15"/>
<path d="M170 714.95L170 716.7" stroke="#2a2a2a" stroke-width="1.15"/>
<path d="M170 714.95L190 714.95" stroke="#2a2a2a" stroke-width="1.15"/>
<path d="M170 716.08L175.1 716.08" stroke="#2a2a2a" stroke-width="1.15"/>
</g>
<rect x="185.5" y="78.5" width="8.3" height="638.5" fill="#1a1a1a" />
<text transform="translate(668.62,81.4) scale(0.8086,1.0033)" font-size="26" font-weight="bold" fill="#0d0d0b">1</text>
<text transform="translate(668.03,749.37) scale(1.0229,1.0071)" font-size="25" font-weight="bold" fill="#0d0d0b">539</text>
<text transform="translate(690.56,445.81) rotate(-90) scale(0.9486,1.0894)" font-size="28" font-weight="bold" fill="#0d0d0b">Genes</text>
<defs><linearGradient id="cb" x1="0" x2="1" y1="0" y2="0"><stop offset="0" stop-color="#b4dc20"/><stop offset="0.12" stop-color="#8cc418"/><stop offset="0.33" stop-color="#4a6a24"/><stop offset="0.5" stop-color="#050505"/><stop offset="0.67" stop-color="#4a1838"/><stop offset="0.84" stop-color="#a82870"/><stop offset="1" stop-color="#ec1c8c"/></linearGradient></defs>
<rect x="236.2" y="772.6" width="115.4" height="18.8" fill="url(#cb)" />
<text transform="translate(227.63,766.6) scale(1.0383,1.0059)" font-size="17" font-weight="bold" fill="#0d0d0b">4</text>
<text transform="translate(334.88,766.6) scale(1.1208,1.0223)" font-size="17" font-weight="bold" fill="#0d0d0b">12</text>
<text transform="translate(158.81,812.3) scale(0.9971,1.0000)" font-size="20.06" font-weight="bold" fill="#0d0d0b">Signal intensity-based score</text>
<text transform="translate(763.49,146.7) scale(1.0347,1.0000)" font-size="32.27" font-weight="bold" fill="#d8261e">&gt; 1.7 fold (108)</text>
<text transform="translate(1061.08,146.7) scale(1.0356,1.0000)" font-size="32.27" font-weight="bold" fill="#0ca052">&lt; 0.6 fold (331)</text>
<text transform="translate(831.38,191.8) scale(0.9835,1.0000)" font-size="27.18" font-weight="bold" font-style="italic" fill="#d8261e">PACAP</text>
<rect x="922.1" y="169.75" width="8.7" height="1.9" fill="#d8261e" />
<rect x="935.9" y="169.75" width="8.9" height="1.9" fill="#d8261e" />
<line x1="931.2" y1="175.3" x2="937.5" y2="163.3" stroke="#d8261e" stroke-width="1.8" stroke-linecap="butt"/>
<text transform="translate(1128.49,191.8) scale(0.9662,1.0000)" font-size="27.18" font-weight="bold" font-style="italic" fill="#d8261e">PACAP</text>
<rect x="1219.1" y="169.95" width="9.2" height="1.9" fill="#d8261e" />
<rect x="1233.1" y="169.95" width="9.2" height="1.9" fill="#d8261e" />
<line x1="1227.6" y1="175.5" x2="1234.2" y2="163.8" stroke="#d8261e" stroke-width="1.8" stroke-linecap="butt"/>
<circle cx="880.3" cy="421.7" r="80" fill="none" stroke="#39299a" stroke-width="5" />
<circle cx="880.2" cy="332" r="47.5" fill="none" stroke="#d8261e" stroke-width="5" />
<circle cx="843.8" cy="437.5" r="35.2" fill="none" stroke="#9a32c0" stroke-width="4.6" stroke-dasharray="6.2 5.3"/>
<circle cx="1177.2" cy="432.6" r="146.5" fill="none" stroke="#39299a" stroke-width="5" />
<circle cx="1177" cy="288" r="71" fill="none" stroke="#d8261e" stroke-width="5" />
<text transform="translate(864.05,330.51) scale(1.0824,1.0332)" font-size="25" font-weight="bold" fill="#d8261e">28</text>
<text transform="translate(872.82,369.85) scale(1.0826,1.0457)" font-size="25" font-weight="bold" fill="#0d0d0b">9</text>
<text transform="translate(824.67,444.13) scale(1.1037,1.0826)" font-size="25" font-weight="bold" fill="#9a32c0">18</text>
<text transform="translate(911.35,444.46) scale(1.0574,1.1062)" font-size="25" font-weight="bold" fill="#39299a">89</text>
<text transform="translate(1162.01,271.37) scale(1.0929,1.0424)" font-size="25" font-weight="bold" fill="#d8261e">62</text>
<text transform="translate(1162.04,328.5) scale(1.0918,1.0145)" font-size="25" font-weight="bold" fill="#0d0d0b">27</text>
<text transform="translate(1154.85,439.12) scale(1.0758,1.0468)" font-size="25" font-weight="bold" fill="#39299a">296</text>
<text transform="translate(829.04,633) scale(0.9338,1.0000)" font-size="28.34" font-weight="bold" fill="#39299a">Wild type</text>
<text transform="translate(1126.84,632.5) scale(0.9605,1.0000)" font-size="27.62" font-weight="bold" fill="#39299a">Wild type</text>
<text transform="translate(123.9,894) scale(0.9130,1.0000)" font-size="34.59" font-weight="bold" fill="#0d0d0b">CT21</text>
<rect x="266.9" y="867.5" width="29.2" height="29.3" fill="#3c2a96" stroke="#0d0d0b" stroke-width="2.4"/>
<text transform="translate(306.04,893.1) scale(0.9947,1.0000)" font-size="29.94" font-weight="bold" fill="#0d0d0b">Wild type</text>
<rect x="459" y="867.5" width="28.6" height="29.3" fill="#db2a1c" stroke="#0d0d0b" stroke-width="2.4"/>
<text transform="translate(498.77,896.8) scale(0.9770,1.0000)" font-size="30.23" font-weight="bold" font-style="italic" fill="#0d0d0b">PACAP</text>
<rect x="601" y="873.2" width="12.7" height="2.4" fill="#0d0d0b" />
<rect x="620.1" y="873.2" width="12.8" height="2.4" fill="#0d0d0b" />
<line x1="613" y1="880.7" x2="622.6" y2="863.1" stroke="#0d0d0b" stroke-width="2.28" stroke-linecap="butt"/>
<text transform="translate(793.36,894) scale(0.9516,1.0000)" font-size="34.59" font-weight="bold" fill="#0d0d0b">CT15</text>
<rect x="921" y="867.5" width="29" height="29.3" fill="#3c2a96" stroke="#0d0d0b" stroke-width="2.4"/>
<text transform="translate(960.74,893.1) scale(0.9917,1.0000)" font-size="29.94" font-weight="bold" fill="#0d0d0b">Wild type</text>
<rect x="1113.4" y="867.5" width="28.8" height="29.3" fill="#db2a1c" stroke="#0d0d0b" stroke-width="2.4"/>
<text transform="translate(1152.65,896.9) scale(0.9907,1.0000)" font-size="30.38" font-weight="bold" font-style="italic" fill="#0d0d0b">PACAP</text>
<rect x="1255.4" y="873" width="12.6" height="2.4" fill="#0d0d0b" />
<rect x="1273.6" y="873" width="13.5" height="2.4" fill="#0d0d0b" />
<line x1="1267.3" y1="880.3" x2="1276.2" y2="864.2" stroke="#0d0d0b" stroke-width="2.28" stroke-linecap="butt"/>
<rect x="175.75" y="1181.65" width="44.9" height="53.75" fill="#3c2a96" stroke="#0d0d0b" stroke-width="3.1"/>
<rect x="220.75" y="1193.65" width="45.7" height="41.75" fill="#db2a1c" stroke="#0d0d0b" stroke-width="3.1"/>
<rect x="276.05" y="1124.95" width="45" height="110.45" fill="#3c2a96" stroke="#0d0d0b" stroke-width="3.1"/>
<rect x="321.15" y="1134.05" width="45.5" height="101.35" fill="#db2a1c" stroke="#0d0d0b" stroke-width="3.1"/>
<line x1="198.1" y1="1169.9" x2="198.1" y2="1181.1" stroke="#0d0d0b" stroke-width="2.8" />
<line x1="188.3" y1="1169.9" x2="207.3" y2="1169.9" stroke="#0d0d0b" stroke-width="3.4" />
<line x1="244.3" y1="1187.2" x2="244.3" y2="1193.1" stroke="#0d0d0b" stroke-width="2.8" />
<line x1="234" y1="1187.2" x2="253" y2="1187.2" stroke="#0d0d0b" stroke-width="3.4" />
<line x1="298" y1="1104.8" x2="298" y2="1124.4" stroke="#0d0d0b" stroke-width="2.8" />
<line x1="289" y1="1104.8" x2="307" y2="1104.8" stroke="#0d0d0b" stroke-width="3.4" />
<line x1="344.2" y1="1111.1" x2="344.2" y2="1133.5" stroke="#0d0d0b" stroke-width="2.8" />
<line x1="334.6" y1="1111.1" x2="353.7" y2="1111.1" stroke="#0d0d0b" stroke-width="3.4" />
<circle cx="197.7" cy="1145.5" r="3.55" fill="#08a6d8"/>
<circle cx="194.5" cy="1171.2" r="3.55" fill="#08a6d8"/>
<circle cx="201.2" cy="1180.5" r="3.55" fill="#08a6d8"/>
<circle cx="197.8" cy="1192.8" r="3.55" fill="#08a6d8"/>
<circle cx="197.8" cy="1213.8" r="3.55" fill="#08a6d8"/>
<circle cx="240.9" cy="1178.4" r="3.55" fill="#08a6d8"/>
<circle cx="247.7" cy="1182.8" r="3.55" fill="#08a6d8"/>
<circle cx="240.9" cy="1195.5" r="3.55" fill="#08a6d8"/>
<circle cx="247.7" cy="1199.2" r="3.55" fill="#08a6d8"/>
<circle cx="244.6" cy="1209" r="3.55" fill="#08a6d8"/>
<circle cx="294.6" cy="1078" r="3.55" fill="#08a6d8"/>
<circle cx="298.3" cy="1075.6" r="3.55" fill="#08a6d8"/>
<circle cx="297.8" cy="1137.9" r="3.55" fill="#08a6d8"/>
<circle cx="297.8" cy="1154.6" r="3.55" fill="#08a6d8"/>
<circle cx="297.8" cy="1173.7" r="3.55" fill="#08a6d8"/>
<circle cx="343.9" cy="1043" r="3.55" fill="#08a6d8"/>
<circle cx="343.9" cy="1138.1" r="3.55" fill="#08a6d8"/>
<circle cx="340.7" cy="1148.9" r="3.55" fill="#08a6d8"/>
<circle cx="347.6" cy="1159" r="3.55" fill="#08a6d8"/>
<circle cx="343.9" cy="1170" r="3.55" fill="#08a6d8"/>
<line x1="154.2" y1="1015.7" x2="154.2" y2="1236.9" stroke="#0d0d0b" stroke-width="3.2" />
<line x1="144.5" y1="1235.4" x2="378.3" y2="1235.4" stroke="#0d0d0b" stroke-width="3" />
<line x1="144.5" y1="1017.2" x2="154.2" y2="1017.2" stroke="#0d0d0b" stroke-width="3" />
<text x="142.3" y="1029.1" font-size="34.5" font-weight="bold" fill="#0d0d0b" text-anchor="end">4</text>
<line x1="144.5" y1="1072.4" x2="154.2" y2="1072.4" stroke="#0d0d0b" stroke-width="3" />
<text x="142.3" y="1084.3" font-size="34.5" font-weight="bold" fill="#0d0d0b" text-anchor="end">3</text>
<line x1="144.5" y1="1126.8" x2="154.2" y2="1126.8" stroke="#0d0d0b" stroke-width="3" />
<text x="142.3" y="1138.7" font-size="34.5" font-weight="bold" fill="#0d0d0b" text-anchor="end">2</text>
<line x1="144.5" y1="1181.3" x2="154.2" y2="1181.3" stroke="#0d0d0b" stroke-width="3" />
<text x="142.3" y="1193.2" font-size="34.5" font-weight="bold" fill="#0d0d0b" text-anchor="end">1</text>
<line x1="144.5" y1="1235.4" x2="154.2" y2="1235.4" stroke="#0d0d0b" stroke-width="3" />
<text x="142.3" y="1247.3" font-size="34.5" font-weight="bold" fill="#0d0d0b" text-anchor="end">0</text>
<rect x="175" y="1243.4" width="91" height="5.2" fill="#0d0d0b" />
<rect x="275.2" y="1243.4" width="90.8" height="5.2" fill="#0d0d0b" />
<text transform="translate(100.82,1271.1) scale(1.0386,1.0000)" font-size="28.49" font-weight="bold" fill="#0d0d0b">Light</text>
<rect x="212" y="1258.1" width="17" height="3.6" fill="#0d0d0b" />
<rect x="313.4" y="1260.1" width="19" height="2.8" fill="#0d0d0b" />
<rect x="321.3" y="1252.2" width="3.2" height="18.6" fill="#0d0d0b" />
<text transform="translate(217.43,989.1) scale(0.9545,1.0000)" font-size="41.86" font-weight="bold" font-style="italic" fill="#0d0d0b">Per1</text>
<text transform="translate(287.22,1042.19) scale(1.0574,1.0426)" font-size="50" font-weight="bold" fill="#0d0d0b">*</text>
<text transform="translate(333.6,1042.19) scale(1.0737,1.0426)" font-size="50" font-weight="bold" fill="#0d0d0b">*</text>
<rect x="470.15" y="1228.75" width="44.8" height="6.65" fill="#3c2a96" stroke="#0d0d0b" stroke-width="3.1"/>
<rect x="515.05" y="1229.85" width="46.3" height="5.55" fill="#db2a1c" stroke="#0d0d0b" stroke-width="3.1"/>
<rect x="570.05" y="1171.25" width="44.8" height="64.15" fill="#3c2a96" stroke="#0d0d0b" stroke-width="3.1"/>
<rect x="614.95" y="1102.55" width="46.1" height="132.85" fill="#db2a1c" stroke="#0d0d0b" stroke-width="3.1"/>
<line x1="492.1" y1="1222.8" x2="492.1" y2="1228.2" stroke="#0d0d0b" stroke-width="2.8" />
<line x1="482.6" y1="1222.8" x2="501.6" y2="1222.8" stroke="#0d0d0b" stroke-width="3.4" />
<line x1="539" y1="1226.5" x2="539" y2="1229.3" stroke="#0d0d0b" stroke-width="2.8" />
<line x1="529" y1="1226.5" x2="548" y2="1226.5" stroke="#0d0d0b" stroke-width="3.4" />
<line x1="592.7" y1="1149.6" x2="592.7" y2="1170.7" stroke="#0d0d0b" stroke-width="2.8" />
<line x1="583.4" y1="1149.6" x2="602" y2="1149.6" stroke="#0d0d0b" stroke-width="3.4" />
<line x1="638.5" y1="1066" x2="638.5" y2="1102" stroke="#0d0d0b" stroke-width="2.8" />
<line x1="629.4" y1="1066" x2="647.7" y2="1066" stroke="#0d0d0b" stroke-width="3.4" />
<circle cx="491.5" cy="1202.7" r="3.55" fill="#08a6d8"/>
<circle cx="484.8" cy="1231.5" r="3.55" fill="#08a6d8"/>
<circle cx="491.5" cy="1233" r="3.55" fill="#08a6d8"/>
<circle cx="498" cy="1232" r="3.55" fill="#08a6d8"/>
<circle cx="488" cy="1229" r="3.55" fill="#08a6d8"/>
<circle cx="529.4" cy="1229.9" r="3.55" fill="#08a6d8"/>
<circle cx="532.8" cy="1225.9" r="3.55" fill="#08a6d8"/>
<circle cx="538.8" cy="1223.2" r="3.55" fill="#08a6d8"/>
<circle cx="536" cy="1229.9" r="3.55" fill="#08a6d8"/>
<circle cx="542.4" cy="1231.7" r="3.55" fill="#08a6d8"/>
<circle cx="592.3" cy="1078.7" r="3.55" fill="#08a6d8"/>
<circle cx="592.3" cy="1155.8" r="3.55" fill="#08a6d8"/>
<circle cx="592.3" cy="1168.6" r="3.55" fill="#08a6d8"/>
<circle cx="592.3" cy="1177.5" r="3.55" fill="#08a6d8"/>
<circle cx="592.3" cy="1217" r="3.55" fill="#08a6d8"/>
<circle cx="592.3" cy="1225" r="3.55" fill="#08a6d8"/>
<circle cx="638.3" cy="987.2" r="3.55" fill="#08a6d8"/>
<circle cx="634.7" cy="1075.5" r="3.55" fill="#08a6d8"/>
<circle cx="642.1" cy="1081" r="3.55" fill="#08a6d8"/>
<circle cx="638.3" cy="1177.5" r="3.55" fill="#08a6d8"/>
<circle cx="638.3" cy="1196.9" r="3.55" fill="#08a6d8"/>
<line x1="448.7" y1="1016" x2="448.7" y2="1236.9" stroke="#0d0d0b" stroke-width="3.2" />
<line x1="439" y1="1235.4" x2="675.5" y2="1235.4" stroke="#0d0d0b" stroke-width="3" />
<line x1="439" y1="1017.5" x2="448.7" y2="1017.5" stroke="#0d0d0b" stroke-width="3" />
<text x="433.4" y="1029.4" font-size="34.5" font-weight="bold" fill="#0d0d0b" text-anchor="end">30</text>
<line x1="439" y1="1090.5" x2="448.7" y2="1090.5" stroke="#0d0d0b" stroke-width="3" />
<text x="433.4" y="1102.4" font-size="34.5" font-weight="bold" fill="#0d0d0b" text-anchor="end">20</text>
<line x1="439" y1="1163" x2="448.7" y2="1163" stroke="#0d0d0b" stroke-width="3" />
<text x="433.4" y="1174.9" font-size="34.5" font-weight="bold" fill="#0d0d0b" text-anchor="end">10</text>
<line x1="439" y1="1235.4" x2="448.7" y2="1235.4" stroke="#0d0d0b" stroke-width="3" />
<text x="433.4" y="1247.3" font-size="34.5" font-weight="bold" fill="#0d0d0b" text-anchor="end">0</text>
<rect x="469.7" y="1243.2" width="90.5" height="5.2" fill="#0d0d0b" />
<rect x="570" y="1243.2" width="90.6" height="5.2" fill="#0d0d0b" />
<text transform="translate(395.51,1270.5) scale(1.0406,1.0000)" font-size="28.34" font-weight="bold" fill="#0d0d0b">Light</text>
<rect x="506.7" y="1259.2" width="17" height="3.6" fill="#0d0d0b" />
<rect x="608.2" y="1260.5" width="19" height="2.8" fill="#0d0d0b" />
<rect x="616.1" y="1252.6" width="3.2" height="18.6" fill="#0d0d0b" />
<text transform="translate(504.24,989.1) scale(0.9455,1.0000)" font-size="42.15" font-weight="bold" font-style="italic" fill="#0d0d0b">Prok2</text>
<text transform="translate(581.62,1065.31) scale(1.0574,1.0316)" font-size="50" font-weight="bold" fill="#0d0d0b">*</text>
<text transform="translate(628.03,1065.31) scale(1.0410,1.0316)" font-size="50" font-weight="bold" fill="#0d0d0b">*</text>
<rect x="175.75" y="1574.75" width="44.9" height="21.05" fill="#3c2a96" stroke="#0d0d0b" stroke-width="3.1"/>
<rect x="220.75" y="1542.65" width="45.7" height="53.15" fill="#db2a1c" stroke="#0d0d0b" stroke-width="3.1"/>
<rect x="276.05" y="1502.45" width="45" height="93.35" fill="#3c2a96" stroke="#0d0d0b" stroke-width="3.1"/>
<rect x="321.15" y="1520.55" width="45.5" height="75.25" fill="#db2a1c" stroke="#0d0d0b" stroke-width="3.1"/>
<line x1="198.1" y1="1566.4" x2="198.1" y2="1574.2" stroke="#0d0d0b" stroke-width="2.8" />
<line x1="188.3" y1="1566.4" x2="207.3" y2="1566.4" stroke="#0d0d0b" stroke-width="3.4" />
<line x1="244.3" y1="1527.1" x2="244.3" y2="1542.1" stroke="#0d0d0b" stroke-width="2.8" />
<line x1="234" y1="1527.1" x2="253" y2="1527.1" stroke="#0d0d0b" stroke-width="3.4" />
<line x1="298" y1="1473.9" x2="298" y2="1501.9" stroke="#0d0d0b" stroke-width="2.8" />
<line x1="289" y1="1473.9" x2="307" y2="1473.9" stroke="#0d0d0b" stroke-width="3.4" />
<line x1="344.2" y1="1485.9" x2="344.2" y2="1520" stroke="#0d0d0b" stroke-width="2.8" />
<line x1="334.6" y1="1485.9" x2="353.7" y2="1485.9" stroke="#0d0d0b" stroke-width="3.4" />
<circle cx="197.7" cy="1546" r="3.55" fill="#08a6d8"/>
<circle cx="197.7" cy="1553.4" r="3.55" fill="#08a6d8"/>
<circle cx="197.7" cy="1578.7" r="3.55" fill="#08a6d8"/>
<circle cx="194.3" cy="1586.7" r="3.55" fill="#08a6d8"/>
<circle cx="201.4" cy="1588.5" r="3.55" fill="#08a6d8"/>
<circle cx="197.7" cy="1593.9" r="3.55" fill="#08a6d8"/>
<circle cx="244.3" cy="1508.7" r="3.55" fill="#08a6d8"/>
<circle cx="244.3" cy="1522.5" r="3.55" fill="#08a6d8"/>
<circle cx="244.3" cy="1530" r="3.55" fill="#08a6d8"/>
<circle cx="244.3" cy="1560.7" r="3.55" fill="#08a6d8"/>
<circle cx="244.3" cy="1588.5" r="3.55" fill="#08a6d8"/>
<circle cx="297.8" cy="1361" r="3.55" fill="#08a6d8"/>
<circle cx="297.8" cy="1499.2" r="3.55" fill="#08a6d8"/>
<circle cx="294.6" cy="1506.3" r="3.55" fill="#08a6d8"/>
<circle cx="297.8" cy="1511.2" r="3.55" fill="#08a6d8"/>
<circle cx="301.5" cy="1514.9" r="3.55" fill="#08a6d8"/>
<circle cx="297.8" cy="1558.5" r="3.55" fill="#08a6d8"/>
<circle cx="297.8" cy="1574.2" r="3.55" fill="#08a6d8"/>
<circle cx="343.9" cy="1414.8" r="3.55" fill="#08a6d8"/>
<circle cx="343.9" cy="1464.1" r="3.55" fill="#08a6d8"/>
<circle cx="343.9" cy="1556.1" r="3.55" fill="#08a6d8"/>
<circle cx="343.9" cy="1578.2" r="3.55" fill="#08a6d8"/>
<circle cx="343.9" cy="1587.2" r="3.55" fill="#08a6d8"/>
<line x1="154.2" y1="1376.7" x2="154.2" y2="1597.3" stroke="#0d0d0b" stroke-width="3.2" />
<line x1="144.5" y1="1595.8" x2="378.3" y2="1595.8" stroke="#0d0d0b" stroke-width="3" />
<line x1="144.5" y1="1378.2" x2="154.2" y2="1378.2" stroke="#0d0d0b" stroke-width="3" />
<text x="142.3" y="1390.1" font-size="34.5" font-weight="bold" fill="#0d0d0b" text-anchor="end">10</text>
<line x1="144.5" y1="1422.4" x2="154.2" y2="1422.4" stroke="#0d0d0b" stroke-width="3" />
<text x="142.3" y="1434.3" font-size="34.5" font-weight="bold" fill="#0d0d0b" text-anchor="end">8</text>
<line x1="144.5" y1="1465.8" x2="154.2" y2="1465.8" stroke="#0d0d0b" stroke-width="3" />
<text x="142.3" y="1477.7" font-size="34.5" font-weight="bold" fill="#0d0d0b" text-anchor="end">6</text>
<line x1="144.5" y1="1509.2" x2="154.2" y2="1509.2" stroke="#0d0d0b" stroke-width="3" />
<text x="142.3" y="1521.1" font-size="34.5" font-weight="bold" fill="#0d0d0b" text-anchor="end">4</text>
<line x1="144.5" y1="1552.4" x2="154.2" y2="1552.4" stroke="#0d0d0b" stroke-width="3" />
<text x="142.3" y="1564.3" font-size="34.5" font-weight="bold" fill="#0d0d0b" text-anchor="end">2</text>
<line x1="144.5" y1="1595.8" x2="154.2" y2="1595.8" stroke="#0d0d0b" stroke-width="3" />
<text x="142.3" y="1607.7" font-size="34.5" font-weight="bold" fill="#0d0d0b" text-anchor="end">0</text>
<rect x="175" y="1606.4" width="91" height="5.2" fill="#0d0d0b" />
<rect x="275.2" y="1606.4" width="90.8" height="5.2" fill="#0d0d0b" />
<text transform="translate(100.8,1633.4) scale(1.0555,1.0000)" font-size="27.91" font-weight="bold" fill="#0d0d0b">Light</text>
<rect x="212" y="1621" width="17" height="3.6" fill="#0d0d0b" />
<rect x="313.7" y="1623.3" width="19" height="2.8" fill="#0d0d0b" />
<rect x="321.6" y="1615.4" width="3.2" height="18.6" fill="#0d0d0b" />
<text transform="translate(201.33,1351.2) scale(0.9626,1.0000)" font-size="41.57" font-weight="bold" font-style="italic" fill="#0d0d0b">L-Pgds</text>
<text transform="translate(287.22,1466.18) scale(1.0574,1.0480)" font-size="50" font-weight="bold" fill="#0d0d0b">*</text>
<rect x="470.15" y="1541.95" width="44.8" height="53.55" fill="#3c2a96" stroke="#0d0d0b" stroke-width="3.1"/>
<rect x="515.05" y="1514.55" width="46.3" height="80.95" fill="#db2a1c" stroke="#0d0d0b" stroke-width="3.1"/>
<rect x="570.05" y="1526.75" width="44.8" height="68.75" fill="#3c2a96" stroke="#0d0d0b" stroke-width="3.1"/>
<rect x="614.95" y="1485.55" width="46.1" height="109.95" fill="#db2a1c" stroke="#0d0d0b" stroke-width="3.1"/>
<line x1="492.1" y1="1530.8" x2="492.1" y2="1541.4" stroke="#0d0d0b" stroke-width="2.8" />
<line x1="482.6" y1="1530.8" x2="501.6" y2="1530.8" stroke="#0d0d0b" stroke-width="3.4" />
<line x1="538.9" y1="1486.9" x2="538.9" y2="1514" stroke="#0d0d0b" stroke-width="2.8" />
<line x1="529.4" y1="1486.9" x2="548.4" y2="1486.9" stroke="#0d0d0b" stroke-width="3.4" />
<line x1="592.7" y1="1514.1" x2="592.7" y2="1526.2" stroke="#0d0d0b" stroke-width="2.8" />
<line x1="583.4" y1="1514.1" x2="602" y2="1514.1" stroke="#0d0d0b" stroke-width="3.4" />
<line x1="638.5" y1="1447.8" x2="638.5" y2="1485" stroke="#0d0d0b" stroke-width="2.8" />
<line x1="629.4" y1="1447.8" x2="647.7" y2="1447.8" stroke="#0d0d0b" stroke-width="3.4" />
<circle cx="493.3" cy="1505.4" r="3.55" fill="#08a6d8"/>
<circle cx="496.4" cy="1524.1" r="3.55" fill="#08a6d8"/>
<circle cx="490" cy="1528.2" r="3.55" fill="#08a6d8"/>
<circle cx="493.3" cy="1554.9" r="3.55" fill="#08a6d8"/>
<circle cx="496.4" cy="1565" r="3.55" fill="#08a6d8"/>
<circle cx="490" cy="1572.1" r="3.55" fill="#08a6d8"/>
<circle cx="538.4" cy="1419.3" r="3.55" fill="#08a6d8"/>
<circle cx="538.4" cy="1486.9" r="3.55" fill="#08a6d8"/>
<circle cx="538.4" cy="1536" r="3.55" fill="#08a6d8"/>
<circle cx="538.4" cy="1552" r="3.55" fill="#08a6d8"/>
<circle cx="538.4" cy="1577" r="3.55" fill="#08a6d8"/>
<circle cx="593.7" cy="1463.9" r="3.55" fill="#08a6d8"/>
<circle cx="590.3" cy="1520.1" r="3.55" fill="#08a6d8"/>
<circle cx="596.8" cy="1521.9" r="3.55" fill="#08a6d8"/>
<circle cx="590.3" cy="1527.5" r="3.55" fill="#08a6d8"/>
<circle cx="596.8" cy="1529" r="3.55" fill="#08a6d8"/>
<circle cx="593.7" cy="1556.9" r="3.55" fill="#08a6d8"/>
<circle cx="593.7" cy="1567.6" r="3.55" fill="#08a6d8"/>
<circle cx="637.2" cy="1387.4" r="3.55" fill="#08a6d8"/>
<circle cx="637.2" cy="1414.8" r="3.55" fill="#08a6d8"/>
<circle cx="637.2" cy="1489.6" r="3.55" fill="#08a6d8"/>
<circle cx="637.2" cy="1556.5" r="3.55" fill="#08a6d8"/>
<circle cx="637.2" cy="1576.5" r="3.55" fill="#08a6d8"/>
<line x1="448.7" y1="1376.5" x2="448.7" y2="1597" stroke="#0d0d0b" stroke-width="3.2" />
<line x1="439" y1="1595.5" x2="675.5" y2="1595.5" stroke="#0d0d0b" stroke-width="3" />
<line x1="439" y1="1378" x2="448.7" y2="1378" stroke="#0d0d0b" stroke-width="3" />
<text x="433.4" y="1389.9" font-size="34.5" font-weight="bold" fill="#0d0d0b" text-anchor="end">4</text>
<line x1="439" y1="1432.7" x2="448.7" y2="1432.7" stroke="#0d0d0b" stroke-width="3" />
<text x="433.4" y="1444.6" font-size="34.5" font-weight="bold" fill="#0d0d0b" text-anchor="end">3</text>
<line x1="439" y1="1487.3" x2="448.7" y2="1487.3" stroke="#0d0d0b" stroke-width="3" />
<text x="433.4" y="1499.2" font-size="34.5" font-weight="bold" fill="#0d0d0b" text-anchor="end">2</text>
<line x1="439" y1="1541.3" x2="448.7" y2="1541.3" stroke="#0d0d0b" stroke-width="3" />
<text x="433.4" y="1553.2" font-size="34.5" font-weight="bold" fill="#0d0d0b" text-anchor="end">1</text>
<line x1="439" y1="1595.5" x2="448.7" y2="1595.5" stroke="#0d0d0b" stroke-width="3" />
<text x="433.4" y="1607.4" font-size="34.5" font-weight="bold" fill="#0d0d0b" text-anchor="end">0</text>
<rect x="469.7" y="1606" width="90.5" height="5.2" fill="#0d0d0b" />
<rect x="570" y="1606" width="90.6" height="5.2" fill="#0d0d0b" />
<text transform="translate(395.48,1632.3) scale(1.0723,1.0000)" font-size="27.47" font-weight="bold" fill="#0d0d0b">Light</text>
<rect x="506.7" y="1621" width="17" height="3.6" fill="#0d0d0b" />
<rect x="608.2" y="1623.3" width="19" height="2.8" fill="#0d0d0b" />
<rect x="616.1" y="1615.4" width="3.2" height="18.6" fill="#0d0d0b" />
<text transform="translate(511.65,1351.4) scale(0.9514,1.0000)" font-size="41.86" font-weight="bold" font-style="italic" fill="#0d0d0b">Cryab</text>
<rect x="846.55" y="1224.95" width="45.2" height="9.85" fill="#3c2a96" stroke="#0d0d0b" stroke-width="3.1"/>
<rect x="891.85" y="1210.55" width="46" height="24.25" fill="#db2a1c" stroke="#0d0d0b" stroke-width="3.1"/>
<rect x="946.55" y="1171.35" width="44.4" height="63.45" fill="#3c2a96" stroke="#0d0d0b" stroke-width="3.1"/>
<rect x="991.05" y="1118.75" width="46.4" height="116.05" fill="#db2a1c" stroke="#0d0d0b" stroke-width="3.1"/>
<line x1="868.4" y1="1221" x2="868.4" y2="1224.4" stroke="#0d0d0b" stroke-width="2.8" />
<line x1="862" y1="1221" x2="875" y2="1221" stroke="#0d0d0b" stroke-width="3.4" />
<line x1="916" y1="1206.5" x2="916" y2="1210" stroke="#0d0d0b" stroke-width="2.8" />
<line x1="905" y1="1206.5" x2="927" y2="1206.5" stroke="#0d0d0b" stroke-width="3.4" />
<line x1="968.9" y1="1156.7" x2="968.9" y2="1170.8" stroke="#0d0d0b" stroke-width="2.8" />
<line x1="958" y1="1156.7" x2="979.8" y2="1156.7" stroke="#0d0d0b" stroke-width="3.4" />
<line x1="1015.3" y1="1097" x2="1015.3" y2="1118.2" stroke="#0d0d0b" stroke-width="2.8" />
<line x1="1004.3" y1="1097" x2="1026.3" y2="1097" stroke="#0d0d0b" stroke-width="3.4" />
<circle cx="865.3" cy="1222.9" r="3.55" fill="#08a6d8"/>
<circle cx="869.1" cy="1220.4" r="3.55" fill="#08a6d8"/>
<circle cx="872.1" cy="1225" r="3.55" fill="#08a6d8"/>
<circle cx="868.1" cy="1229.2" r="3.55" fill="#08a6d8"/>
<circle cx="915.8" cy="1202.2" r="3.55" fill="#08a6d8"/>
<circle cx="912" cy="1209" r="3.55" fill="#08a6d8"/>
<circle cx="919.1" cy="1209" r="3.55" fill="#08a6d8"/>
<circle cx="912" cy="1212.8" r="3.55" fill="#08a6d8"/>
<circle cx="915.8" cy="1219.1" r="3.55" fill="#08a6d8"/>
<circle cx="968.4" cy="1134.9" r="3.55" fill="#08a6d8"/>
<circle cx="968.4" cy="1167.8" r="3.55" fill="#08a6d8"/>
<circle cx="968.4" cy="1185" r="3.55" fill="#08a6d8"/>
<circle cx="968.4" cy="1195.6" r="3.55" fill="#08a6d8"/>
<circle cx="1015.2" cy="1050.6" r="3.55" fill="#08a6d8"/>
<circle cx="1015.2" cy="1092.2" r="3.55" fill="#08a6d8"/>
<circle cx="1015.2" cy="1128.9" r="3.55" fill="#08a6d8"/>
<circle cx="1015.2" cy="1146.6" r="3.55" fill="#08a6d8"/>
<circle cx="1015.2" cy="1173.1" r="3.55" fill="#08a6d8"/>
<line x1="825" y1="1016.1" x2="825" y2="1236.3" stroke="#0d0d0b" stroke-width="3.2" />
<line x1="815.6" y1="1234.8" x2="1051.6" y2="1234.8" stroke="#0d0d0b" stroke-width="3" />
<line x1="815.6" y1="1018.4" x2="825" y2="1018.4" stroke="#0d0d0b" stroke-width="3" />
<text x="812" y="1030.3" font-size="34.5" font-weight="bold" fill="#0d0d0b" text-anchor="end">20</text>
<line x1="815.6" y1="1069.3" x2="825" y2="1069.3" stroke="#0d0d0b" stroke-width="3" />
<text x="812" y="1081.2" font-size="34.5" font-weight="bold" fill="#0d0d0b" text-anchor="end">15</text>
<line x1="815.6" y1="1123" x2="825" y2="1123" stroke="#0d0d0b" stroke-width="3" />
<text x="812" y="1134.9" font-size="34.5" font-weight="bold" fill="#0d0d0b" text-anchor="end">10</text>
<line x1="815.6" y1="1177.4" x2="825" y2="1177.4" stroke="#0d0d0b" stroke-width="3" />
<text x="812" y="1189.3" font-size="34.5" font-weight="bold" fill="#0d0d0b" text-anchor="end">5</text>
<line x1="815.6" y1="1234.8" x2="825" y2="1234.8" stroke="#0d0d0b" stroke-width="3" />
<text x="812" y="1246.7" font-size="34.5" font-weight="bold" fill="#0d0d0b" text-anchor="end">0</text>
<rect x="846.3" y="1242.2" width="90.5" height="5.2" fill="#0d0d0b" />
<rect x="946.2" y="1242.2" width="90.2" height="5.2" fill="#0d0d0b" />
<text transform="translate(771.09,1269.7) scale(1.0525,1.0000)" font-size="28.34" font-weight="bold" fill="#0d0d0b">Light</text>
<rect x="883" y="1257.2" width="17" height="3.6" fill="#0d0d0b" />
<rect x="984" y="1259.6" width="19" height="2.8" fill="#0d0d0b" />
<rect x="991.9" y="1251.7" width="3.2" height="18.6" fill="#0d0d0b" />
<text transform="translate(888.53,986.4) scale(0.9545,1.0000)" font-size="41.86" font-weight="bold" font-style="italic" fill="#0d0d0b">Per1</text>
<text transform="translate(958.23,1087.2) scale(1.0410,1.0371)" font-size="50" font-weight="bold" fill="#0d0d0b">*</text>
<text transform="translate(993.69,1032.89) scale(1.0974,1.0426)" font-size="50" font-weight="bold" fill="#0d0d0b">**</text>
<rect x="846.55" y="1524.35" width="45.2" height="71.25" fill="#3c2a96" stroke="#0d0d0b" stroke-width="3.1"/>
<rect x="891.85" y="1572.45" width="46" height="23.15" fill="#db2a1c" stroke="#0d0d0b" stroke-width="3.1"/>
<rect x="946.55" y="1502.95" width="44.4" height="92.65" fill="#3c2a96" stroke="#0d0d0b" stroke-width="3.1"/>
<rect x="991.05" y="1568.85" width="46.4" height="26.75" fill="#db2a1c" stroke="#0d0d0b" stroke-width="3.1"/>
<line x1="869.3" y1="1482.4" x2="869.3" y2="1523.8" stroke="#0d0d0b" stroke-width="2.8" />
<line x1="859" y1="1482.4" x2="879.7" y2="1482.4" stroke="#0d0d0b" stroke-width="3.4" />
<line x1="916" y1="1562.8" x2="916" y2="1571.9" stroke="#0d0d0b" stroke-width="2.8" />
<line x1="905" y1="1562.8" x2="927" y2="1562.8" stroke="#0d0d0b" stroke-width="3.4" />
<line x1="969.2" y1="1452.8" x2="969.2" y2="1502.4" stroke="#0d0d0b" stroke-width="2.8" />
<line x1="958.8" y1="1452.8" x2="979.6" y2="1452.8" stroke="#0d0d0b" stroke-width="3.4" />
<line x1="1015.3" y1="1562" x2="1015.3" y2="1568.3" stroke="#0d0d0b" stroke-width="2.8" />
<line x1="1004.3" y1="1562" x2="1026.3" y2="1562" stroke="#0d0d0b" stroke-width="3.4" />
<circle cx="868.6" cy="1399.7" r="3.55" fill="#08a6d8"/>
<circle cx="868.6" cy="1546.4" r="3.55" fill="#08a6d8"/>
<circle cx="868.6" cy="1562.8" r="3.55" fill="#08a6d8"/>
<circle cx="868.6" cy="1585" r="3.55" fill="#08a6d8"/>
<circle cx="915.3" cy="1546.4" r="3.55" fill="#08a6d8"/>
<circle cx="915.3" cy="1556" r="3.55" fill="#08a6d8"/>
<circle cx="912" cy="1578.5" r="3.55" fill="#08a6d8"/>
<circle cx="918.6" cy="1584.3" r="3.55" fill="#08a6d8"/>
<circle cx="915.3" cy="1592.6" r="3.55" fill="#08a6d8"/>
<circle cx="968.4" cy="1354.2" r="3.55" fill="#08a6d8"/>
<circle cx="965.1" cy="1542" r="3.55" fill="#08a6d8"/>
<circle cx="972.2" cy="1543" r="3.55" fill="#08a6d8"/>
<circle cx="968.4" cy="1568.3" r="3.55" fill="#08a6d8"/>
<circle cx="1015.2" cy="1548.1" r="3.55" fill="#08a6d8"/>
<circle cx="1011.9" cy="1565.8" r="3.55" fill="#08a6d8"/>
<circle cx="1018.7" cy="1565.3" r="3.55" fill="#08a6d8"/>
<circle cx="1015.2" cy="1571.6" r="3.55" fill="#08a6d8"/>
<circle cx="1015.2" cy="1587.6" r="3.55" fill="#08a6d8"/>
<line x1="825" y1="1376.8" x2="825" y2="1597.1" stroke="#0d0d0b" stroke-width="3.2" />
<line x1="815.6" y1="1595.6" x2="1051.6" y2="1595.6" stroke="#0d0d0b" stroke-width="3" />
<line x1="815.6" y1="1378.3" x2="825" y2="1378.3" stroke="#0d0d0b" stroke-width="3" />
<text x="812" y="1390.2" font-size="34.5" font-weight="bold" fill="#0d0d0b" text-anchor="end">3</text>
<line x1="815.6" y1="1451.6" x2="825" y2="1451.6" stroke="#0d0d0b" stroke-width="3" />
<text x="812" y="1463.5" font-size="34.5" font-weight="bold" fill="#0d0d0b" text-anchor="end">2</text>
<line x1="815.6" y1="1523.6" x2="825" y2="1523.6" stroke="#0d0d0b" stroke-width="3" />
<text x="812" y="1535.5" font-size="34.5" font-weight="bold" fill="#0d0d0b" text-anchor="end">1</text>
<line x1="815.6" y1="1595.6" x2="825" y2="1595.6" stroke="#0d0d0b" stroke-width="3" />
<text x="812" y="1607.5" font-size="34.5" font-weight="bold" fill="#0d0d0b" text-anchor="end">0</text>
<rect x="846.3" y="1604.8" width="90.5" height="5.2" fill="#0d0d0b" />
<rect x="946.2" y="1604.8" width="90.2" height="5.2" fill="#0d0d0b" />
<text transform="translate(771.09,1632.3) scale(1.0525,1.0000)" font-size="28.34" font-weight="bold" fill="#0d0d0b">Light</text>
<rect x="883" y="1619.2" width="17" height="3.6" fill="#0d0d0b" />
<rect x="984" y="1622.1" width="19" height="2.8" fill="#0d0d0b" />
<rect x="991.9" y="1614.2" width="3.2" height="18.6" fill="#0d0d0b" />
<text transform="translate(872.23,1348.7) scale(0.9618,1.0000)" font-size="41.57" font-weight="bold" font-style="italic" fill="#0d0d0b">L-Pgds</text>
<rect x="1138.05" y="1524.15" width="45.6" height="71.35" fill="#3c2a96" stroke="#0d0d0b" stroke-width="3.1"/>
<rect x="1183.75" y="1533.95" width="44.8" height="61.55" fill="#db2a1c" stroke="#0d0d0b" stroke-width="3.1"/>
<rect x="1237.95" y="1524.15" width="44.6" height="71.35" fill="#3c2a96" stroke="#0d0d0b" stroke-width="3.1"/>
<rect x="1282.65" y="1491.15" width="45.8" height="104.35" fill="#db2a1c" stroke="#0d0d0b" stroke-width="3.1"/>
<line x1="1160" y1="1506.3" x2="1160" y2="1523.6" stroke="#0d0d0b" stroke-width="2.8" />
<line x1="1150.5" y1="1506.3" x2="1169.5" y2="1506.3" stroke="#0d0d0b" stroke-width="3.4" />
<line x1="1206.8" y1="1520.8" x2="1206.8" y2="1533.4" stroke="#0d0d0b" stroke-width="2.8" />
<line x1="1197.3" y1="1520.8" x2="1216.3" y2="1520.8" stroke="#0d0d0b" stroke-width="3.4" />
<line x1="1259.5" y1="1514.1" x2="1259.5" y2="1523.6" stroke="#0d0d0b" stroke-width="2.8" />
<line x1="1249.8" y1="1514.1" x2="1269.2" y2="1514.1" stroke="#0d0d0b" stroke-width="3.4" />
<line x1="1306.1" y1="1470.6" x2="1306.1" y2="1490.6" stroke="#0d0d0b" stroke-width="2.8" />
<line x1="1296.6" y1="1470.6" x2="1315.6" y2="1470.6" stroke="#0d0d0b" stroke-width="3.4" />
<circle cx="1160.1" cy="1493.4" r="3.55" fill="#08a6d8"/>
<circle cx="1160.1" cy="1507.4" r="3.55" fill="#08a6d8"/>
<circle cx="1160.1" cy="1521.5" r="3.55" fill="#08a6d8"/>
<circle cx="1160.1" cy="1572.1" r="3.55" fill="#08a6d8"/>
<circle cx="1207" cy="1487.8" r="3.55" fill="#08a6d8"/>
<circle cx="1207" cy="1529.7" r="3.55" fill="#08a6d8"/>
<circle cx="1203.4" cy="1542" r="3.55" fill="#08a6d8"/>
<circle cx="1210" cy="1545.3" r="3.55" fill="#08a6d8"/>
<circle cx="1207" cy="1563.2" r="3.55" fill="#08a6d8"/>
<circle cx="1255.8" cy="1511.4" r="3.55" fill="#08a6d8"/>
<circle cx="1263.2" cy="1510" r="3.55" fill="#08a6d8"/>
<circle cx="1259.6" cy="1523.5" r="3.55" fill="#08a6d8"/>
<circle cx="1259.6" cy="1549.8" r="3.55" fill="#08a6d8"/>
<circle cx="1303.3" cy="1453.2" r="3.55" fill="#08a6d8"/>
<circle cx="1309.8" cy="1455.4" r="3.55" fill="#08a6d8"/>
<circle cx="1306.4" cy="1475.5" r="3.55" fill="#08a6d8"/>
<circle cx="1306.4" cy="1514.8" r="3.55" fill="#08a6d8"/>
<circle cx="1306.4" cy="1556" r="3.55" fill="#08a6d8"/>
<line x1="1117.5" y1="1377.2" x2="1117.5" y2="1597" stroke="#0d0d0b" stroke-width="3.2" />
<line x1="1108.6" y1="1595.5" x2="1345" y2="1595.5" stroke="#0d0d0b" stroke-width="3" />
<line x1="1108.6" y1="1378.7" x2="1117.5" y2="1378.7" stroke="#0d0d0b" stroke-width="3" />
<text x="1105.3" y="1390.6" font-size="34.5" font-weight="bold" fill="#0d0d0b" text-anchor="end">3</text>
<line x1="1108.6" y1="1451" x2="1117.5" y2="1451" stroke="#0d0d0b" stroke-width="3" />
<text x="1105.3" y="1462.9" font-size="34.5" font-weight="bold" fill="#0d0d0b" text-anchor="end">2</text>
<line x1="1108.6" y1="1523" x2="1117.5" y2="1523" stroke="#0d0d0b" stroke-width="3" />
<text x="1105.3" y="1534.9" font-size="34.5" font-weight="bold" fill="#0d0d0b" text-anchor="end">1</text>
<line x1="1108.6" y1="1595.5" x2="1117.5" y2="1595.5" stroke="#0d0d0b" stroke-width="3" />
<text x="1105.3" y="1607.4" font-size="34.5" font-weight="bold" fill="#0d0d0b" text-anchor="end">0</text>
<rect x="1137.6" y="1604.9" width="90.3" height="5.2" fill="#0d0d0b" />
<rect x="1237.3" y="1604.9" width="90.5" height="5.2" fill="#0d0d0b" />
<text transform="translate(1062.66,1632.3) scale(1.0830,1.0000)" font-size="27.47" font-weight="bold" fill="#0d0d0b">Light</text>
<rect x="1174" y="1620" width="17" height="3.6" fill="#0d0d0b" />
<rect x="1276" y="1622" width="19" height="2.8" fill="#0d0d0b" />
<rect x="1283.9" y="1614.1" width="3.2" height="18.6" fill="#0d0d0b" />
<text transform="translate(1178.75,1348.7) scale(0.9568,1.0000)" font-size="41.72" font-weight="bold" font-style="italic" fill="#0d0d0b">Cryab</text>
<text transform="translate(1171.43,986.3) scale(0.9527,1.0000)" font-size="42.01" font-weight="bold" font-style="italic" fill="#0d0d0b">Prok2</text>
<text transform="translate(1188.53,1129) scale(0.9925,1.0000)" font-size="37.5" font-weight="normal" fill="#0d0d0b">N.D.</text>
<text transform="translate(80.67,1283.93) rotate(-90) scale(0.9869,1.0420)" font-size="34" font-weight="bold" fill="#0d0d0b">Relative mRNA level</text>
<text transform="translate(80.67,1649.22) rotate(-90) scale(0.9853,1.0593)" font-size="34" font-weight="bold" fill="#0d0d0b">Relative mRNA level</text>
<text transform="translate(755.67,1284.33) rotate(-90) scale(0.9869,1.0722)" font-size="34" font-weight="bold" fill="#0d0d0b">Relative mRNA level</text>
<text transform="translate(755.37,1645.42) rotate(-90) scale(0.9844,1.0636)" font-size="34" font-weight="bold" fill="#0d0d0b">Relative mRNA level</text>
</svg></body></html>
